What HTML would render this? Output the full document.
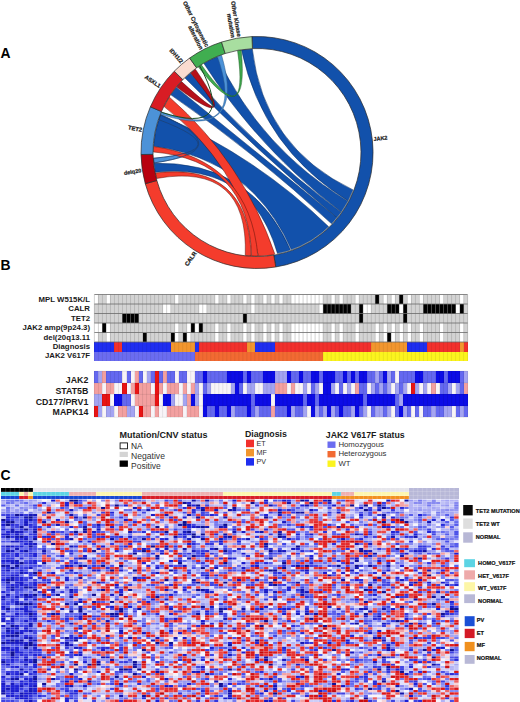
<!DOCTYPE html>
<html><head><meta charset="utf-8"><style>
html,body{margin:0;padding:0;background:#fff;}
body{width:520px;height:702px;position:relative;overflow:hidden;}
</style></head><body>
<svg width="520" height="702" viewBox="0 0 520 702" style="position:absolute;left:0;top:0"><rect width="520" height="702" fill="#ffffff"/><path d="M153.93,162.97 A103.6,103.6 0 0 1 153.56,158.28 Q239.86,150.20 158.75,119.63 A103.6,103.6 0 0 1 160.61,114.53 Q240.05,150.16 153.93,162.97 Z" fill="#4c92d8" stroke="#2a5a8a" stroke-width="0.5"/><path d="M328.97,227.02 A103.6,103.6 0 0 1 291.58,250.16 Q251.84,159.35 153.59,146.18 A103.6,103.6 0 0 1 160.41,115.04 Q255.15,155.28 328.97,227.02 Z" fill="#1251ab" stroke="#062a5c" stroke-width="0.5"/><path d="M290.73,250.46 A103.6,103.6 0 0 1 277.65,254.02 Q250.92,161.60 155.30,172.27 A103.6,103.6 0 0 1 153.97,163.33 Q251.80,160.66 290.73,250.46 Z" fill="#1251ab" stroke="#062a5c" stroke-width="0.5"/><path d="M353.52,190.13 A103.6,103.6 0 0 1 348.47,201.14 Q262.70,148.47 241.51,50.06 A103.6,103.6 0 0 1 252.30,49.01 Q263.89,147.56 353.52,190.13 Z" fill="#1251ab" stroke="#062a5c" stroke-width="0.5"/><path d="M348.30,201.46 A103.6,103.6 0 0 1 341.66,212.22 Q259.37,150.30 203.95,63.51 A103.6,103.6 0 0 1 217.35,56.79 Q260.87,148.99 348.30,201.46 Z" fill="#1251ab" stroke="#062a5c" stroke-width="0.5"/><path d="M341.45,212.51 A103.6,103.6 0 0 1 337.28,217.98 Q257.62,151.82 185.03,77.98 A103.6,103.6 0 0 1 190.41,73.14 Q258.34,151.05 341.45,212.51 Z" fill="#1251ab" stroke="#062a5c" stroke-width="0.5"/><path d="M337.28,217.98 A103.6,103.6 0 0 1 331.90,224.08 Q256.16,153.55 170.91,94.87 A103.6,103.6 0 0 1 176.37,87.44 Q256.97,152.53 337.28,217.98 Z" fill="#1251ab" stroke="#062a5c" stroke-width="0.5"/><path d="M274.99,254.53 A103.6,103.6 0 0 1 258.45,256.09 Q238.71,164.04 164.12,106.60 A103.6,103.6 0 0 1 169.43,97.14 Q243.08,161.83 274.99,254.53 Z" fill="#f43c2c" stroke="#5a1008" stroke-width="0.5"/><path d="M257.90,256.10 A103.6,103.6 0 0 1 251.58,255.96 Q248.82,160.22 153.40,151.96 A103.6,103.6 0 0 1 153.57,146.54 Q249.31,159.82 257.90,256.10 Z" fill="#f43c2c" stroke="#5a1008" stroke-width="0.5"/><path d="M251.04,255.93 A103.6,103.6 0 0 1 245.27,255.43 Q248.60,162.17 156.70,178.44 A103.6,103.6 0 0 1 155.44,172.98 Q248.94,161.79 251.04,255.93 Z" fill="#f43c2c" stroke="#5a1008" stroke-width="0.5"/><path d="M153.93,162.97 A103.6,103.6 0 0 1 153.56,158.28 Q239.86,150.20 158.75,119.63 A103.6,103.6 0 0 1 160.61,114.53 Q240.05,150.16 153.93,162.97 Z" fill="none" stroke="#1d3f70" stroke-width="0.7"/><path d="M176.72,87.02 A103.6,103.6 0 0 1 181.48,81.58 Q241.40,135.94 190.68,72.91 A103.6,103.6 0 0 1 195.38,69.22 Q241.39,136.14 176.72,87.02 Z" fill="#b5101a" stroke="#5a0008" stroke-width="0.5"/><path d="M160.68,114.36 A103.6,103.6 0 0 1 161.64,112.02 Q246.89,142.28 217.52,56.72 A103.6,103.6 0 0 1 221.57,55.15 Q247.12,142.34 160.68,114.36 Z" fill="#4c92d8" stroke="#2a5a8a" stroke-width="0.5"/><path d="M198.47,67.02 A103.6,103.6 0 0 1 201.49,65.03 Q249.51,133.58 237.59,50.74 A103.6,103.6 0 0 1 241.15,50.12 Q249.56,133.71 198.47,67.02 Z" fill="#3fab4d" stroke="#1a5a22" stroke-width="0.5"/><path d="M199.82,66.11 Q237.85,136.43 161.49,112.35" fill="none" stroke="#1a4d24" stroke-width="1.0"/><path d="M251.94,36.61 A116.0,116.0 0 0 1 275.75,266.98 L273.81,255.13 A104.0,104.0 0 0 0 252.46,48.60 Z" fill="#1251ab" stroke="#2a2a2a" stroke-width="0.7"/><path d="M275.75,266.98 A116.0,116.0 0 0 1 145.27,183.69 L156.83,180.47 A104.0,104.0 0 0 0 273.81,255.13 Z" fill="#f43c2c" stroke="#2a2a2a" stroke-width="0.7"/><path d="M145.27,183.69 A116.0,116.0 0 0 1 141.02,154.52 L153.02,154.32 A104.0,104.0 0 0 0 156.83,180.47 Z" fill="#b8000f" stroke="#2a2a2a" stroke-width="0.7"/><path d="M141.02,154.52 A116.0,116.0 0 0 1 150.38,106.80 L161.41,111.53 A104.0,104.0 0 0 0 153.02,154.32 Z" fill="#4c92d8" stroke="#2a2a2a" stroke-width="0.7"/><path d="M150.38,106.80 A116.0,116.0 0 0 1 174.26,71.19 L182.82,79.61 A104.0,104.0 0 0 0 161.41,111.53 Z" fill="#d81c24" stroke="#2a2a2a" stroke-width="0.7"/><path d="M174.26,71.19 A116.0,116.0 0 0 1 189.64,58.06 L196.61,67.83 A104.0,104.0 0 0 0 182.82,79.61 Z" fill="#fadcd0" stroke="#2a2a2a" stroke-width="0.7"/><path d="M189.64,58.06 A116.0,116.0 0 0 1 221.54,42.05 L225.21,53.48 A104.0,104.0 0 0 0 196.61,67.83 Z" fill="#40ae50" stroke="#2a2a2a" stroke-width="0.7"/><path d="M221.54,42.05 A116.0,116.0 0 0 1 251.94,36.61 L252.46,48.60 A104.0,104.0 0 0 0 225.21,53.48 Z" fill="#a8dea0" stroke="#2a2a2a" stroke-width="0.7"/><path d="M353.85,188.71 A103.4,103.4 0 0 1 274.07,254.48" fill="none" stroke="#cfc6a8" stroke-width="0.5"/><g transform="translate(373.42,139.03) rotate(-6.60)"><text x="0" y="1.98" text-anchor="start" font-family="'Liberation Sans', sans-serif" font-weight="bold" font-size="5.5" fill="#1a1a1a" stroke="#1a1a1a" stroke-width="0.22">JAK2</text></g><g transform="translate(195.24,252.11) rotate(-55.00)"><text x="0" y="2.09" text-anchor="end" font-family="'Liberation Sans', sans-serif" font-weight="bold" font-size="5.8" fill="#1a1a1a" stroke="#1a1a1a" stroke-width="0.22">CALR</text></g><g transform="translate(141.18,170.43) rotate(-8.80)"><text x="0" y="1.98" text-anchor="end" font-family="'Liberation Sans', sans-serif" font-weight="bold" font-size="5.5" fill="#1a1a1a" stroke="#1a1a1a" stroke-width="0.22">delq20</text></g><g transform="translate(141.99,129.94) rotate(11.10)"><text x="0" y="2.09" text-anchor="end" font-family="'Liberation Sans', sans-serif" font-weight="bold" font-size="5.8" fill="#1a1a1a" stroke="#1a1a1a" stroke-width="0.22">TET2</text></g><g transform="translate(160.18,86.45) rotate(34.30)"><text x="0" y="2.02" text-anchor="end" font-family="'Liberation Sans', sans-serif" font-weight="bold" font-size="5.6" fill="#1a1a1a" stroke="#1a1a1a" stroke-width="0.22">ASXL1</text></g><g transform="translate(182.14,62.33) rotate(48.50)"><text x="0" y="2.02" text-anchor="end" font-family="'Liberation Sans', sans-serif" font-weight="bold" font-size="5.6" fill="#1a1a1a" stroke="#1a1a1a" stroke-width="0.22">IDH1/2</text></g><g transform="translate(204.43,47.75) rotate(63.35)"><text x="0" y="-1.01" text-anchor="end" font-family="'Liberation Sans', sans-serif" font-weight="bold" font-size="5.8" fill="#1a1a1a" stroke="#1a1a1a" stroke-width="0.22">Other Cytogenetic</text><text x="0" y="5.19" text-anchor="end" font-family="'Liberation Sans', sans-serif" font-weight="bold" font-size="5.8" fill="#1a1a1a" stroke="#1a1a1a" stroke-width="0.22">alteration</text></g><g transform="translate(236.35,37.13) rotate(79.85)"><text x="0" y="-1.01" text-anchor="end" font-family="'Liberation Sans', sans-serif" font-weight="bold" font-size="5.8" fill="#1a1a1a" stroke="#1a1a1a" stroke-width="0.22">Other Kinase</text><text x="0" y="5.19" text-anchor="end" font-family="'Liberation Sans', sans-serif" font-weight="bold" font-size="5.8" fill="#1a1a1a" stroke="#1a1a1a" stroke-width="0.22">mutation</text></g><text x="0.6" y="57.7" font-family="'Liberation Sans', sans-serif" font-weight="bold" font-size="13.9" fill="#000">A</text><text x="0.6" y="270.0" font-family="'Liberation Sans', sans-serif" font-weight="bold" font-size="13.9" fill="#000">B</text><text x="0.6" y="479.6" font-family="'Liberation Sans', sans-serif" font-weight="bold" font-size="13.9" fill="#000">C</text><g shape-rendering="crispEdges"><rect x="94.40" y="294.50" width="4.01" height="9.50" fill="#ffffff"/><rect x="94.40" y="304.00" width="4.01" height="9.50" fill="#d3d3d3"/><rect x="94.40" y="313.50" width="4.01" height="9.50" fill="#d3d3d3"/><rect x="94.40" y="323.00" width="4.01" height="9.50" fill="#ffffff"/><rect x="94.40" y="332.50" width="4.01" height="9.50" fill="#ffffff"/><rect x="94.40" y="342.00" width="4.01" height="9.50" fill="#1f2ef0"/><rect x="94.40" y="351.50" width="4.01" height="9.50" fill="#6b6cf0"/><rect x="98.41" y="294.50" width="4.01" height="9.50" fill="#d3d3d3"/><rect x="98.41" y="304.00" width="4.01" height="9.50" fill="#d3d3d3"/><rect x="98.41" y="313.50" width="4.01" height="9.50" fill="#d3d3d3"/><rect x="98.41" y="323.00" width="4.01" height="9.50" fill="#ffffff"/><rect x="98.41" y="332.50" width="4.01" height="9.50" fill="#d3d3d3"/><rect x="98.41" y="342.00" width="4.01" height="9.50" fill="#1f2ef0"/><rect x="98.41" y="351.50" width="4.01" height="9.50" fill="#6b6cf0"/><rect x="102.43" y="294.50" width="4.01" height="9.50" fill="#d3d3d3"/><rect x="102.43" y="304.00" width="4.01" height="9.50" fill="#d3d3d3"/><rect x="102.43" y="313.50" width="4.01" height="9.50" fill="#d3d3d3"/><rect x="102.43" y="323.00" width="4.01" height="9.50" fill="#000000"/><rect x="102.43" y="332.50" width="4.01" height="9.50" fill="#d3d3d3"/><rect x="102.43" y="342.00" width="4.01" height="9.50" fill="#1f2ef0"/><rect x="102.43" y="351.50" width="4.01" height="9.50" fill="#6b6cf0"/><rect x="106.44" y="294.50" width="4.01" height="9.50" fill="#ffffff"/><rect x="106.44" y="304.00" width="4.01" height="9.50" fill="#d3d3d3"/><rect x="106.44" y="313.50" width="4.01" height="9.50" fill="#d3d3d3"/><rect x="106.44" y="323.00" width="4.01" height="9.50" fill="#ffffff"/><rect x="106.44" y="332.50" width="4.01" height="9.50" fill="#ffffff"/><rect x="106.44" y="342.00" width="4.01" height="9.50" fill="#1f2ef0"/><rect x="106.44" y="351.50" width="4.01" height="9.50" fill="#6b6cf0"/><rect x="110.45" y="294.50" width="4.01" height="9.50" fill="#d3d3d3"/><rect x="110.45" y="304.00" width="4.01" height="9.50" fill="#d3d3d3"/><rect x="110.45" y="313.50" width="4.01" height="9.50" fill="#d3d3d3"/><rect x="110.45" y="323.00" width="4.01" height="9.50" fill="#d3d3d3"/><rect x="110.45" y="332.50" width="4.01" height="9.50" fill="#d3d3d3"/><rect x="110.45" y="342.00" width="4.01" height="9.50" fill="#1f2ef0"/><rect x="110.45" y="351.50" width="4.01" height="9.50" fill="#6b6cf0"/><rect x="114.47" y="294.50" width="4.01" height="9.50" fill="#d3d3d3"/><rect x="114.47" y="304.00" width="4.01" height="9.50" fill="#d3d3d3"/><rect x="114.47" y="313.50" width="4.01" height="9.50" fill="#d3d3d3"/><rect x="114.47" y="323.00" width="4.01" height="9.50" fill="#d3d3d3"/><rect x="114.47" y="332.50" width="4.01" height="9.50" fill="#d3d3d3"/><rect x="114.47" y="342.00" width="4.01" height="9.50" fill="#f2302c"/><rect x="114.47" y="351.50" width="4.01" height="9.50" fill="#6b6cf0"/><rect x="118.48" y="294.50" width="4.01" height="9.50" fill="#d3d3d3"/><rect x="118.48" y="304.00" width="4.01" height="9.50" fill="#d3d3d3"/><rect x="118.48" y="313.50" width="4.01" height="9.50" fill="#d3d3d3"/><rect x="118.48" y="323.00" width="4.01" height="9.50" fill="#d3d3d3"/><rect x="118.48" y="332.50" width="4.01" height="9.50" fill="#d3d3d3"/><rect x="118.48" y="342.00" width="4.01" height="9.50" fill="#f2302c"/><rect x="118.48" y="351.50" width="4.01" height="9.50" fill="#6b6cf0"/><rect x="122.49" y="294.50" width="4.01" height="9.50" fill="#d3d3d3"/><rect x="122.49" y="304.00" width="4.01" height="9.50" fill="#d3d3d3"/><rect x="122.49" y="313.50" width="4.01" height="9.50" fill="#000000"/><rect x="122.49" y="323.00" width="4.01" height="9.50" fill="#d3d3d3"/><rect x="122.49" y="332.50" width="4.01" height="9.50" fill="#d3d3d3"/><rect x="122.49" y="342.00" width="4.01" height="9.50" fill="#1f2ef0"/><rect x="122.49" y="351.50" width="4.01" height="9.50" fill="#6b6cf0"/><rect x="126.50" y="294.50" width="4.01" height="9.50" fill="#d3d3d3"/><rect x="126.50" y="304.00" width="4.01" height="9.50" fill="#d3d3d3"/><rect x="126.50" y="313.50" width="4.01" height="9.50" fill="#000000"/><rect x="126.50" y="323.00" width="4.01" height="9.50" fill="#d3d3d3"/><rect x="126.50" y="332.50" width="4.01" height="9.50" fill="#d3d3d3"/><rect x="126.50" y="342.00" width="4.01" height="9.50" fill="#1f2ef0"/><rect x="126.50" y="351.50" width="4.01" height="9.50" fill="#6b6cf0"/><rect x="130.52" y="294.50" width="4.01" height="9.50" fill="#d3d3d3"/><rect x="130.52" y="304.00" width="4.01" height="9.50" fill="#d3d3d3"/><rect x="130.52" y="313.50" width="4.01" height="9.50" fill="#000000"/><rect x="130.52" y="323.00" width="4.01" height="9.50" fill="#d3d3d3"/><rect x="130.52" y="332.50" width="4.01" height="9.50" fill="#d3d3d3"/><rect x="130.52" y="342.00" width="4.01" height="9.50" fill="#1f2ef0"/><rect x="130.52" y="351.50" width="4.01" height="9.50" fill="#6b6cf0"/><rect x="134.53" y="294.50" width="4.01" height="9.50" fill="#d3d3d3"/><rect x="134.53" y="304.00" width="4.01" height="9.50" fill="#d3d3d3"/><rect x="134.53" y="313.50" width="4.01" height="9.50" fill="#000000"/><rect x="134.53" y="323.00" width="4.01" height="9.50" fill="#d3d3d3"/><rect x="134.53" y="332.50" width="4.01" height="9.50" fill="#d3d3d3"/><rect x="134.53" y="342.00" width="4.01" height="9.50" fill="#1f2ef0"/><rect x="134.53" y="351.50" width="4.01" height="9.50" fill="#6b6cf0"/><rect x="138.54" y="294.50" width="4.01" height="9.50" fill="#d3d3d3"/><rect x="138.54" y="304.00" width="4.01" height="9.50" fill="#d3d3d3"/><rect x="138.54" y="313.50" width="4.01" height="9.50" fill="#d3d3d3"/><rect x="138.54" y="323.00" width="4.01" height="9.50" fill="#d3d3d3"/><rect x="138.54" y="332.50" width="4.01" height="9.50" fill="#d3d3d3"/><rect x="138.54" y="342.00" width="4.01" height="9.50" fill="#1f2ef0"/><rect x="138.54" y="351.50" width="4.01" height="9.50" fill="#6b6cf0"/><rect x="142.56" y="294.50" width="4.01" height="9.50" fill="#d3d3d3"/><rect x="142.56" y="304.00" width="4.01" height="9.50" fill="#d3d3d3"/><rect x="142.56" y="313.50" width="4.01" height="9.50" fill="#d3d3d3"/><rect x="142.56" y="323.00" width="4.01" height="9.50" fill="#d3d3d3"/><rect x="142.56" y="332.50" width="4.01" height="9.50" fill="#000000"/><rect x="142.56" y="342.00" width="4.01" height="9.50" fill="#1f2ef0"/><rect x="142.56" y="351.50" width="4.01" height="9.50" fill="#6b6cf0"/><rect x="146.57" y="294.50" width="4.01" height="9.50" fill="#d3d3d3"/><rect x="146.57" y="304.00" width="4.01" height="9.50" fill="#d3d3d3"/><rect x="146.57" y="313.50" width="4.01" height="9.50" fill="#d3d3d3"/><rect x="146.57" y="323.00" width="4.01" height="9.50" fill="#d3d3d3"/><rect x="146.57" y="332.50" width="4.01" height="9.50" fill="#d3d3d3"/><rect x="146.57" y="342.00" width="4.01" height="9.50" fill="#1f2ef0"/><rect x="146.57" y="351.50" width="4.01" height="9.50" fill="#6b6cf0"/><rect x="150.58" y="294.50" width="4.01" height="9.50" fill="#d3d3d3"/><rect x="150.58" y="304.00" width="4.01" height="9.50" fill="#d3d3d3"/><rect x="150.58" y="313.50" width="4.01" height="9.50" fill="#d3d3d3"/><rect x="150.58" y="323.00" width="4.01" height="9.50" fill="#d3d3d3"/><rect x="150.58" y="332.50" width="4.01" height="9.50" fill="#d3d3d3"/><rect x="150.58" y="342.00" width="4.01" height="9.50" fill="#1f2ef0"/><rect x="150.58" y="351.50" width="4.01" height="9.50" fill="#6b6cf0"/><rect x="154.59" y="294.50" width="4.01" height="9.50" fill="#d3d3d3"/><rect x="154.59" y="304.00" width="4.01" height="9.50" fill="#d3d3d3"/><rect x="154.59" y="313.50" width="4.01" height="9.50" fill="#d3d3d3"/><rect x="154.59" y="323.00" width="4.01" height="9.50" fill="#d3d3d3"/><rect x="154.59" y="332.50" width="4.01" height="9.50" fill="#d3d3d3"/><rect x="154.59" y="342.00" width="4.01" height="9.50" fill="#1f2ef0"/><rect x="154.59" y="351.50" width="4.01" height="9.50" fill="#6b6cf0"/><rect x="158.61" y="294.50" width="4.01" height="9.50" fill="#d3d3d3"/><rect x="158.61" y="304.00" width="4.01" height="9.50" fill="#d3d3d3"/><rect x="158.61" y="313.50" width="4.01" height="9.50" fill="#d3d3d3"/><rect x="158.61" y="323.00" width="4.01" height="9.50" fill="#d3d3d3"/><rect x="158.61" y="332.50" width="4.01" height="9.50" fill="#d3d3d3"/><rect x="158.61" y="342.00" width="4.01" height="9.50" fill="#1f2ef0"/><rect x="158.61" y="351.50" width="4.01" height="9.50" fill="#6b6cf0"/><rect x="162.62" y="294.50" width="4.01" height="9.50" fill="#d3d3d3"/><rect x="162.62" y="304.00" width="4.01" height="9.50" fill="#ffffff"/><rect x="162.62" y="313.50" width="4.01" height="9.50" fill="#d3d3d3"/><rect x="162.62" y="323.00" width="4.01" height="9.50" fill="#d3d3d3"/><rect x="162.62" y="332.50" width="4.01" height="9.50" fill="#d3d3d3"/><rect x="162.62" y="342.00" width="4.01" height="9.50" fill="#1f2ef0"/><rect x="162.62" y="351.50" width="4.01" height="9.50" fill="#6b6cf0"/><rect x="166.63" y="294.50" width="4.01" height="9.50" fill="#d3d3d3"/><rect x="166.63" y="304.00" width="4.01" height="9.50" fill="#ffffff"/><rect x="166.63" y="313.50" width="4.01" height="9.50" fill="#d3d3d3"/><rect x="166.63" y="323.00" width="4.01" height="9.50" fill="#d3d3d3"/><rect x="166.63" y="332.50" width="4.01" height="9.50" fill="#d3d3d3"/><rect x="166.63" y="342.00" width="4.01" height="9.50" fill="#1f2ef0"/><rect x="166.63" y="351.50" width="4.01" height="9.50" fill="#6b6cf0"/><rect x="170.65" y="294.50" width="4.01" height="9.50" fill="#d3d3d3"/><rect x="170.65" y="304.00" width="4.01" height="9.50" fill="#d3d3d3"/><rect x="170.65" y="313.50" width="4.01" height="9.50" fill="#d3d3d3"/><rect x="170.65" y="323.00" width="4.01" height="9.50" fill="#d3d3d3"/><rect x="170.65" y="332.50" width="4.01" height="9.50" fill="#000000"/><rect x="170.65" y="342.00" width="4.01" height="9.50" fill="#f2962e"/><rect x="170.65" y="351.50" width="4.01" height="9.50" fill="#6b6cf0"/><rect x="174.66" y="294.50" width="4.01" height="9.50" fill="#ffffff"/><rect x="174.66" y="304.00" width="4.01" height="9.50" fill="#d3d3d3"/><rect x="174.66" y="313.50" width="4.01" height="9.50" fill="#d3d3d3"/><rect x="174.66" y="323.00" width="4.01" height="9.50" fill="#ffffff"/><rect x="174.66" y="332.50" width="4.01" height="9.50" fill="#ffffff"/><rect x="174.66" y="342.00" width="4.01" height="9.50" fill="#f2962e"/><rect x="174.66" y="351.50" width="4.01" height="9.50" fill="#6b6cf0"/><rect x="178.67" y="294.50" width="4.01" height="9.50" fill="#d3d3d3"/><rect x="178.67" y="304.00" width="4.01" height="9.50" fill="#d3d3d3"/><rect x="178.67" y="313.50" width="4.01" height="9.50" fill="#d3d3d3"/><rect x="178.67" y="323.00" width="4.01" height="9.50" fill="#d3d3d3"/><rect x="178.67" y="332.50" width="4.01" height="9.50" fill="#d3d3d3"/><rect x="178.67" y="342.00" width="4.01" height="9.50" fill="#f2962e"/><rect x="178.67" y="351.50" width="4.01" height="9.50" fill="#6b6cf0"/><rect x="182.69" y="294.50" width="4.01" height="9.50" fill="#d3d3d3"/><rect x="182.69" y="304.00" width="4.01" height="9.50" fill="#d3d3d3"/><rect x="182.69" y="313.50" width="4.01" height="9.50" fill="#d3d3d3"/><rect x="182.69" y="323.00" width="4.01" height="9.50" fill="#d3d3d3"/><rect x="182.69" y="332.50" width="4.01" height="9.50" fill="#000000"/><rect x="182.69" y="342.00" width="4.01" height="9.50" fill="#f2962e"/><rect x="182.69" y="351.50" width="4.01" height="9.50" fill="#6b6cf0"/><rect x="186.70" y="294.50" width="4.01" height="9.50" fill="#d3d3d3"/><rect x="186.70" y="304.00" width="4.01" height="9.50" fill="#d3d3d3"/><rect x="186.70" y="313.50" width="4.01" height="9.50" fill="#d3d3d3"/><rect x="186.70" y="323.00" width="4.01" height="9.50" fill="#ffffff"/><rect x="186.70" y="332.50" width="4.01" height="9.50" fill="#ffffff"/><rect x="186.70" y="342.00" width="4.01" height="9.50" fill="#f2962e"/><rect x="186.70" y="351.50" width="4.01" height="9.50" fill="#6b6cf0"/><rect x="190.71" y="294.50" width="4.01" height="9.50" fill="#d3d3d3"/><rect x="190.71" y="304.00" width="4.01" height="9.50" fill="#d3d3d3"/><rect x="190.71" y="313.50" width="4.01" height="9.50" fill="#d3d3d3"/><rect x="190.71" y="323.00" width="4.01" height="9.50" fill="#000000"/><rect x="190.71" y="332.50" width="4.01" height="9.50" fill="#d3d3d3"/><rect x="190.71" y="342.00" width="4.01" height="9.50" fill="#f2962e"/><rect x="190.71" y="351.50" width="4.01" height="9.50" fill="#6b6cf0"/><rect x="194.73" y="294.50" width="4.01" height="9.50" fill="#d3d3d3"/><rect x="194.73" y="304.00" width="4.01" height="9.50" fill="#d3d3d3"/><rect x="194.73" y="313.50" width="4.01" height="9.50" fill="#d3d3d3"/><rect x="194.73" y="323.00" width="4.01" height="9.50" fill="#ffffff"/><rect x="194.73" y="332.50" width="4.01" height="9.50" fill="#d3d3d3"/><rect x="194.73" y="342.00" width="4.01" height="9.50" fill="#1f2ef0"/><rect x="194.73" y="351.50" width="4.01" height="9.50" fill="#f26a32"/><rect x="198.74" y="294.50" width="4.01" height="9.50" fill="#d3d3d3"/><rect x="198.74" y="304.00" width="4.01" height="9.50" fill="#ffffff"/><rect x="198.74" y="313.50" width="4.01" height="9.50" fill="#d3d3d3"/><rect x="198.74" y="323.00" width="4.01" height="9.50" fill="#000000"/><rect x="198.74" y="332.50" width="4.01" height="9.50" fill="#d3d3d3"/><rect x="198.74" y="342.00" width="4.01" height="9.50" fill="#f2302c"/><rect x="198.74" y="351.50" width="4.01" height="9.50" fill="#f26a32"/><rect x="202.75" y="294.50" width="4.01" height="9.50" fill="#d3d3d3"/><rect x="202.75" y="304.00" width="4.01" height="9.50" fill="#ffffff"/><rect x="202.75" y="313.50" width="4.01" height="9.50" fill="#d3d3d3"/><rect x="202.75" y="323.00" width="4.01" height="9.50" fill="#d3d3d3"/><rect x="202.75" y="332.50" width="4.01" height="9.50" fill="#d3d3d3"/><rect x="202.75" y="342.00" width="4.01" height="9.50" fill="#f2302c"/><rect x="202.75" y="351.50" width="4.01" height="9.50" fill="#f26a32"/><rect x="206.76" y="294.50" width="4.01" height="9.50" fill="#d3d3d3"/><rect x="206.76" y="304.00" width="4.01" height="9.50" fill="#d3d3d3"/><rect x="206.76" y="313.50" width="4.01" height="9.50" fill="#d3d3d3"/><rect x="206.76" y="323.00" width="4.01" height="9.50" fill="#d3d3d3"/><rect x="206.76" y="332.50" width="4.01" height="9.50" fill="#d3d3d3"/><rect x="206.76" y="342.00" width="4.01" height="9.50" fill="#f2302c"/><rect x="206.76" y="351.50" width="4.01" height="9.50" fill="#f26a32"/><rect x="210.78" y="294.50" width="4.01" height="9.50" fill="#d3d3d3"/><rect x="210.78" y="304.00" width="4.01" height="9.50" fill="#d3d3d3"/><rect x="210.78" y="313.50" width="4.01" height="9.50" fill="#d3d3d3"/><rect x="210.78" y="323.00" width="4.01" height="9.50" fill="#d3d3d3"/><rect x="210.78" y="332.50" width="4.01" height="9.50" fill="#d3d3d3"/><rect x="210.78" y="342.00" width="4.01" height="9.50" fill="#f2302c"/><rect x="210.78" y="351.50" width="4.01" height="9.50" fill="#f26a32"/><rect x="214.79" y="294.50" width="4.01" height="9.50" fill="#ffffff"/><rect x="214.79" y="304.00" width="4.01" height="9.50" fill="#d3d3d3"/><rect x="214.79" y="313.50" width="4.01" height="9.50" fill="#d3d3d3"/><rect x="214.79" y="323.00" width="4.01" height="9.50" fill="#ffffff"/><rect x="214.79" y="332.50" width="4.01" height="9.50" fill="#ffffff"/><rect x="214.79" y="342.00" width="4.01" height="9.50" fill="#f2302c"/><rect x="214.79" y="351.50" width="4.01" height="9.50" fill="#f26a32"/><rect x="218.80" y="294.50" width="4.01" height="9.50" fill="#d3d3d3"/><rect x="218.80" y="304.00" width="4.01" height="9.50" fill="#d3d3d3"/><rect x="218.80" y="313.50" width="4.01" height="9.50" fill="#d3d3d3"/><rect x="218.80" y="323.00" width="4.01" height="9.50" fill="#d3d3d3"/><rect x="218.80" y="332.50" width="4.01" height="9.50" fill="#d3d3d3"/><rect x="218.80" y="342.00" width="4.01" height="9.50" fill="#f2302c"/><rect x="218.80" y="351.50" width="4.01" height="9.50" fill="#f26a32"/><rect x="222.82" y="294.50" width="4.01" height="9.50" fill="#d3d3d3"/><rect x="222.82" y="304.00" width="4.01" height="9.50" fill="#d3d3d3"/><rect x="222.82" y="313.50" width="4.01" height="9.50" fill="#d3d3d3"/><rect x="222.82" y="323.00" width="4.01" height="9.50" fill="#d3d3d3"/><rect x="222.82" y="332.50" width="4.01" height="9.50" fill="#d3d3d3"/><rect x="222.82" y="342.00" width="4.01" height="9.50" fill="#f2302c"/><rect x="222.82" y="351.50" width="4.01" height="9.50" fill="#f26a32"/><rect x="226.83" y="294.50" width="4.01" height="9.50" fill="#ffffff"/><rect x="226.83" y="304.00" width="4.01" height="9.50" fill="#d3d3d3"/><rect x="226.83" y="313.50" width="4.01" height="9.50" fill="#d3d3d3"/><rect x="226.83" y="323.00" width="4.01" height="9.50" fill="#ffffff"/><rect x="226.83" y="332.50" width="4.01" height="9.50" fill="#ffffff"/><rect x="226.83" y="342.00" width="4.01" height="9.50" fill="#f2302c"/><rect x="226.83" y="351.50" width="4.01" height="9.50" fill="#f26a32"/><rect x="230.84" y="294.50" width="4.01" height="9.50" fill="#d3d3d3"/><rect x="230.84" y="304.00" width="4.01" height="9.50" fill="#d3d3d3"/><rect x="230.84" y="313.50" width="4.01" height="9.50" fill="#d3d3d3"/><rect x="230.84" y="323.00" width="4.01" height="9.50" fill="#d3d3d3"/><rect x="230.84" y="332.50" width="4.01" height="9.50" fill="#d3d3d3"/><rect x="230.84" y="342.00" width="4.01" height="9.50" fill="#f2302c"/><rect x="230.84" y="351.50" width="4.01" height="9.50" fill="#f26a32"/><rect x="234.85" y="294.50" width="4.01" height="9.50" fill="#d3d3d3"/><rect x="234.85" y="304.00" width="4.01" height="9.50" fill="#d3d3d3"/><rect x="234.85" y="313.50" width="4.01" height="9.50" fill="#d3d3d3"/><rect x="234.85" y="323.00" width="4.01" height="9.50" fill="#d3d3d3"/><rect x="234.85" y="332.50" width="4.01" height="9.50" fill="#d3d3d3"/><rect x="234.85" y="342.00" width="4.01" height="9.50" fill="#f2302c"/><rect x="234.85" y="351.50" width="4.01" height="9.50" fill="#f26a32"/><rect x="238.87" y="294.50" width="4.01" height="9.50" fill="#d3d3d3"/><rect x="238.87" y="304.00" width="4.01" height="9.50" fill="#d3d3d3"/><rect x="238.87" y="313.50" width="4.01" height="9.50" fill="#d3d3d3"/><rect x="238.87" y="323.00" width="4.01" height="9.50" fill="#d3d3d3"/><rect x="238.87" y="332.50" width="4.01" height="9.50" fill="#d3d3d3"/><rect x="238.87" y="342.00" width="4.01" height="9.50" fill="#f2302c"/><rect x="238.87" y="351.50" width="4.01" height="9.50" fill="#f26a32"/><rect x="242.88" y="294.50" width="4.01" height="9.50" fill="#ffffff"/><rect x="242.88" y="304.00" width="4.01" height="9.50" fill="#d3d3d3"/><rect x="242.88" y="313.50" width="4.01" height="9.50" fill="#000000"/><rect x="242.88" y="323.00" width="4.01" height="9.50" fill="#ffffff"/><rect x="242.88" y="332.50" width="4.01" height="9.50" fill="#ffffff"/><rect x="242.88" y="342.00" width="4.01" height="9.50" fill="#f2302c"/><rect x="242.88" y="351.50" width="4.01" height="9.50" fill="#f26a32"/><rect x="246.89" y="294.50" width="4.01" height="9.50" fill="#d3d3d3"/><rect x="246.89" y="304.00" width="4.01" height="9.50" fill="#d3d3d3"/><rect x="246.89" y="313.50" width="4.01" height="9.50" fill="#d3d3d3"/><rect x="246.89" y="323.00" width="4.01" height="9.50" fill="#d3d3d3"/><rect x="246.89" y="332.50" width="4.01" height="9.50" fill="#d3d3d3"/><rect x="246.89" y="342.00" width="4.01" height="9.50" fill="#f2962e"/><rect x="246.89" y="351.50" width="4.01" height="9.50" fill="#f26a32"/><rect x="250.91" y="294.50" width="4.01" height="9.50" fill="#ffffff"/><rect x="250.91" y="304.00" width="4.01" height="9.50" fill="#ffffff"/><rect x="250.91" y="313.50" width="4.01" height="9.50" fill="#d3d3d3"/><rect x="250.91" y="323.00" width="4.01" height="9.50" fill="#ffffff"/><rect x="250.91" y="332.50" width="4.01" height="9.50" fill="#ffffff"/><rect x="250.91" y="342.00" width="4.01" height="9.50" fill="#f2962e"/><rect x="250.91" y="351.50" width="4.01" height="9.50" fill="#f26a32"/><rect x="254.92" y="294.50" width="4.01" height="9.50" fill="#d3d3d3"/><rect x="254.92" y="304.00" width="4.01" height="9.50" fill="#d3d3d3"/><rect x="254.92" y="313.50" width="4.01" height="9.50" fill="#d3d3d3"/><rect x="254.92" y="323.00" width="4.01" height="9.50" fill="#d3d3d3"/><rect x="254.92" y="332.50" width="4.01" height="9.50" fill="#d3d3d3"/><rect x="254.92" y="342.00" width="4.01" height="9.50" fill="#1f2ef0"/><rect x="254.92" y="351.50" width="4.01" height="9.50" fill="#f26a32"/><rect x="258.93" y="294.50" width="4.01" height="9.50" fill="#d3d3d3"/><rect x="258.93" y="304.00" width="4.01" height="9.50" fill="#d3d3d3"/><rect x="258.93" y="313.50" width="4.01" height="9.50" fill="#d3d3d3"/><rect x="258.93" y="323.00" width="4.01" height="9.50" fill="#d3d3d3"/><rect x="258.93" y="332.50" width="4.01" height="9.50" fill="#d3d3d3"/><rect x="258.93" y="342.00" width="4.01" height="9.50" fill="#1f2ef0"/><rect x="258.93" y="351.50" width="4.01" height="9.50" fill="#f26a32"/><rect x="262.95" y="294.50" width="4.01" height="9.50" fill="#ffffff"/><rect x="262.95" y="304.00" width="4.01" height="9.50" fill="#d3d3d3"/><rect x="262.95" y="313.50" width="4.01" height="9.50" fill="#d3d3d3"/><rect x="262.95" y="323.00" width="4.01" height="9.50" fill="#ffffff"/><rect x="262.95" y="332.50" width="4.01" height="9.50" fill="#ffffff"/><rect x="262.95" y="342.00" width="4.01" height="9.50" fill="#1f2ef0"/><rect x="262.95" y="351.50" width="4.01" height="9.50" fill="#f26a32"/><rect x="266.96" y="294.50" width="4.01" height="9.50" fill="#d3d3d3"/><rect x="266.96" y="304.00" width="4.01" height="9.50" fill="#d3d3d3"/><rect x="266.96" y="313.50" width="4.01" height="9.50" fill="#d3d3d3"/><rect x="266.96" y="323.00" width="4.01" height="9.50" fill="#d3d3d3"/><rect x="266.96" y="332.50" width="4.01" height="9.50" fill="#d3d3d3"/><rect x="266.96" y="342.00" width="4.01" height="9.50" fill="#1f2ef0"/><rect x="266.96" y="351.50" width="4.01" height="9.50" fill="#f26a32"/><rect x="270.97" y="294.50" width="4.01" height="9.50" fill="#ffffff"/><rect x="270.97" y="304.00" width="4.01" height="9.50" fill="#d3d3d3"/><rect x="270.97" y="313.50" width="4.01" height="9.50" fill="#d3d3d3"/><rect x="270.97" y="323.00" width="4.01" height="9.50" fill="#ffffff"/><rect x="270.97" y="332.50" width="4.01" height="9.50" fill="#ffffff"/><rect x="270.97" y="342.00" width="4.01" height="9.50" fill="#1f2ef0"/><rect x="270.97" y="351.50" width="4.01" height="9.50" fill="#f26a32"/><rect x="274.99" y="294.50" width="4.01" height="9.50" fill="#d3d3d3"/><rect x="274.99" y="304.00" width="4.01" height="9.50" fill="#d3d3d3"/><rect x="274.99" y="313.50" width="4.01" height="9.50" fill="#d3d3d3"/><rect x="274.99" y="323.00" width="4.01" height="9.50" fill="#d3d3d3"/><rect x="274.99" y="332.50" width="4.01" height="9.50" fill="#d3d3d3"/><rect x="274.99" y="342.00" width="4.01" height="9.50" fill="#f2302c"/><rect x="274.99" y="351.50" width="4.01" height="9.50" fill="#f26a32"/><rect x="279.00" y="294.50" width="4.01" height="9.50" fill="#ffffff"/><rect x="279.00" y="304.00" width="4.01" height="9.50" fill="#d3d3d3"/><rect x="279.00" y="313.50" width="4.01" height="9.50" fill="#d3d3d3"/><rect x="279.00" y="323.00" width="4.01" height="9.50" fill="#ffffff"/><rect x="279.00" y="332.50" width="4.01" height="9.50" fill="#ffffff"/><rect x="279.00" y="342.00" width="4.01" height="9.50" fill="#f2302c"/><rect x="279.00" y="351.50" width="4.01" height="9.50" fill="#f26a32"/><rect x="283.01" y="294.50" width="4.01" height="9.50" fill="#d3d3d3"/><rect x="283.01" y="304.00" width="4.01" height="9.50" fill="#d3d3d3"/><rect x="283.01" y="313.50" width="4.01" height="9.50" fill="#d3d3d3"/><rect x="283.01" y="323.00" width="4.01" height="9.50" fill="#d3d3d3"/><rect x="283.01" y="332.50" width="4.01" height="9.50" fill="#d3d3d3"/><rect x="283.01" y="342.00" width="4.01" height="9.50" fill="#f2302c"/><rect x="283.01" y="351.50" width="4.01" height="9.50" fill="#f26a32"/><rect x="287.02" y="294.50" width="4.01" height="9.50" fill="#d3d3d3"/><rect x="287.02" y="304.00" width="4.01" height="9.50" fill="#d3d3d3"/><rect x="287.02" y="313.50" width="4.01" height="9.50" fill="#d3d3d3"/><rect x="287.02" y="323.00" width="4.01" height="9.50" fill="#d3d3d3"/><rect x="287.02" y="332.50" width="4.01" height="9.50" fill="#d3d3d3"/><rect x="287.02" y="342.00" width="4.01" height="9.50" fill="#f2302c"/><rect x="287.02" y="351.50" width="4.01" height="9.50" fill="#f26a32"/><rect x="291.04" y="294.50" width="4.01" height="9.50" fill="#ffffff"/><rect x="291.04" y="304.00" width="4.01" height="9.50" fill="#d3d3d3"/><rect x="291.04" y="313.50" width="4.01" height="9.50" fill="#d3d3d3"/><rect x="291.04" y="323.00" width="4.01" height="9.50" fill="#ffffff"/><rect x="291.04" y="332.50" width="4.01" height="9.50" fill="#ffffff"/><rect x="291.04" y="342.00" width="4.01" height="9.50" fill="#f2302c"/><rect x="291.04" y="351.50" width="4.01" height="9.50" fill="#f26a32"/><rect x="295.05" y="294.50" width="4.01" height="9.50" fill="#ffffff"/><rect x="295.05" y="304.00" width="4.01" height="9.50" fill="#d3d3d3"/><rect x="295.05" y="313.50" width="4.01" height="9.50" fill="#d3d3d3"/><rect x="295.05" y="323.00" width="4.01" height="9.50" fill="#ffffff"/><rect x="295.05" y="332.50" width="4.01" height="9.50" fill="#ffffff"/><rect x="295.05" y="342.00" width="4.01" height="9.50" fill="#f2302c"/><rect x="295.05" y="351.50" width="4.01" height="9.50" fill="#f26a32"/><rect x="299.06" y="294.50" width="4.01" height="9.50" fill="#ffffff"/><rect x="299.06" y="304.00" width="4.01" height="9.50" fill="#d3d3d3"/><rect x="299.06" y="313.50" width="4.01" height="9.50" fill="#d3d3d3"/><rect x="299.06" y="323.00" width="4.01" height="9.50" fill="#ffffff"/><rect x="299.06" y="332.50" width="4.01" height="9.50" fill="#ffffff"/><rect x="299.06" y="342.00" width="4.01" height="9.50" fill="#f2302c"/><rect x="299.06" y="351.50" width="4.01" height="9.50" fill="#f26a32"/><rect x="303.08" y="294.50" width="4.01" height="9.50" fill="#ffffff"/><rect x="303.08" y="304.00" width="4.01" height="9.50" fill="#d3d3d3"/><rect x="303.08" y="313.50" width="4.01" height="9.50" fill="#d3d3d3"/><rect x="303.08" y="323.00" width="4.01" height="9.50" fill="#ffffff"/><rect x="303.08" y="332.50" width="4.01" height="9.50" fill="#ffffff"/><rect x="303.08" y="342.00" width="4.01" height="9.50" fill="#f2302c"/><rect x="303.08" y="351.50" width="4.01" height="9.50" fill="#f26a32"/><rect x="307.09" y="294.50" width="4.01" height="9.50" fill="#ffffff"/><rect x="307.09" y="304.00" width="4.01" height="9.50" fill="#d3d3d3"/><rect x="307.09" y="313.50" width="4.01" height="9.50" fill="#d3d3d3"/><rect x="307.09" y="323.00" width="4.01" height="9.50" fill="#ffffff"/><rect x="307.09" y="332.50" width="4.01" height="9.50" fill="#ffffff"/><rect x="307.09" y="342.00" width="4.01" height="9.50" fill="#f2302c"/><rect x="307.09" y="351.50" width="4.01" height="9.50" fill="#f26a32"/><rect x="311.10" y="294.50" width="4.01" height="9.50" fill="#ffffff"/><rect x="311.10" y="304.00" width="4.01" height="9.50" fill="#d3d3d3"/><rect x="311.10" y="313.50" width="4.01" height="9.50" fill="#d3d3d3"/><rect x="311.10" y="323.00" width="4.01" height="9.50" fill="#ffffff"/><rect x="311.10" y="332.50" width="4.01" height="9.50" fill="#ffffff"/><rect x="311.10" y="342.00" width="4.01" height="9.50" fill="#f2302c"/><rect x="311.10" y="351.50" width="4.01" height="9.50" fill="#f26a32"/><rect x="315.12" y="294.50" width="4.01" height="9.50" fill="#ffffff"/><rect x="315.12" y="304.00" width="4.01" height="9.50" fill="#d3d3d3"/><rect x="315.12" y="313.50" width="4.01" height="9.50" fill="#d3d3d3"/><rect x="315.12" y="323.00" width="4.01" height="9.50" fill="#ffffff"/><rect x="315.12" y="332.50" width="4.01" height="9.50" fill="#ffffff"/><rect x="315.12" y="342.00" width="4.01" height="9.50" fill="#f2302c"/><rect x="315.12" y="351.50" width="4.01" height="9.50" fill="#f26a32"/><rect x="319.13" y="294.50" width="4.01" height="9.50" fill="#ffffff"/><rect x="319.13" y="304.00" width="4.01" height="9.50" fill="#ffffff"/><rect x="319.13" y="313.50" width="4.01" height="9.50" fill="#d3d3d3"/><rect x="319.13" y="323.00" width="4.01" height="9.50" fill="#ffffff"/><rect x="319.13" y="332.50" width="4.01" height="9.50" fill="#ffffff"/><rect x="319.13" y="342.00" width="4.01" height="9.50" fill="#f2302c"/><rect x="319.13" y="351.50" width="4.01" height="9.50" fill="#f26a32"/><rect x="323.14" y="294.50" width="4.01" height="9.50" fill="#d3d3d3"/><rect x="323.14" y="304.00" width="4.01" height="9.50" fill="#000000"/><rect x="323.14" y="313.50" width="4.01" height="9.50" fill="#d3d3d3"/><rect x="323.14" y="323.00" width="4.01" height="9.50" fill="#d3d3d3"/><rect x="323.14" y="332.50" width="4.01" height="9.50" fill="#d3d3d3"/><rect x="323.14" y="342.00" width="4.01" height="9.50" fill="#f2302c"/><rect x="323.14" y="351.50" width="4.01" height="9.50" fill="#fbf41e"/><rect x="327.15" y="294.50" width="4.01" height="9.50" fill="#d3d3d3"/><rect x="327.15" y="304.00" width="4.01" height="9.50" fill="#000000"/><rect x="327.15" y="313.50" width="4.01" height="9.50" fill="#d3d3d3"/><rect x="327.15" y="323.00" width="4.01" height="9.50" fill="#d3d3d3"/><rect x="327.15" y="332.50" width="4.01" height="9.50" fill="#d3d3d3"/><rect x="327.15" y="342.00" width="4.01" height="9.50" fill="#f2302c"/><rect x="327.15" y="351.50" width="4.01" height="9.50" fill="#fbf41e"/><rect x="331.17" y="294.50" width="4.01" height="9.50" fill="#ffffff"/><rect x="331.17" y="304.00" width="4.01" height="9.50" fill="#000000"/><rect x="331.17" y="313.50" width="4.01" height="9.50" fill="#d3d3d3"/><rect x="331.17" y="323.00" width="4.01" height="9.50" fill="#ffffff"/><rect x="331.17" y="332.50" width="4.01" height="9.50" fill="#ffffff"/><rect x="331.17" y="342.00" width="4.01" height="9.50" fill="#f2302c"/><rect x="331.17" y="351.50" width="4.01" height="9.50" fill="#fbf41e"/><rect x="335.18" y="294.50" width="4.01" height="9.50" fill="#d3d3d3"/><rect x="335.18" y="304.00" width="4.01" height="9.50" fill="#000000"/><rect x="335.18" y="313.50" width="4.01" height="9.50" fill="#d3d3d3"/><rect x="335.18" y="323.00" width="4.01" height="9.50" fill="#d3d3d3"/><rect x="335.18" y="332.50" width="4.01" height="9.50" fill="#d3d3d3"/><rect x="335.18" y="342.00" width="4.01" height="9.50" fill="#f2302c"/><rect x="335.18" y="351.50" width="4.01" height="9.50" fill="#fbf41e"/><rect x="339.19" y="294.50" width="4.01" height="9.50" fill="#ffffff"/><rect x="339.19" y="304.00" width="4.01" height="9.50" fill="#000000"/><rect x="339.19" y="313.50" width="4.01" height="9.50" fill="#d3d3d3"/><rect x="339.19" y="323.00" width="4.01" height="9.50" fill="#ffffff"/><rect x="339.19" y="332.50" width="4.01" height="9.50" fill="#ffffff"/><rect x="339.19" y="342.00" width="4.01" height="9.50" fill="#f2302c"/><rect x="339.19" y="351.50" width="4.01" height="9.50" fill="#fbf41e"/><rect x="343.21" y="294.50" width="4.01" height="9.50" fill="#d3d3d3"/><rect x="343.21" y="304.00" width="4.01" height="9.50" fill="#000000"/><rect x="343.21" y="313.50" width="4.01" height="9.50" fill="#d3d3d3"/><rect x="343.21" y="323.00" width="4.01" height="9.50" fill="#d3d3d3"/><rect x="343.21" y="332.50" width="4.01" height="9.50" fill="#d3d3d3"/><rect x="343.21" y="342.00" width="4.01" height="9.50" fill="#f2302c"/><rect x="343.21" y="351.50" width="4.01" height="9.50" fill="#fbf41e"/><rect x="347.22" y="294.50" width="4.01" height="9.50" fill="#d3d3d3"/><rect x="347.22" y="304.00" width="4.01" height="9.50" fill="#000000"/><rect x="347.22" y="313.50" width="4.01" height="9.50" fill="#d3d3d3"/><rect x="347.22" y="323.00" width="4.01" height="9.50" fill="#d3d3d3"/><rect x="347.22" y="332.50" width="4.01" height="9.50" fill="#d3d3d3"/><rect x="347.22" y="342.00" width="4.01" height="9.50" fill="#f2302c"/><rect x="347.22" y="351.50" width="4.01" height="9.50" fill="#fbf41e"/><rect x="351.23" y="294.50" width="4.01" height="9.50" fill="#d3d3d3"/><rect x="351.23" y="304.00" width="4.01" height="9.50" fill="#d3d3d3"/><rect x="351.23" y="313.50" width="4.01" height="9.50" fill="#d3d3d3"/><rect x="351.23" y="323.00" width="4.01" height="9.50" fill="#d3d3d3"/><rect x="351.23" y="332.50" width="4.01" height="9.50" fill="#d3d3d3"/><rect x="351.23" y="342.00" width="4.01" height="9.50" fill="#f2302c"/><rect x="351.23" y="351.50" width="4.01" height="9.50" fill="#fbf41e"/><rect x="355.25" y="294.50" width="4.01" height="9.50" fill="#ffffff"/><rect x="355.25" y="304.00" width="4.01" height="9.50" fill="#d3d3d3"/><rect x="355.25" y="313.50" width="4.01" height="9.50" fill="#d3d3d3"/><rect x="355.25" y="323.00" width="4.01" height="9.50" fill="#ffffff"/><rect x="355.25" y="332.50" width="4.01" height="9.50" fill="#ffffff"/><rect x="355.25" y="342.00" width="4.01" height="9.50" fill="#f2302c"/><rect x="355.25" y="351.50" width="4.01" height="9.50" fill="#fbf41e"/><rect x="359.26" y="294.50" width="4.01" height="9.50" fill="#d3d3d3"/><rect x="359.26" y="304.00" width="4.01" height="9.50" fill="#000000"/><rect x="359.26" y="313.50" width="4.01" height="9.50" fill="#000000"/><rect x="359.26" y="323.00" width="4.01" height="9.50" fill="#d3d3d3"/><rect x="359.26" y="332.50" width="4.01" height="9.50" fill="#d3d3d3"/><rect x="359.26" y="342.00" width="4.01" height="9.50" fill="#f2302c"/><rect x="359.26" y="351.50" width="4.01" height="9.50" fill="#fbf41e"/><rect x="363.27" y="294.50" width="4.01" height="9.50" fill="#d3d3d3"/><rect x="363.27" y="304.00" width="4.01" height="9.50" fill="#ffffff"/><rect x="363.27" y="313.50" width="4.01" height="9.50" fill="#d3d3d3"/><rect x="363.27" y="323.00" width="4.01" height="9.50" fill="#d3d3d3"/><rect x="363.27" y="332.50" width="4.01" height="9.50" fill="#d3d3d3"/><rect x="363.27" y="342.00" width="4.01" height="9.50" fill="#f2302c"/><rect x="363.27" y="351.50" width="4.01" height="9.50" fill="#fbf41e"/><rect x="367.28" y="294.50" width="4.01" height="9.50" fill="#d3d3d3"/><rect x="367.28" y="304.00" width="4.01" height="9.50" fill="#ffffff"/><rect x="367.28" y="313.50" width="4.01" height="9.50" fill="#d3d3d3"/><rect x="367.28" y="323.00" width="4.01" height="9.50" fill="#d3d3d3"/><rect x="367.28" y="332.50" width="4.01" height="9.50" fill="#d3d3d3"/><rect x="367.28" y="342.00" width="4.01" height="9.50" fill="#f2302c"/><rect x="367.28" y="351.50" width="4.01" height="9.50" fill="#fbf41e"/><rect x="371.30" y="294.50" width="4.01" height="9.50" fill="#d3d3d3"/><rect x="371.30" y="304.00" width="4.01" height="9.50" fill="#d3d3d3"/><rect x="371.30" y="313.50" width="4.01" height="9.50" fill="#d3d3d3"/><rect x="371.30" y="323.00" width="4.01" height="9.50" fill="#d3d3d3"/><rect x="371.30" y="332.50" width="4.01" height="9.50" fill="#d3d3d3"/><rect x="371.30" y="342.00" width="4.01" height="9.50" fill="#f2962e"/><rect x="371.30" y="351.50" width="4.01" height="9.50" fill="#fbf41e"/><rect x="375.31" y="294.50" width="4.01" height="9.50" fill="#000000"/><rect x="375.31" y="304.00" width="4.01" height="9.50" fill="#d3d3d3"/><rect x="375.31" y="313.50" width="4.01" height="9.50" fill="#d3d3d3"/><rect x="375.31" y="323.00" width="4.01" height="9.50" fill="#ffffff"/><rect x="375.31" y="332.50" width="4.01" height="9.50" fill="#ffffff"/><rect x="375.31" y="342.00" width="4.01" height="9.50" fill="#f2962e"/><rect x="375.31" y="351.50" width="4.01" height="9.50" fill="#fbf41e"/><rect x="379.32" y="294.50" width="4.01" height="9.50" fill="#d3d3d3"/><rect x="379.32" y="304.00" width="4.01" height="9.50" fill="#d3d3d3"/><rect x="379.32" y="313.50" width="4.01" height="9.50" fill="#d3d3d3"/><rect x="379.32" y="323.00" width="4.01" height="9.50" fill="#d3d3d3"/><rect x="379.32" y="332.50" width="4.01" height="9.50" fill="#d3d3d3"/><rect x="379.32" y="342.00" width="4.01" height="9.50" fill="#f2962e"/><rect x="379.32" y="351.50" width="4.01" height="9.50" fill="#fbf41e"/><rect x="383.34" y="294.50" width="4.01" height="9.50" fill="#ffffff"/><rect x="383.34" y="304.00" width="4.01" height="9.50" fill="#d3d3d3"/><rect x="383.34" y="313.50" width="4.01" height="9.50" fill="#d3d3d3"/><rect x="383.34" y="323.00" width="4.01" height="9.50" fill="#ffffff"/><rect x="383.34" y="332.50" width="4.01" height="9.50" fill="#ffffff"/><rect x="383.34" y="342.00" width="4.01" height="9.50" fill="#f2962e"/><rect x="383.34" y="351.50" width="4.01" height="9.50" fill="#fbf41e"/><rect x="387.35" y="294.50" width="4.01" height="9.50" fill="#d3d3d3"/><rect x="387.35" y="304.00" width="4.01" height="9.50" fill="#000000"/><rect x="387.35" y="313.50" width="4.01" height="9.50" fill="#d3d3d3"/><rect x="387.35" y="323.00" width="4.01" height="9.50" fill="#d3d3d3"/><rect x="387.35" y="332.50" width="4.01" height="9.50" fill="#000000"/><rect x="387.35" y="342.00" width="4.01" height="9.50" fill="#f2962e"/><rect x="387.35" y="351.50" width="4.01" height="9.50" fill="#fbf41e"/><rect x="391.36" y="294.50" width="4.01" height="9.50" fill="#ffffff"/><rect x="391.36" y="304.00" width="4.01" height="9.50" fill="#000000"/><rect x="391.36" y="313.50" width="4.01" height="9.50" fill="#d3d3d3"/><rect x="391.36" y="323.00" width="4.01" height="9.50" fill="#ffffff"/><rect x="391.36" y="332.50" width="4.01" height="9.50" fill="#ffffff"/><rect x="391.36" y="342.00" width="4.01" height="9.50" fill="#f2962e"/><rect x="391.36" y="351.50" width="4.01" height="9.50" fill="#fbf41e"/><rect x="395.38" y="294.50" width="4.01" height="9.50" fill="#d3d3d3"/><rect x="395.38" y="304.00" width="4.01" height="9.50" fill="#000000"/><rect x="395.38" y="313.50" width="4.01" height="9.50" fill="#d3d3d3"/><rect x="395.38" y="323.00" width="4.01" height="9.50" fill="#d3d3d3"/><rect x="395.38" y="332.50" width="4.01" height="9.50" fill="#d3d3d3"/><rect x="395.38" y="342.00" width="4.01" height="9.50" fill="#f2962e"/><rect x="395.38" y="351.50" width="4.01" height="9.50" fill="#fbf41e"/><rect x="399.39" y="294.50" width="4.01" height="9.50" fill="#000000"/><rect x="399.39" y="304.00" width="4.01" height="9.50" fill="#ffffff"/><rect x="399.39" y="313.50" width="4.01" height="9.50" fill="#d3d3d3"/><rect x="399.39" y="323.00" width="4.01" height="9.50" fill="#ffffff"/><rect x="399.39" y="332.50" width="4.01" height="9.50" fill="#ffffff"/><rect x="399.39" y="342.00" width="4.01" height="9.50" fill="#f2962e"/><rect x="399.39" y="351.50" width="4.01" height="9.50" fill="#fbf41e"/><rect x="403.40" y="294.50" width="4.01" height="9.50" fill="#d3d3d3"/><rect x="403.40" y="304.00" width="4.01" height="9.50" fill="#000000"/><rect x="403.40" y="313.50" width="4.01" height="9.50" fill="#000000"/><rect x="403.40" y="323.00" width="4.01" height="9.50" fill="#d3d3d3"/><rect x="403.40" y="332.50" width="4.01" height="9.50" fill="#d3d3d3"/><rect x="403.40" y="342.00" width="4.01" height="9.50" fill="#f2962e"/><rect x="403.40" y="351.50" width="4.01" height="9.50" fill="#fbf41e"/><rect x="407.41" y="294.50" width="4.01" height="9.50" fill="#ffffff"/><rect x="407.41" y="304.00" width="4.01" height="9.50" fill="#d3d3d3"/><rect x="407.41" y="313.50" width="4.01" height="9.50" fill="#d3d3d3"/><rect x="407.41" y="323.00" width="4.01" height="9.50" fill="#ffffff"/><rect x="407.41" y="332.50" width="4.01" height="9.50" fill="#ffffff"/><rect x="407.41" y="342.00" width="4.01" height="9.50" fill="#1f2ef0"/><rect x="407.41" y="351.50" width="4.01" height="9.50" fill="#fbf41e"/><rect x="411.43" y="294.50" width="4.01" height="9.50" fill="#d3d3d3"/><rect x="411.43" y="304.00" width="4.01" height="9.50" fill="#d3d3d3"/><rect x="411.43" y="313.50" width="4.01" height="9.50" fill="#d3d3d3"/><rect x="411.43" y="323.00" width="4.01" height="9.50" fill="#d3d3d3"/><rect x="411.43" y="332.50" width="4.01" height="9.50" fill="#d3d3d3"/><rect x="411.43" y="342.00" width="4.01" height="9.50" fill="#1f2ef0"/><rect x="411.43" y="351.50" width="4.01" height="9.50" fill="#fbf41e"/><rect x="415.44" y="294.50" width="4.01" height="9.50" fill="#d3d3d3"/><rect x="415.44" y="304.00" width="4.01" height="9.50" fill="#d3d3d3"/><rect x="415.44" y="313.50" width="4.01" height="9.50" fill="#d3d3d3"/><rect x="415.44" y="323.00" width="4.01" height="9.50" fill="#d3d3d3"/><rect x="415.44" y="332.50" width="4.01" height="9.50" fill="#d3d3d3"/><rect x="415.44" y="342.00" width="4.01" height="9.50" fill="#1f2ef0"/><rect x="415.44" y="351.50" width="4.01" height="9.50" fill="#fbf41e"/><rect x="419.45" y="294.50" width="4.01" height="9.50" fill="#ffffff"/><rect x="419.45" y="304.00" width="4.01" height="9.50" fill="#d3d3d3"/><rect x="419.45" y="313.50" width="4.01" height="9.50" fill="#d3d3d3"/><rect x="419.45" y="323.00" width="4.01" height="9.50" fill="#ffffff"/><rect x="419.45" y="332.50" width="4.01" height="9.50" fill="#ffffff"/><rect x="419.45" y="342.00" width="4.01" height="9.50" fill="#1f2ef0"/><rect x="419.45" y="351.50" width="4.01" height="9.50" fill="#fbf41e"/><rect x="423.47" y="294.50" width="4.01" height="9.50" fill="#d3d3d3"/><rect x="423.47" y="304.00" width="4.01" height="9.50" fill="#000000"/><rect x="423.47" y="313.50" width="4.01" height="9.50" fill="#d3d3d3"/><rect x="423.47" y="323.00" width="4.01" height="9.50" fill="#d3d3d3"/><rect x="423.47" y="332.50" width="4.01" height="9.50" fill="#d3d3d3"/><rect x="423.47" y="342.00" width="4.01" height="9.50" fill="#1f2ef0"/><rect x="423.47" y="351.50" width="4.01" height="9.50" fill="#fbf41e"/><rect x="427.48" y="294.50" width="4.01" height="9.50" fill="#d3d3d3"/><rect x="427.48" y="304.00" width="4.01" height="9.50" fill="#000000"/><rect x="427.48" y="313.50" width="4.01" height="9.50" fill="#d3d3d3"/><rect x="427.48" y="323.00" width="4.01" height="9.50" fill="#d3d3d3"/><rect x="427.48" y="332.50" width="4.01" height="9.50" fill="#d3d3d3"/><rect x="427.48" y="342.00" width="4.01" height="9.50" fill="#f2302c"/><rect x="427.48" y="351.50" width="4.01" height="9.50" fill="#fbf41e"/><rect x="431.49" y="294.50" width="4.01" height="9.50" fill="#d3d3d3"/><rect x="431.49" y="304.00" width="4.01" height="9.50" fill="#000000"/><rect x="431.49" y="313.50" width="4.01" height="9.50" fill="#d3d3d3"/><rect x="431.49" y="323.00" width="4.01" height="9.50" fill="#d3d3d3"/><rect x="431.49" y="332.50" width="4.01" height="9.50" fill="#d3d3d3"/><rect x="431.49" y="342.00" width="4.01" height="9.50" fill="#f2302c"/><rect x="431.49" y="351.50" width="4.01" height="9.50" fill="#fbf41e"/><rect x="435.50" y="294.50" width="4.01" height="9.50" fill="#d3d3d3"/><rect x="435.50" y="304.00" width="4.01" height="9.50" fill="#000000"/><rect x="435.50" y="313.50" width="4.01" height="9.50" fill="#d3d3d3"/><rect x="435.50" y="323.00" width="4.01" height="9.50" fill="#d3d3d3"/><rect x="435.50" y="332.50" width="4.01" height="9.50" fill="#d3d3d3"/><rect x="435.50" y="342.00" width="4.01" height="9.50" fill="#f2302c"/><rect x="435.50" y="351.50" width="4.01" height="9.50" fill="#fbf41e"/><rect x="439.52" y="294.50" width="4.01" height="9.50" fill="#ffffff"/><rect x="439.52" y="304.00" width="4.01" height="9.50" fill="#000000"/><rect x="439.52" y="313.50" width="4.01" height="9.50" fill="#d3d3d3"/><rect x="439.52" y="323.00" width="4.01" height="9.50" fill="#ffffff"/><rect x="439.52" y="332.50" width="4.01" height="9.50" fill="#ffffff"/><rect x="439.52" y="342.00" width="4.01" height="9.50" fill="#f2302c"/><rect x="439.52" y="351.50" width="4.01" height="9.50" fill="#fbf41e"/><rect x="443.53" y="294.50" width="4.01" height="9.50" fill="#d3d3d3"/><rect x="443.53" y="304.00" width="4.01" height="9.50" fill="#000000"/><rect x="443.53" y="313.50" width="4.01" height="9.50" fill="#d3d3d3"/><rect x="443.53" y="323.00" width="4.01" height="9.50" fill="#d3d3d3"/><rect x="443.53" y="332.50" width="4.01" height="9.50" fill="#d3d3d3"/><rect x="443.53" y="342.00" width="4.01" height="9.50" fill="#f2302c"/><rect x="443.53" y="351.50" width="4.01" height="9.50" fill="#fbf41e"/><rect x="447.54" y="294.50" width="4.01" height="9.50" fill="#d3d3d3"/><rect x="447.54" y="304.00" width="4.01" height="9.50" fill="#000000"/><rect x="447.54" y="313.50" width="4.01" height="9.50" fill="#d3d3d3"/><rect x="447.54" y="323.00" width="4.01" height="9.50" fill="#d3d3d3"/><rect x="447.54" y="332.50" width="4.01" height="9.50" fill="#d3d3d3"/><rect x="447.54" y="342.00" width="4.01" height="9.50" fill="#f2302c"/><rect x="447.54" y="351.50" width="4.01" height="9.50" fill="#fbf41e"/><rect x="451.56" y="294.50" width="4.01" height="9.50" fill="#d3d3d3"/><rect x="451.56" y="304.00" width="4.01" height="9.50" fill="#000000"/><rect x="451.56" y="313.50" width="4.01" height="9.50" fill="#d3d3d3"/><rect x="451.56" y="323.00" width="4.01" height="9.50" fill="#d3d3d3"/><rect x="451.56" y="332.50" width="4.01" height="9.50" fill="#d3d3d3"/><rect x="451.56" y="342.00" width="4.01" height="9.50" fill="#f2302c"/><rect x="451.56" y="351.50" width="4.01" height="9.50" fill="#fbf41e"/><rect x="455.57" y="294.50" width="4.01" height="9.50" fill="#d3d3d3"/><rect x="455.57" y="304.00" width="4.01" height="9.50" fill="#ffffff"/><rect x="455.57" y="313.50" width="4.01" height="9.50" fill="#d3d3d3"/><rect x="455.57" y="323.00" width="4.01" height="9.50" fill="#d3d3d3"/><rect x="455.57" y="332.50" width="4.01" height="9.50" fill="#d3d3d3"/><rect x="455.57" y="342.00" width="4.01" height="9.50" fill="#f2302c"/><rect x="455.57" y="351.50" width="4.01" height="9.50" fill="#fbf41e"/><rect x="459.58" y="294.50" width="4.01" height="9.50" fill="#ffffff"/><rect x="459.58" y="304.00" width="4.01" height="9.50" fill="#000000"/><rect x="459.58" y="313.50" width="4.01" height="9.50" fill="#d3d3d3"/><rect x="459.58" y="323.00" width="4.01" height="9.50" fill="#ffffff"/><rect x="459.58" y="332.50" width="4.01" height="9.50" fill="#ffffff"/><rect x="459.58" y="342.00" width="4.01" height="9.50" fill="#f2962e"/><rect x="459.58" y="351.50" width="4.01" height="9.50" fill="#fbf41e"/><rect x="463.60" y="294.50" width="4.01" height="9.50" fill="#d3d3d3"/><rect x="463.60" y="304.00" width="4.01" height="9.50" fill="#d3d3d3"/><rect x="463.60" y="313.50" width="4.01" height="9.50" fill="#d3d3d3"/><rect x="463.60" y="323.00" width="4.01" height="9.50" fill="#d3d3d3"/><rect x="463.60" y="332.50" width="4.01" height="9.50" fill="#d3d3d3"/><rect x="463.60" y="342.00" width="4.01" height="9.50" fill="#f2302c"/><rect x="463.60" y="351.50" width="4.01" height="9.50" fill="#fbf41e"/></g><path d="M94.40,294.5V342.0M98.41,294.5V342.0M102.43,294.5V342.0M106.44,294.5V342.0M110.45,294.5V342.0M114.47,294.5V342.0M118.48,294.5V342.0M122.49,294.5V342.0M126.50,294.5V342.0M130.52,294.5V342.0M134.53,294.5V342.0M138.54,294.5V342.0M142.56,294.5V342.0M146.57,294.5V342.0M150.58,294.5V342.0M154.59,294.5V342.0M158.61,294.5V342.0M162.62,294.5V342.0M166.63,294.5V342.0M170.65,294.5V342.0M174.66,294.5V342.0M178.67,294.5V342.0M182.69,294.5V342.0M186.70,294.5V342.0M190.71,294.5V342.0M194.73,294.5V342.0M198.74,294.5V342.0M202.75,294.5V342.0M206.76,294.5V342.0M210.78,294.5V342.0M214.79,294.5V342.0M218.80,294.5V342.0M222.82,294.5V342.0M226.83,294.5V342.0M230.84,294.5V342.0M234.85,294.5V342.0M238.87,294.5V342.0M242.88,294.5V342.0M246.89,294.5V342.0M250.91,294.5V342.0M254.92,294.5V342.0M258.93,294.5V342.0M262.95,294.5V342.0M266.96,294.5V342.0M270.97,294.5V342.0M274.99,294.5V342.0M279.00,294.5V342.0M283.01,294.5V342.0M287.02,294.5V342.0M291.04,294.5V342.0M295.05,294.5V342.0M299.06,294.5V342.0M303.08,294.5V342.0M307.09,294.5V342.0M311.10,294.5V342.0M315.12,294.5V342.0M319.13,294.5V342.0M323.14,294.5V342.0M327.15,294.5V342.0M331.17,294.5V342.0M335.18,294.5V342.0M339.19,294.5V342.0M343.21,294.5V342.0M347.22,294.5V342.0M351.23,294.5V342.0M355.25,294.5V342.0M359.26,294.5V342.0M363.27,294.5V342.0M367.28,294.5V342.0M371.30,294.5V342.0M375.31,294.5V342.0M379.32,294.5V342.0M383.34,294.5V342.0M387.35,294.5V342.0M391.36,294.5V342.0M395.38,294.5V342.0M399.39,294.5V342.0M403.40,294.5V342.0M407.41,294.5V342.0M411.43,294.5V342.0M415.44,294.5V342.0M419.45,294.5V342.0M423.47,294.5V342.0M427.48,294.5V342.0M431.49,294.5V342.0M435.50,294.5V342.0M439.52,294.5V342.0M443.53,294.5V342.0M447.54,294.5V342.0M451.56,294.5V342.0M455.57,294.5V342.0M459.58,294.5V342.0M463.60,294.5V342.0M467.61,294.5V342.0" stroke="#9a9a9a" stroke-width="0.45" fill="none"/><path d="M94.4,294.5H467.61M94.4,304.0H467.61M94.4,313.5H467.61M94.4,323.0H467.61M94.4,332.5H467.61M94.4,342.0H467.61" stroke="#6a6a6a" stroke-width="0.8" fill="none"/><path d="M94.40,342.0V361.0M98.41,342.0V361.0M102.43,342.0V361.0M106.44,342.0V361.0M110.45,342.0V361.0M114.47,342.0V361.0M118.48,342.0V361.0M122.49,342.0V361.0M126.50,342.0V361.0M130.52,342.0V361.0M134.53,342.0V361.0M138.54,342.0V361.0M142.56,342.0V361.0M146.57,342.0V361.0M150.58,342.0V361.0M154.59,342.0V361.0M158.61,342.0V361.0M162.62,342.0V361.0M166.63,342.0V361.0M170.65,342.0V361.0M174.66,342.0V361.0M178.67,342.0V361.0M182.69,342.0V361.0M186.70,342.0V361.0M190.71,342.0V361.0M194.73,342.0V361.0M198.74,342.0V361.0M202.75,342.0V361.0M206.76,342.0V361.0M210.78,342.0V361.0M214.79,342.0V361.0M218.80,342.0V361.0M222.82,342.0V361.0M226.83,342.0V361.0M230.84,342.0V361.0M234.85,342.0V361.0M238.87,342.0V361.0M242.88,342.0V361.0M246.89,342.0V361.0M250.91,342.0V361.0M254.92,342.0V361.0M258.93,342.0V361.0M262.95,342.0V361.0M266.96,342.0V361.0M270.97,342.0V361.0M274.99,342.0V361.0M279.00,342.0V361.0M283.01,342.0V361.0M287.02,342.0V361.0M291.04,342.0V361.0M295.05,342.0V361.0M299.06,342.0V361.0M303.08,342.0V361.0M307.09,342.0V361.0M311.10,342.0V361.0M315.12,342.0V361.0M319.13,342.0V361.0M323.14,342.0V361.0M327.15,342.0V361.0M331.17,342.0V361.0M335.18,342.0V361.0M339.19,342.0V361.0M343.21,342.0V361.0M347.22,342.0V361.0M351.23,342.0V361.0M355.25,342.0V361.0M359.26,342.0V361.0M363.27,342.0V361.0M367.28,342.0V361.0M371.30,342.0V361.0M375.31,342.0V361.0M379.32,342.0V361.0M383.34,342.0V361.0M387.35,342.0V361.0M391.36,342.0V361.0M395.38,342.0V361.0M399.39,342.0V361.0M403.40,342.0V361.0M407.41,342.0V361.0M411.43,342.0V361.0M415.44,342.0V361.0M419.45,342.0V361.0M423.47,342.0V361.0M427.48,342.0V361.0M431.49,342.0V361.0M435.50,342.0V361.0M439.52,342.0V361.0M443.53,342.0V361.0M447.54,342.0V361.0M451.56,342.0V361.0M455.57,342.0V361.0M459.58,342.0V361.0M463.60,342.0V361.0M467.61,342.0V361.0" stroke="#000" stroke-opacity="0.15" stroke-width="0.45" fill="none"/><text x="90" y="302.00" text-anchor="end" font-family="'Liberation Sans', sans-serif" font-weight="bold" font-size="7.8" fill="#1a1a1a">MPL W515K/L</text><text x="90" y="311.38" text-anchor="end" font-family="'Liberation Sans', sans-serif" font-weight="bold" font-size="7.8" fill="#1a1a1a">CALR</text><text x="90" y="320.76" text-anchor="end" font-family="'Liberation Sans', sans-serif" font-weight="bold" font-size="7.8" fill="#1a1a1a">TET2</text><text x="90" y="330.14" text-anchor="end" font-family="'Liberation Sans', sans-serif" font-weight="bold" font-size="7.8" fill="#1a1a1a">JAK2 amp(9p24.3)</text><text x="90" y="339.52" text-anchor="end" font-family="'Liberation Sans', sans-serif" font-weight="bold" font-size="7.8" fill="#1a1a1a">del(20q13.11</text><text x="90" y="348.90" text-anchor="end" font-family="'Liberation Sans', sans-serif" font-weight="bold" font-size="7.8" fill="#1a1a1a">Diagnosis</text><text x="90" y="358.28" text-anchor="end" font-family="'Liberation Sans', sans-serif" font-weight="bold" font-size="7.8" fill="#1a1a1a">JAK2 V617F</text><g shape-rendering="crispEdges"><rect x="94.40" y="371.2" width="4.01" height="11.60" fill="#6468f0"/><rect x="98.41" y="371.2" width="4.01" height="11.60" fill="#a4a4f2"/><rect x="102.43" y="371.2" width="4.01" height="11.60" fill="#f3a0a0"/><rect x="106.44" y="371.2" width="4.01" height="11.60" fill="#6468f0"/><rect x="110.45" y="371.2" width="4.01" height="11.60" fill="#6468f0"/><rect x="114.47" y="371.2" width="4.01" height="11.60" fill="#6468f0"/><rect x="118.48" y="371.2" width="4.01" height="11.60" fill="#6468f0"/><rect x="122.49" y="371.2" width="4.01" height="11.60" fill="#f8f4f8"/><rect x="126.50" y="371.2" width="4.01" height="11.60" fill="#6468f0"/><rect x="130.52" y="371.2" width="4.01" height="11.60" fill="#f8f4f8"/><rect x="134.53" y="371.2" width="4.01" height="11.60" fill="#f3a0a0"/><rect x="138.54" y="371.2" width="4.01" height="11.60" fill="#6468f0"/><rect x="142.56" y="371.2" width="4.01" height="11.60" fill="#f8f4f8"/><rect x="146.57" y="371.2" width="4.01" height="11.60" fill="#a4a4f2"/><rect x="150.58" y="371.2" width="4.01" height="11.60" fill="#6468f0"/><rect x="154.59" y="371.2" width="4.01" height="11.60" fill="#e81414"/><rect x="158.61" y="371.2" width="4.01" height="11.60" fill="#6468f0"/><rect x="162.62" y="371.2" width="4.01" height="11.60" fill="#f3a0a0"/><rect x="166.63" y="371.2" width="4.01" height="11.60" fill="#6468f0"/><rect x="170.65" y="371.2" width="4.01" height="11.60" fill="#6468f0"/><rect x="174.66" y="371.2" width="4.01" height="11.60" fill="#f8f4f8"/><rect x="178.67" y="371.2" width="4.01" height="11.60" fill="#6468f0"/><rect x="182.69" y="371.2" width="4.01" height="11.60" fill="#6468f0"/><rect x="186.70" y="371.2" width="4.01" height="11.60" fill="#f8f4f8"/><rect x="190.71" y="371.2" width="4.01" height="11.60" fill="#f8f4f8"/><rect x="194.73" y="371.2" width="4.01" height="11.60" fill="#6468f0"/><rect x="198.74" y="371.2" width="4.01" height="11.60" fill="#6468f0"/><rect x="202.75" y="371.2" width="4.01" height="11.60" fill="#0c0ce6"/><rect x="206.76" y="371.2" width="4.01" height="11.60" fill="#6468f0"/><rect x="210.78" y="371.2" width="4.01" height="11.60" fill="#6468f0"/><rect x="214.79" y="371.2" width="4.01" height="11.60" fill="#6468f0"/><rect x="218.80" y="371.2" width="4.01" height="11.60" fill="#6468f0"/><rect x="222.82" y="371.2" width="4.01" height="11.60" fill="#6468f0"/><rect x="226.83" y="371.2" width="4.01" height="11.60" fill="#0c0ce6"/><rect x="230.84" y="371.2" width="4.01" height="11.60" fill="#0c0ce6"/><rect x="234.85" y="371.2" width="4.01" height="11.60" fill="#0c0ce6"/><rect x="238.87" y="371.2" width="4.01" height="11.60" fill="#0c0ce6"/><rect x="242.88" y="371.2" width="4.01" height="11.60" fill="#6468f0"/><rect x="246.89" y="371.2" width="4.01" height="11.60" fill="#0c0ce6"/><rect x="250.91" y="371.2" width="4.01" height="11.60" fill="#6468f0"/><rect x="254.92" y="371.2" width="4.01" height="11.60" fill="#6468f0"/><rect x="258.93" y="371.2" width="4.01" height="11.60" fill="#6468f0"/><rect x="262.95" y="371.2" width="4.01" height="11.60" fill="#0c0ce6"/><rect x="266.96" y="371.2" width="4.01" height="11.60" fill="#0c0ce6"/><rect x="270.97" y="371.2" width="4.01" height="11.60" fill="#0c0ce6"/><rect x="274.99" y="371.2" width="4.01" height="11.60" fill="#a4a4f2"/><rect x="279.00" y="371.2" width="4.01" height="11.60" fill="#a4a4f2"/><rect x="283.01" y="371.2" width="4.01" height="11.60" fill="#a4a4f2"/><rect x="287.02" y="371.2" width="4.01" height="11.60" fill="#0c0ce6"/><rect x="291.04" y="371.2" width="4.01" height="11.60" fill="#6468f0"/><rect x="295.05" y="371.2" width="4.01" height="11.60" fill="#6468f0"/><rect x="299.06" y="371.2" width="4.01" height="11.60" fill="#0c0ce6"/><rect x="303.08" y="371.2" width="4.01" height="11.60" fill="#6468f0"/><rect x="307.09" y="371.2" width="4.01" height="11.60" fill="#6468f0"/><rect x="311.10" y="371.2" width="4.01" height="11.60" fill="#0c0ce6"/><rect x="315.12" y="371.2" width="4.01" height="11.60" fill="#0c0ce6"/><rect x="319.13" y="371.2" width="4.01" height="11.60" fill="#6468f0"/><rect x="323.14" y="371.2" width="4.01" height="11.60" fill="#0c0ce6"/><rect x="327.15" y="371.2" width="4.01" height="11.60" fill="#0c0ce6"/><rect x="331.17" y="371.2" width="4.01" height="11.60" fill="#0c0ce6"/><rect x="335.18" y="371.2" width="4.01" height="11.60" fill="#6468f0"/><rect x="339.19" y="371.2" width="4.01" height="11.60" fill="#6468f0"/><rect x="343.21" y="371.2" width="4.01" height="11.60" fill="#0c0ce6"/><rect x="347.22" y="371.2" width="4.01" height="11.60" fill="#6468f0"/><rect x="351.23" y="371.2" width="4.01" height="11.60" fill="#0c0ce6"/><rect x="355.25" y="371.2" width="4.01" height="11.60" fill="#6468f0"/><rect x="359.26" y="371.2" width="4.01" height="11.60" fill="#0c0ce6"/><rect x="363.27" y="371.2" width="4.01" height="11.60" fill="#0c0ce6"/><rect x="367.28" y="371.2" width="4.01" height="11.60" fill="#6468f0"/><rect x="371.30" y="371.2" width="4.01" height="11.60" fill="#6468f0"/><rect x="375.31" y="371.2" width="4.01" height="11.60" fill="#a4a4f2"/><rect x="379.32" y="371.2" width="4.01" height="11.60" fill="#6468f0"/><rect x="383.34" y="371.2" width="4.01" height="11.60" fill="#0c0ce6"/><rect x="387.35" y="371.2" width="4.01" height="11.60" fill="#a4a4f2"/><rect x="391.36" y="371.2" width="4.01" height="11.60" fill="#6468f0"/><rect x="395.38" y="371.2" width="4.01" height="11.60" fill="#f8f4f8"/><rect x="399.39" y="371.2" width="4.01" height="11.60" fill="#6468f0"/><rect x="403.40" y="371.2" width="4.01" height="11.60" fill="#6468f0"/><rect x="407.41" y="371.2" width="4.01" height="11.60" fill="#6468f0"/><rect x="411.43" y="371.2" width="4.01" height="11.60" fill="#6468f0"/><rect x="415.44" y="371.2" width="4.01" height="11.60" fill="#0c0ce6"/><rect x="419.45" y="371.2" width="4.01" height="11.60" fill="#0c0ce6"/><rect x="423.47" y="371.2" width="4.01" height="11.60" fill="#6468f0"/><rect x="427.48" y="371.2" width="4.01" height="11.60" fill="#6468f0"/><rect x="431.49" y="371.2" width="4.01" height="11.60" fill="#6468f0"/><rect x="435.50" y="371.2" width="4.01" height="11.60" fill="#0c0ce6"/><rect x="439.52" y="371.2" width="4.01" height="11.60" fill="#0c0ce6"/><rect x="443.53" y="371.2" width="4.01" height="11.60" fill="#6468f0"/><rect x="447.54" y="371.2" width="4.01" height="11.60" fill="#0c0ce6"/><rect x="451.56" y="371.2" width="4.01" height="11.60" fill="#0c0ce6"/><rect x="455.57" y="371.2" width="4.01" height="11.60" fill="#0c0ce6"/><rect x="459.58" y="371.2" width="4.01" height="11.60" fill="#6468f0"/><rect x="463.60" y="371.2" width="4.01" height="11.60" fill="#a4a4f2"/><rect x="94.40" y="382.8" width="4.01" height="11.60" fill="#f3a0a0"/><rect x="98.41" y="382.8" width="4.01" height="11.60" fill="#f3a0a0"/><rect x="102.43" y="382.8" width="4.01" height="11.60" fill="#f8f4f8"/><rect x="106.44" y="382.8" width="4.01" height="11.60" fill="#f3a0a0"/><rect x="110.45" y="382.8" width="4.01" height="11.60" fill="#f3a0a0"/><rect x="114.47" y="382.8" width="4.01" height="11.60" fill="#f8f4f8"/><rect x="118.48" y="382.8" width="4.01" height="11.60" fill="#f8f4f8"/><rect x="122.49" y="382.8" width="4.01" height="11.60" fill="#e81414"/><rect x="126.50" y="382.8" width="4.01" height="11.60" fill="#f8f4f8"/><rect x="130.52" y="382.8" width="4.01" height="11.60" fill="#f3a0a0"/><rect x="134.53" y="382.8" width="4.01" height="11.60" fill="#e81414"/><rect x="138.54" y="382.8" width="4.01" height="11.60" fill="#f3a0a0"/><rect x="142.56" y="382.8" width="4.01" height="11.60" fill="#f3a0a0"/><rect x="146.57" y="382.8" width="4.01" height="11.60" fill="#f3a0a0"/><rect x="150.58" y="382.8" width="4.01" height="11.60" fill="#f8f4f8"/><rect x="154.59" y="382.8" width="4.01" height="11.60" fill="#e81414"/><rect x="158.61" y="382.8" width="4.01" height="11.60" fill="#f3a0a0"/><rect x="162.62" y="382.8" width="4.01" height="11.60" fill="#f8f4f8"/><rect x="166.63" y="382.8" width="4.01" height="11.60" fill="#f3a0a0"/><rect x="170.65" y="382.8" width="4.01" height="11.60" fill="#f3a0a0"/><rect x="174.66" y="382.8" width="4.01" height="11.60" fill="#f3a0a0"/><rect x="178.67" y="382.8" width="4.01" height="11.60" fill="#f8f4f8"/><rect x="182.69" y="382.8" width="4.01" height="11.60" fill="#f3a0a0"/><rect x="186.70" y="382.8" width="4.01" height="11.60" fill="#f8f4f8"/><rect x="190.71" y="382.8" width="4.01" height="11.60" fill="#f3a0a0"/><rect x="194.73" y="382.8" width="4.01" height="11.60" fill="#a4a4f2"/><rect x="198.74" y="382.8" width="4.01" height="11.60" fill="#f8f4f8"/><rect x="202.75" y="382.8" width="4.01" height="11.60" fill="#6468f0"/><rect x="206.76" y="382.8" width="4.01" height="11.60" fill="#a4a4f2"/><rect x="210.78" y="382.8" width="4.01" height="11.60" fill="#f8f4f8"/><rect x="214.79" y="382.8" width="4.01" height="11.60" fill="#f8f4f8"/><rect x="218.80" y="382.8" width="4.01" height="11.60" fill="#f8f4f8"/><rect x="222.82" y="382.8" width="4.01" height="11.60" fill="#f8f4f8"/><rect x="226.83" y="382.8" width="4.01" height="11.60" fill="#f8f4f8"/><rect x="230.84" y="382.8" width="4.01" height="11.60" fill="#a4a4f2"/><rect x="234.85" y="382.8" width="4.01" height="11.60" fill="#0c0ce6"/><rect x="238.87" y="382.8" width="4.01" height="11.60" fill="#6468f0"/><rect x="242.88" y="382.8" width="4.01" height="11.60" fill="#f8f4f8"/><rect x="246.89" y="382.8" width="4.01" height="11.60" fill="#a4a4f2"/><rect x="250.91" y="382.8" width="4.01" height="11.60" fill="#a4a4f2"/><rect x="254.92" y="382.8" width="4.01" height="11.60" fill="#f8f4f8"/><rect x="258.93" y="382.8" width="4.01" height="11.60" fill="#f8f4f8"/><rect x="262.95" y="382.8" width="4.01" height="11.60" fill="#a4a4f2"/><rect x="266.96" y="382.8" width="4.01" height="11.60" fill="#a4a4f2"/><rect x="270.97" y="382.8" width="4.01" height="11.60" fill="#a4a4f2"/><rect x="274.99" y="382.8" width="4.01" height="11.60" fill="#f3a0a0"/><rect x="279.00" y="382.8" width="4.01" height="11.60" fill="#f3a0a0"/><rect x="283.01" y="382.8" width="4.01" height="11.60" fill="#f3a0a0"/><rect x="287.02" y="382.8" width="4.01" height="11.60" fill="#f8f4f8"/><rect x="291.04" y="382.8" width="4.01" height="11.60" fill="#f3a0a0"/><rect x="295.05" y="382.8" width="4.01" height="11.60" fill="#f8f4f8"/><rect x="299.06" y="382.8" width="4.01" height="11.60" fill="#f8f4f8"/><rect x="303.08" y="382.8" width="4.01" height="11.60" fill="#a4a4f2"/><rect x="307.09" y="382.8" width="4.01" height="11.60" fill="#f8f4f8"/><rect x="311.10" y="382.8" width="4.01" height="11.60" fill="#6468f0"/><rect x="315.12" y="382.8" width="4.01" height="11.60" fill="#a4a4f2"/><rect x="319.13" y="382.8" width="4.01" height="11.60" fill="#f8f4f8"/><rect x="323.14" y="382.8" width="4.01" height="11.60" fill="#0c0ce6"/><rect x="327.15" y="382.8" width="4.01" height="11.60" fill="#0c0ce6"/><rect x="331.17" y="382.8" width="4.01" height="11.60" fill="#a4a4f2"/><rect x="335.18" y="382.8" width="4.01" height="11.60" fill="#f8f4f8"/><rect x="339.19" y="382.8" width="4.01" height="11.60" fill="#6468f0"/><rect x="343.21" y="382.8" width="4.01" height="11.60" fill="#f8f4f8"/><rect x="347.22" y="382.8" width="4.01" height="11.60" fill="#a4a4f2"/><rect x="351.23" y="382.8" width="4.01" height="11.60" fill="#f8f4f8"/><rect x="355.25" y="382.8" width="4.01" height="11.60" fill="#f3a0a0"/><rect x="359.26" y="382.8" width="4.01" height="11.60" fill="#6468f0"/><rect x="363.27" y="382.8" width="4.01" height="11.60" fill="#6468f0"/><rect x="367.28" y="382.8" width="4.01" height="11.60" fill="#f8f4f8"/><rect x="371.30" y="382.8" width="4.01" height="11.60" fill="#a4a4f2"/><rect x="375.31" y="382.8" width="4.01" height="11.60" fill="#6468f0"/><rect x="379.32" y="382.8" width="4.01" height="11.60" fill="#a4a4f2"/><rect x="383.34" y="382.8" width="4.01" height="11.60" fill="#6468f0"/><rect x="387.35" y="382.8" width="4.01" height="11.60" fill="#a4a4f2"/><rect x="391.36" y="382.8" width="4.01" height="11.60" fill="#f8f4f8"/><rect x="395.38" y="382.8" width="4.01" height="11.60" fill="#a4a4f2"/><rect x="399.39" y="382.8" width="4.01" height="11.60" fill="#6468f0"/><rect x="403.40" y="382.8" width="4.01" height="11.60" fill="#a4a4f2"/><rect x="407.41" y="382.8" width="4.01" height="11.60" fill="#f8f4f8"/><rect x="411.43" y="382.8" width="4.01" height="11.60" fill="#e81414"/><rect x="415.44" y="382.8" width="4.01" height="11.60" fill="#a4a4f2"/><rect x="419.45" y="382.8" width="4.01" height="11.60" fill="#f8f4f8"/><rect x="423.47" y="382.8" width="4.01" height="11.60" fill="#a4a4f2"/><rect x="427.48" y="382.8" width="4.01" height="11.60" fill="#f8f4f8"/><rect x="431.49" y="382.8" width="4.01" height="11.60" fill="#f3a0a0"/><rect x="435.50" y="382.8" width="4.01" height="11.60" fill="#f8f4f8"/><rect x="439.52" y="382.8" width="4.01" height="11.60" fill="#6468f0"/><rect x="443.53" y="382.8" width="4.01" height="11.60" fill="#6468f0"/><rect x="447.54" y="382.8" width="4.01" height="11.60" fill="#a4a4f2"/><rect x="451.56" y="382.8" width="4.01" height="11.60" fill="#f8f4f8"/><rect x="455.57" y="382.8" width="4.01" height="11.60" fill="#a4a4f2"/><rect x="459.58" y="382.8" width="4.01" height="11.60" fill="#6468f0"/><rect x="463.60" y="382.8" width="4.01" height="11.60" fill="#f3a0a0"/><rect x="94.40" y="394.4" width="4.01" height="11.50" fill="#a4a4f2"/><rect x="98.41" y="394.4" width="4.01" height="11.50" fill="#a4a4f2"/><rect x="102.43" y="394.4" width="4.01" height="11.50" fill="#e81414"/><rect x="106.44" y="394.4" width="4.01" height="11.50" fill="#e81414"/><rect x="110.45" y="394.4" width="4.01" height="11.50" fill="#f8f4f8"/><rect x="114.47" y="394.4" width="4.01" height="11.50" fill="#0c0ce6"/><rect x="118.48" y="394.4" width="4.01" height="11.50" fill="#0c0ce6"/><rect x="122.49" y="394.4" width="4.01" height="11.50" fill="#6468f0"/><rect x="126.50" y="394.4" width="4.01" height="11.50" fill="#6468f0"/><rect x="130.52" y="394.4" width="4.01" height="11.50" fill="#f8f4f8"/><rect x="134.53" y="394.4" width="4.01" height="11.50" fill="#f3a0a0"/><rect x="138.54" y="394.4" width="4.01" height="11.50" fill="#f3a0a0"/><rect x="142.56" y="394.4" width="4.01" height="11.50" fill="#f3a0a0"/><rect x="146.57" y="394.4" width="4.01" height="11.50" fill="#f3a0a0"/><rect x="150.58" y="394.4" width="4.01" height="11.50" fill="#f3a0a0"/><rect x="154.59" y="394.4" width="4.01" height="11.50" fill="#e81414"/><rect x="158.61" y="394.4" width="4.01" height="11.50" fill="#f8f4f8"/><rect x="162.62" y="394.4" width="4.01" height="11.50" fill="#0c0ce6"/><rect x="166.63" y="394.4" width="4.01" height="11.50" fill="#0c0ce6"/><rect x="170.65" y="394.4" width="4.01" height="11.50" fill="#a4a4f2"/><rect x="174.66" y="394.4" width="4.01" height="11.50" fill="#f8f4f8"/><rect x="178.67" y="394.4" width="4.01" height="11.50" fill="#f8f4f8"/><rect x="182.69" y="394.4" width="4.01" height="11.50" fill="#a4a4f2"/><rect x="186.70" y="394.4" width="4.01" height="11.50" fill="#f3a0a0"/><rect x="190.71" y="394.4" width="4.01" height="11.50" fill="#0c0ce6"/><rect x="194.73" y="394.4" width="4.01" height="11.50" fill="#a4a4f2"/><rect x="198.74" y="394.4" width="4.01" height="11.50" fill="#f8f4f8"/><rect x="202.75" y="394.4" width="4.01" height="11.50" fill="#0c0ce6"/><rect x="206.76" y="394.4" width="4.01" height="11.50" fill="#0c0ce6"/><rect x="210.78" y="394.4" width="4.01" height="11.50" fill="#0c0ce6"/><rect x="214.79" y="394.4" width="4.01" height="11.50" fill="#0c0ce6"/><rect x="218.80" y="394.4" width="4.01" height="11.50" fill="#0c0ce6"/><rect x="222.82" y="394.4" width="4.01" height="11.50" fill="#0c0ce6"/><rect x="226.83" y="394.4" width="4.01" height="11.50" fill="#0c0ce6"/><rect x="230.84" y="394.4" width="4.01" height="11.50" fill="#0c0ce6"/><rect x="234.85" y="394.4" width="4.01" height="11.50" fill="#0c0ce6"/><rect x="238.87" y="394.4" width="4.01" height="11.50" fill="#0c0ce6"/><rect x="242.88" y="394.4" width="4.01" height="11.50" fill="#0c0ce6"/><rect x="246.89" y="394.4" width="4.01" height="11.50" fill="#0c0ce6"/><rect x="250.91" y="394.4" width="4.01" height="11.50" fill="#6468f0"/><rect x="254.92" y="394.4" width="4.01" height="11.50" fill="#0c0ce6"/><rect x="258.93" y="394.4" width="4.01" height="11.50" fill="#0c0ce6"/><rect x="262.95" y="394.4" width="4.01" height="11.50" fill="#0c0ce6"/><rect x="266.96" y="394.4" width="4.01" height="11.50" fill="#0c0ce6"/><rect x="270.97" y="394.4" width="4.01" height="11.50" fill="#f8f4f8"/><rect x="274.99" y="394.4" width="4.01" height="11.50" fill="#0c0ce6"/><rect x="279.00" y="394.4" width="4.01" height="11.50" fill="#0c0ce6"/><rect x="283.01" y="394.4" width="4.01" height="11.50" fill="#0c0ce6"/><rect x="287.02" y="394.4" width="4.01" height="11.50" fill="#0c0ce6"/><rect x="291.04" y="394.4" width="4.01" height="11.50" fill="#0c0ce6"/><rect x="295.05" y="394.4" width="4.01" height="11.50" fill="#0c0ce6"/><rect x="299.06" y="394.4" width="4.01" height="11.50" fill="#0c0ce6"/><rect x="303.08" y="394.4" width="4.01" height="11.50" fill="#6468f0"/><rect x="307.09" y="394.4" width="4.01" height="11.50" fill="#0c0ce6"/><rect x="311.10" y="394.4" width="4.01" height="11.50" fill="#0c0ce6"/><rect x="315.12" y="394.4" width="4.01" height="11.50" fill="#6468f0"/><rect x="319.13" y="394.4" width="4.01" height="11.50" fill="#0c0ce6"/><rect x="323.14" y="394.4" width="4.01" height="11.50" fill="#0c0ce6"/><rect x="327.15" y="394.4" width="4.01" height="11.50" fill="#0c0ce6"/><rect x="331.17" y="394.4" width="4.01" height="11.50" fill="#0c0ce6"/><rect x="335.18" y="394.4" width="4.01" height="11.50" fill="#0c0ce6"/><rect x="339.19" y="394.4" width="4.01" height="11.50" fill="#0c0ce6"/><rect x="343.21" y="394.4" width="4.01" height="11.50" fill="#0c0ce6"/><rect x="347.22" y="394.4" width="4.01" height="11.50" fill="#0c0ce6"/><rect x="351.23" y="394.4" width="4.01" height="11.50" fill="#0c0ce6"/><rect x="355.25" y="394.4" width="4.01" height="11.50" fill="#0c0ce6"/><rect x="359.26" y="394.4" width="4.01" height="11.50" fill="#0c0ce6"/><rect x="363.27" y="394.4" width="4.01" height="11.50" fill="#6468f0"/><rect x="367.28" y="394.4" width="4.01" height="11.50" fill="#0c0ce6"/><rect x="371.30" y="394.4" width="4.01" height="11.50" fill="#0c0ce6"/><rect x="375.31" y="394.4" width="4.01" height="11.50" fill="#0c0ce6"/><rect x="379.32" y="394.4" width="4.01" height="11.50" fill="#0c0ce6"/><rect x="383.34" y="394.4" width="4.01" height="11.50" fill="#0c0ce6"/><rect x="387.35" y="394.4" width="4.01" height="11.50" fill="#0c0ce6"/><rect x="391.36" y="394.4" width="4.01" height="11.50" fill="#0c0ce6"/><rect x="395.38" y="394.4" width="4.01" height="11.50" fill="#6468f0"/><rect x="399.39" y="394.4" width="4.01" height="11.50" fill="#a4a4f2"/><rect x="403.40" y="394.4" width="4.01" height="11.50" fill="#0c0ce6"/><rect x="407.41" y="394.4" width="4.01" height="11.50" fill="#0c0ce6"/><rect x="411.43" y="394.4" width="4.01" height="11.50" fill="#0c0ce6"/><rect x="415.44" y="394.4" width="4.01" height="11.50" fill="#0c0ce6"/><rect x="419.45" y="394.4" width="4.01" height="11.50" fill="#0c0ce6"/><rect x="423.47" y="394.4" width="4.01" height="11.50" fill="#0c0ce6"/><rect x="427.48" y="394.4" width="4.01" height="11.50" fill="#0c0ce6"/><rect x="431.49" y="394.4" width="4.01" height="11.50" fill="#0c0ce6"/><rect x="435.50" y="394.4" width="4.01" height="11.50" fill="#0c0ce6"/><rect x="439.52" y="394.4" width="4.01" height="11.50" fill="#0c0ce6"/><rect x="443.53" y="394.4" width="4.01" height="11.50" fill="#0c0ce6"/><rect x="447.54" y="394.4" width="4.01" height="11.50" fill="#0c0ce6"/><rect x="451.56" y="394.4" width="4.01" height="11.50" fill="#0c0ce6"/><rect x="455.57" y="394.4" width="4.01" height="11.50" fill="#0c0ce6"/><rect x="459.58" y="394.4" width="4.01" height="11.50" fill="#0c0ce6"/><rect x="463.60" y="394.4" width="4.01" height="11.50" fill="#0c0ce6"/><rect x="94.40" y="405.9" width="4.01" height="11.40" fill="#e81414"/><rect x="98.41" y="405.9" width="4.01" height="11.40" fill="#a4a4f2"/><rect x="102.43" y="405.9" width="4.01" height="11.40" fill="#f8f4f8"/><rect x="106.44" y="405.9" width="4.01" height="11.40" fill="#a4a4f2"/><rect x="110.45" y="405.9" width="4.01" height="11.40" fill="#a4a4f2"/><rect x="114.47" y="405.9" width="4.01" height="11.40" fill="#f8f4f8"/><rect x="118.48" y="405.9" width="4.01" height="11.40" fill="#f3a0a0"/><rect x="122.49" y="405.9" width="4.01" height="11.40" fill="#f3a0a0"/><rect x="126.50" y="405.9" width="4.01" height="11.40" fill="#a4a4f2"/><rect x="130.52" y="405.9" width="4.01" height="11.40" fill="#a4a4f2"/><rect x="134.53" y="405.9" width="4.01" height="11.40" fill="#f8f4f8"/><rect x="138.54" y="405.9" width="4.01" height="11.40" fill="#e81414"/><rect x="142.56" y="405.9" width="4.01" height="11.40" fill="#f3a0a0"/><rect x="146.57" y="405.9" width="4.01" height="11.40" fill="#f3a0a0"/><rect x="150.58" y="405.9" width="4.01" height="11.40" fill="#f8f4f8"/><rect x="154.59" y="405.9" width="4.01" height="11.40" fill="#f3a0a0"/><rect x="158.61" y="405.9" width="4.01" height="11.40" fill="#f8f4f8"/><rect x="162.62" y="405.9" width="4.01" height="11.40" fill="#f8f4f8"/><rect x="166.63" y="405.9" width="4.01" height="11.40" fill="#f3a0a0"/><rect x="170.65" y="405.9" width="4.01" height="11.40" fill="#f3a0a0"/><rect x="174.66" y="405.9" width="4.01" height="11.40" fill="#f3a0a0"/><rect x="178.67" y="405.9" width="4.01" height="11.40" fill="#f3a0a0"/><rect x="182.69" y="405.9" width="4.01" height="11.40" fill="#f8f4f8"/><rect x="186.70" y="405.9" width="4.01" height="11.40" fill="#f3a0a0"/><rect x="190.71" y="405.9" width="4.01" height="11.40" fill="#f3a0a0"/><rect x="194.73" y="405.9" width="4.01" height="11.40" fill="#f3a0a0"/><rect x="198.74" y="405.9" width="4.01" height="11.40" fill="#f8f4f8"/><rect x="202.75" y="405.9" width="4.01" height="11.40" fill="#0c0ce6"/><rect x="206.76" y="405.9" width="4.01" height="11.40" fill="#6468f0"/><rect x="210.78" y="405.9" width="4.01" height="11.40" fill="#6468f0"/><rect x="214.79" y="405.9" width="4.01" height="11.40" fill="#0c0ce6"/><rect x="218.80" y="405.9" width="4.01" height="11.40" fill="#6468f0"/><rect x="222.82" y="405.9" width="4.01" height="11.40" fill="#6468f0"/><rect x="226.83" y="405.9" width="4.01" height="11.40" fill="#0c0ce6"/><rect x="230.84" y="405.9" width="4.01" height="11.40" fill="#a4a4f2"/><rect x="234.85" y="405.9" width="4.01" height="11.40" fill="#6468f0"/><rect x="238.87" y="405.9" width="4.01" height="11.40" fill="#6468f0"/><rect x="242.88" y="405.9" width="4.01" height="11.40" fill="#6468f0"/><rect x="246.89" y="405.9" width="4.01" height="11.40" fill="#0c0ce6"/><rect x="250.91" y="405.9" width="4.01" height="11.40" fill="#6468f0"/><rect x="254.92" y="405.9" width="4.01" height="11.40" fill="#a4a4f2"/><rect x="258.93" y="405.9" width="4.01" height="11.40" fill="#6468f0"/><rect x="262.95" y="405.9" width="4.01" height="11.40" fill="#6468f0"/><rect x="266.96" y="405.9" width="4.01" height="11.40" fill="#6468f0"/><rect x="270.97" y="405.9" width="4.01" height="11.40" fill="#f3a0a0"/><rect x="274.99" y="405.9" width="4.01" height="11.40" fill="#6468f0"/><rect x="279.00" y="405.9" width="4.01" height="11.40" fill="#6468f0"/><rect x="283.01" y="405.9" width="4.01" height="11.40" fill="#6468f0"/><rect x="287.02" y="405.9" width="4.01" height="11.40" fill="#0c0ce6"/><rect x="291.04" y="405.9" width="4.01" height="11.40" fill="#a4a4f2"/><rect x="295.05" y="405.9" width="4.01" height="11.40" fill="#6468f0"/><rect x="299.06" y="405.9" width="4.01" height="11.40" fill="#6468f0"/><rect x="303.08" y="405.9" width="4.01" height="11.40" fill="#a4a4f2"/><rect x="307.09" y="405.9" width="4.01" height="11.40" fill="#f8f4f8"/><rect x="311.10" y="405.9" width="4.01" height="11.40" fill="#0c0ce6"/><rect x="315.12" y="405.9" width="4.01" height="11.40" fill="#a4a4f2"/><rect x="319.13" y="405.9" width="4.01" height="11.40" fill="#6468f0"/><rect x="323.14" y="405.9" width="4.01" height="11.40" fill="#a4a4f2"/><rect x="327.15" y="405.9" width="4.01" height="11.40" fill="#0c0ce6"/><rect x="331.17" y="405.9" width="4.01" height="11.40" fill="#a4a4f2"/><rect x="335.18" y="405.9" width="4.01" height="11.40" fill="#6468f0"/><rect x="339.19" y="405.9" width="4.01" height="11.40" fill="#0c0ce6"/><rect x="343.21" y="405.9" width="4.01" height="11.40" fill="#6468f0"/><rect x="347.22" y="405.9" width="4.01" height="11.40" fill="#6468f0"/><rect x="351.23" y="405.9" width="4.01" height="11.40" fill="#a4a4f2"/><rect x="355.25" y="405.9" width="4.01" height="11.40" fill="#0c0ce6"/><rect x="359.26" y="405.9" width="4.01" height="11.40" fill="#6468f0"/><rect x="363.27" y="405.9" width="4.01" height="11.40" fill="#a4a4f2"/><rect x="367.28" y="405.9" width="4.01" height="11.40" fill="#f8f4f8"/><rect x="371.30" y="405.9" width="4.01" height="11.40" fill="#6468f0"/><rect x="375.31" y="405.9" width="4.01" height="11.40" fill="#a4a4f2"/><rect x="379.32" y="405.9" width="4.01" height="11.40" fill="#a4a4f2"/><rect x="383.34" y="405.9" width="4.01" height="11.40" fill="#6468f0"/><rect x="387.35" y="405.9" width="4.01" height="11.40" fill="#a4a4f2"/><rect x="391.36" y="405.9" width="4.01" height="11.40" fill="#f8f4f8"/><rect x="395.38" y="405.9" width="4.01" height="11.40" fill="#6468f0"/><rect x="399.39" y="405.9" width="4.01" height="11.40" fill="#0c0ce6"/><rect x="403.40" y="405.9" width="4.01" height="11.40" fill="#a4a4f2"/><rect x="407.41" y="405.9" width="4.01" height="11.40" fill="#6468f0"/><rect x="411.43" y="405.9" width="4.01" height="11.40" fill="#f8f4f8"/><rect x="415.44" y="405.9" width="4.01" height="11.40" fill="#6468f0"/><rect x="419.45" y="405.9" width="4.01" height="11.40" fill="#f8f4f8"/><rect x="423.47" y="405.9" width="4.01" height="11.40" fill="#6468f0"/><rect x="427.48" y="405.9" width="4.01" height="11.40" fill="#6468f0"/><rect x="431.49" y="405.9" width="4.01" height="11.40" fill="#a4a4f2"/><rect x="435.50" y="405.9" width="4.01" height="11.40" fill="#6468f0"/><rect x="439.52" y="405.9" width="4.01" height="11.40" fill="#6468f0"/><rect x="443.53" y="405.9" width="4.01" height="11.40" fill="#a4a4f2"/><rect x="447.54" y="405.9" width="4.01" height="11.40" fill="#a4a4f2"/><rect x="451.56" y="405.9" width="4.01" height="11.40" fill="#f8f4f8"/><rect x="455.57" y="405.9" width="4.01" height="11.40" fill="#6468f0"/><rect x="459.58" y="405.9" width="4.01" height="11.40" fill="#a4a4f2"/><rect x="463.60" y="405.9" width="4.01" height="11.40" fill="#6468f0"/></g><path d="M94.40,371.2V417.3M98.41,371.2V417.3M102.43,371.2V417.3M106.44,371.2V417.3M110.45,371.2V417.3M114.47,371.2V417.3M118.48,371.2V417.3M122.49,371.2V417.3M126.50,371.2V417.3M130.52,371.2V417.3M134.53,371.2V417.3M138.54,371.2V417.3M142.56,371.2V417.3M146.57,371.2V417.3M150.58,371.2V417.3M154.59,371.2V417.3M158.61,371.2V417.3M162.62,371.2V417.3M166.63,371.2V417.3M170.65,371.2V417.3M174.66,371.2V417.3M178.67,371.2V417.3M182.69,371.2V417.3M186.70,371.2V417.3M190.71,371.2V417.3M194.73,371.2V417.3M198.74,371.2V417.3M202.75,371.2V417.3M206.76,371.2V417.3M210.78,371.2V417.3M214.79,371.2V417.3M218.80,371.2V417.3M222.82,371.2V417.3M226.83,371.2V417.3M230.84,371.2V417.3M234.85,371.2V417.3M238.87,371.2V417.3M242.88,371.2V417.3M246.89,371.2V417.3M250.91,371.2V417.3M254.92,371.2V417.3M258.93,371.2V417.3M262.95,371.2V417.3M266.96,371.2V417.3M270.97,371.2V417.3M274.99,371.2V417.3M279.00,371.2V417.3M283.01,371.2V417.3M287.02,371.2V417.3M291.04,371.2V417.3M295.05,371.2V417.3M299.06,371.2V417.3M303.08,371.2V417.3M307.09,371.2V417.3M311.10,371.2V417.3M315.12,371.2V417.3M319.13,371.2V417.3M323.14,371.2V417.3M327.15,371.2V417.3M331.17,371.2V417.3M335.18,371.2V417.3M339.19,371.2V417.3M343.21,371.2V417.3M347.22,371.2V417.3M351.23,371.2V417.3M355.25,371.2V417.3M359.26,371.2V417.3M363.27,371.2V417.3M367.28,371.2V417.3M371.30,371.2V417.3M375.31,371.2V417.3M379.32,371.2V417.3M383.34,371.2V417.3M387.35,371.2V417.3M391.36,371.2V417.3M395.38,371.2V417.3M399.39,371.2V417.3M403.40,371.2V417.3M407.41,371.2V417.3M411.43,371.2V417.3M415.44,371.2V417.3M419.45,371.2V417.3M423.47,371.2V417.3M427.48,371.2V417.3M431.49,371.2V417.3M435.50,371.2V417.3M439.52,371.2V417.3M443.53,371.2V417.3M447.54,371.2V417.3M451.56,371.2V417.3M455.57,371.2V417.3M459.58,371.2V417.3M463.60,371.2V417.3M467.61,371.2V417.3M94.4,371.2H467.61M94.4,382.8H467.61M94.4,394.4H467.61M94.4,405.9H467.61M94.4,417.3H467.61" stroke="#000" stroke-opacity="0.18" stroke-width="0.45" fill="none"/><text x="88.3" y="382.80" text-anchor="end" font-family="'Liberation Sans', sans-serif" font-weight="bold" font-size="8.8" fill="#1a1a1a">JAK2</text><text x="88.3" y="393.80" text-anchor="end" font-family="'Liberation Sans', sans-serif" font-weight="bold" font-size="8.8" fill="#1a1a1a">STAT5B</text><text x="88.3" y="404.80" text-anchor="end" font-family="'Liberation Sans', sans-serif" font-weight="bold" font-size="8.8" fill="#1a1a1a">CD177/PRV1</text><text x="88.3" y="415.40" text-anchor="end" font-family="'Liberation Sans', sans-serif" font-weight="bold" font-size="8.8" fill="#1a1a1a">MAPK14</text><text x="119.4" y="437.9" text-anchor="start" font-family="'Liberation Sans', sans-serif" font-weight="bold" font-size="9.0" fill="#1a1a1a">Mutation/CNV status</text><rect x="120.1" y="442.9" width="7.4" height="5.9" fill="#fff" stroke="#111" stroke-width="0.9"/><text x="131.0" y="448.6" text-anchor="start" font-family="'Liberation Sans', sans-serif" font-size="8.4" fill="#222">NA</text><rect x="119.6" y="451.8" width="8.3" height="5.2" fill="#d4d4d4"/><text x="131.0" y="459.0" text-anchor="start" font-family="'Liberation Sans', sans-serif" font-size="8.6" fill="#333">Negative</text><rect x="119.6" y="460.5" width="8.3" height="6.3" fill="#000"/><text x="131.0" y="468.9" text-anchor="start" font-family="'Liberation Sans', sans-serif" font-size="8.5" fill="#333">Positive</text><text x="244.9" y="437.4" text-anchor="start" font-family="'Liberation Sans', sans-serif" font-weight="bold" font-size="8.8" fill="#1a1a1a">Diagnosis</text><rect x="246" y="439.70" width="8" height="7.5" fill="#f2302c"/><text x="256.4" y="445.60" text-anchor="start" font-family="'Liberation Sans', sans-serif" font-size="7.2" fill="#333">ET</text><rect x="246" y="448.90" width="8" height="7.5" fill="#f2962e"/><text x="256.4" y="454.80" text-anchor="start" font-family="'Liberation Sans', sans-serif" font-size="7.2" fill="#333">MF</text><rect x="246" y="458.10" width="8" height="7.5" fill="#1f2ef0"/><text x="256.4" y="464.00" text-anchor="start" font-family="'Liberation Sans', sans-serif" font-size="7.2" fill="#333">PV</text><text x="325.8" y="437.9" text-anchor="start" font-family="'Liberation Sans', sans-serif" font-weight="bold" font-size="8.77" fill="#1a1a1a">JAK2 V617F status</text><rect x="327.5" y="441.50" width="8" height="6.4" fill="#6b6cf0"/><text x="338.4" y="446.70" text-anchor="start" font-family="'Liberation Sans', sans-serif" font-size="7.8" fill="#333">Homozygous</text><rect x="327.5" y="451.00" width="8" height="6.4" fill="#f26a32"/><text x="338.4" y="456.20" text-anchor="start" font-family="'Liberation Sans', sans-serif" font-size="7.8" fill="#333">Heterozygous</text><rect x="327.5" y="460.50" width="8" height="6.4" fill="#fbf41e"/><text x="338.4" y="465.70" text-anchor="start" font-family="'Liberation Sans', sans-serif" font-size="7.8" fill="#333">WT</text><g shape-rendering="crispEdges"><rect x="1.20" y="487.8" width="4.53" height="3.70" fill="#000000"/><rect x="1.20" y="491.5" width="4.53" height="4.10" fill="#5cd4e4"/><rect x="1.20" y="495.6" width="4.53" height="3.80" fill="#1646d4"/><rect x="5.73" y="487.8" width="4.53" height="3.70" fill="#000000"/><rect x="5.73" y="491.5" width="4.53" height="4.10" fill="#5cd4e4"/><rect x="5.73" y="495.6" width="4.53" height="3.80" fill="#1646d4"/><rect x="10.26" y="487.8" width="4.53" height="3.70" fill="#000000"/><rect x="10.26" y="491.5" width="4.53" height="4.10" fill="#5cd4e4"/><rect x="10.26" y="495.6" width="4.53" height="3.80" fill="#1646d4"/><rect x="14.79" y="487.8" width="4.53" height="3.70" fill="#000000"/><rect x="14.79" y="491.5" width="4.53" height="4.10" fill="#5cd4e4"/><rect x="14.79" y="495.6" width="4.53" height="3.80" fill="#1646d4"/><rect x="19.31" y="487.8" width="4.53" height="3.70" fill="#000000"/><rect x="19.31" y="491.5" width="4.53" height="4.10" fill="#fdf6ae"/><rect x="19.31" y="495.6" width="4.53" height="3.80" fill="#d81c26"/><rect x="23.84" y="487.8" width="4.53" height="3.70" fill="#000000"/><rect x="23.84" y="491.5" width="4.53" height="4.10" fill="#eeb0b0"/><rect x="23.84" y="495.6" width="4.53" height="3.80" fill="#d81c26"/><rect x="28.37" y="487.8" width="4.53" height="3.70" fill="#000000"/><rect x="28.37" y="491.5" width="4.53" height="4.10" fill="#fdf6ae"/><rect x="28.37" y="495.6" width="4.53" height="3.80" fill="#f2901e"/><rect x="32.90" y="487.8" width="4.53" height="3.70" fill="#e6e6ec"/><rect x="32.90" y="491.5" width="4.53" height="4.10" fill="#5cd4e4"/><rect x="32.90" y="495.6" width="4.53" height="3.80" fill="#1646d4"/><rect x="37.43" y="487.8" width="4.53" height="3.70" fill="#e6e6ec"/><rect x="37.43" y="491.5" width="4.53" height="4.10" fill="#5cd4e4"/><rect x="37.43" y="495.6" width="4.53" height="3.80" fill="#1646d4"/><rect x="41.96" y="487.8" width="4.53" height="3.70" fill="#e6e6ec"/><rect x="41.96" y="491.5" width="4.53" height="4.10" fill="#5cd4e4"/><rect x="41.96" y="495.6" width="4.53" height="3.80" fill="#1646d4"/><rect x="46.49" y="487.8" width="4.53" height="3.70" fill="#e6e6ec"/><rect x="46.49" y="491.5" width="4.53" height="4.10" fill="#5cd4e4"/><rect x="46.49" y="495.6" width="4.53" height="3.80" fill="#1646d4"/><rect x="51.02" y="487.8" width="4.53" height="3.70" fill="#e6e6ec"/><rect x="51.02" y="491.5" width="4.53" height="4.10" fill="#5cd4e4"/><rect x="51.02" y="495.6" width="4.53" height="3.80" fill="#1646d4"/><rect x="55.54" y="487.8" width="4.53" height="3.70" fill="#e6e6ec"/><rect x="55.54" y="491.5" width="4.53" height="4.10" fill="#5cd4e4"/><rect x="55.54" y="495.6" width="4.53" height="3.80" fill="#1646d4"/><rect x="60.07" y="487.8" width="4.53" height="3.70" fill="#e6e6ec"/><rect x="60.07" y="491.5" width="4.53" height="4.10" fill="#5cd4e4"/><rect x="60.07" y="495.6" width="4.53" height="3.80" fill="#1646d4"/><rect x="64.60" y="487.8" width="4.53" height="3.70" fill="#e6e6ec"/><rect x="64.60" y="491.5" width="4.53" height="4.10" fill="#5cd4e4"/><rect x="64.60" y="495.6" width="4.53" height="3.80" fill="#1646d4"/><rect x="69.13" y="487.8" width="4.53" height="3.70" fill="#e6e6ec"/><rect x="69.13" y="491.5" width="4.53" height="4.10" fill="#eeb0b0"/><rect x="69.13" y="495.6" width="4.53" height="3.80" fill="#1646d4"/><rect x="73.66" y="487.8" width="4.53" height="3.70" fill="#e6e6ec"/><rect x="73.66" y="491.5" width="4.53" height="4.10" fill="#eeb0b0"/><rect x="73.66" y="495.6" width="4.53" height="3.80" fill="#1646d4"/><rect x="78.19" y="487.8" width="4.53" height="3.70" fill="#e6e6ec"/><rect x="78.19" y="491.5" width="4.53" height="4.10" fill="#eeb0b0"/><rect x="78.19" y="495.6" width="4.53" height="3.80" fill="#1646d4"/><rect x="82.72" y="487.8" width="4.53" height="3.70" fill="#e6e6ec"/><rect x="82.72" y="491.5" width="4.53" height="4.10" fill="#eeb0b0"/><rect x="82.72" y="495.6" width="4.53" height="3.80" fill="#1646d4"/><rect x="87.25" y="487.8" width="4.53" height="3.70" fill="#e6e6ec"/><rect x="87.25" y="491.5" width="4.53" height="4.10" fill="#eeb0b0"/><rect x="87.25" y="495.6" width="4.53" height="3.80" fill="#1646d4"/><rect x="91.77" y="487.8" width="4.53" height="3.70" fill="#e6e6ec"/><rect x="91.77" y="491.5" width="4.53" height="4.10" fill="#eeb0b0"/><rect x="91.77" y="495.6" width="4.53" height="3.80" fill="#1646d4"/><rect x="96.30" y="487.8" width="4.53" height="3.70" fill="#e6e6ec"/><rect x="96.30" y="491.5" width="4.53" height="4.10" fill="#fdf6ae"/><rect x="96.30" y="495.6" width="4.53" height="3.80" fill="#1646d4"/><rect x="100.83" y="487.8" width="4.53" height="3.70" fill="#e6e6ec"/><rect x="100.83" y="491.5" width="4.53" height="4.10" fill="#fdf6ae"/><rect x="100.83" y="495.6" width="4.53" height="3.80" fill="#1646d4"/><rect x="105.36" y="487.8" width="4.53" height="3.70" fill="#e6e6ec"/><rect x="105.36" y="491.5" width="4.53" height="4.10" fill="#fdf6ae"/><rect x="105.36" y="495.6" width="4.53" height="3.80" fill="#1646d4"/><rect x="109.89" y="487.8" width="4.53" height="3.70" fill="#e6e6ec"/><rect x="109.89" y="491.5" width="4.53" height="4.10" fill="#fdf6ae"/><rect x="109.89" y="495.6" width="4.53" height="3.80" fill="#1646d4"/><rect x="114.42" y="487.8" width="4.53" height="3.70" fill="#e6e6ec"/><rect x="114.42" y="491.5" width="4.53" height="4.10" fill="#fdf6ae"/><rect x="114.42" y="495.6" width="4.53" height="3.80" fill="#1646d4"/><rect x="118.95" y="487.8" width="4.53" height="3.70" fill="#e6e6ec"/><rect x="118.95" y="491.5" width="4.53" height="4.10" fill="#fdf6ae"/><rect x="118.95" y="495.6" width="4.53" height="3.80" fill="#1646d4"/><rect x="123.48" y="487.8" width="4.53" height="3.70" fill="#e6e6ec"/><rect x="123.48" y="491.5" width="4.53" height="4.10" fill="#fdf6ae"/><rect x="123.48" y="495.6" width="4.53" height="3.80" fill="#1646d4"/><rect x="128.00" y="487.8" width="4.53" height="3.70" fill="#e6e6ec"/><rect x="128.00" y="491.5" width="4.53" height="4.10" fill="#fdf6ae"/><rect x="128.00" y="495.6" width="4.53" height="3.80" fill="#1646d4"/><rect x="132.53" y="487.8" width="4.53" height="3.70" fill="#e6e6ec"/><rect x="132.53" y="491.5" width="4.53" height="4.10" fill="#fdf6ae"/><rect x="132.53" y="495.6" width="4.53" height="3.80" fill="#1646d4"/><rect x="137.06" y="487.8" width="4.53" height="3.70" fill="#e6e6ec"/><rect x="137.06" y="491.5" width="4.53" height="4.10" fill="#fdf6ae"/><rect x="137.06" y="495.6" width="4.53" height="3.80" fill="#1646d4"/><rect x="141.59" y="487.8" width="4.53" height="3.70" fill="#e6e6ec"/><rect x="141.59" y="491.5" width="4.53" height="4.10" fill="#eeb0b0"/><rect x="141.59" y="495.6" width="4.53" height="3.80" fill="#d81c26"/><rect x="146.12" y="487.8" width="4.53" height="3.70" fill="#e6e6ec"/><rect x="146.12" y="491.5" width="4.53" height="4.10" fill="#eeb0b0"/><rect x="146.12" y="495.6" width="4.53" height="3.80" fill="#d81c26"/><rect x="150.65" y="487.8" width="4.53" height="3.70" fill="#e6e6ec"/><rect x="150.65" y="491.5" width="4.53" height="4.10" fill="#eeb0b0"/><rect x="150.65" y="495.6" width="4.53" height="3.80" fill="#d81c26"/><rect x="155.18" y="487.8" width="4.53" height="3.70" fill="#e6e6ec"/><rect x="155.18" y="491.5" width="4.53" height="4.10" fill="#eeb0b0"/><rect x="155.18" y="495.6" width="4.53" height="3.80" fill="#d81c26"/><rect x="159.70" y="487.8" width="4.53" height="3.70" fill="#e6e6ec"/><rect x="159.70" y="491.5" width="4.53" height="4.10" fill="#eeb0b0"/><rect x="159.70" y="495.6" width="4.53" height="3.80" fill="#d81c26"/><rect x="164.23" y="487.8" width="4.53" height="3.70" fill="#e6e6ec"/><rect x="164.23" y="491.5" width="4.53" height="4.10" fill="#eeb0b0"/><rect x="164.23" y="495.6" width="4.53" height="3.80" fill="#d81c26"/><rect x="168.76" y="487.8" width="4.53" height="3.70" fill="#e6e6ec"/><rect x="168.76" y="491.5" width="4.53" height="4.10" fill="#eeb0b0"/><rect x="168.76" y="495.6" width="4.53" height="3.80" fill="#d81c26"/><rect x="173.29" y="487.8" width="4.53" height="3.70" fill="#e6e6ec"/><rect x="173.29" y="491.5" width="4.53" height="4.10" fill="#eeb0b0"/><rect x="173.29" y="495.6" width="4.53" height="3.80" fill="#d81c26"/><rect x="177.82" y="487.8" width="4.53" height="3.70" fill="#e6e6ec"/><rect x="177.82" y="491.5" width="4.53" height="4.10" fill="#eeb0b0"/><rect x="177.82" y="495.6" width="4.53" height="3.80" fill="#d81c26"/><rect x="182.35" y="487.8" width="4.53" height="3.70" fill="#e6e6ec"/><rect x="182.35" y="491.5" width="4.53" height="4.10" fill="#eeb0b0"/><rect x="182.35" y="495.6" width="4.53" height="3.80" fill="#d81c26"/><rect x="186.88" y="487.8" width="4.53" height="3.70" fill="#e6e6ec"/><rect x="186.88" y="491.5" width="4.53" height="4.10" fill="#eeb0b0"/><rect x="186.88" y="495.6" width="4.53" height="3.80" fill="#d81c26"/><rect x="191.41" y="487.8" width="4.53" height="3.70" fill="#e6e6ec"/><rect x="191.41" y="491.5" width="4.53" height="4.10" fill="#eeb0b0"/><rect x="191.41" y="495.6" width="4.53" height="3.80" fill="#d81c26"/><rect x="195.93" y="487.8" width="4.53" height="3.70" fill="#e6e6ec"/><rect x="195.93" y="491.5" width="4.53" height="4.10" fill="#eeb0b0"/><rect x="195.93" y="495.6" width="4.53" height="3.80" fill="#d81c26"/><rect x="200.46" y="487.8" width="4.53" height="3.70" fill="#e6e6ec"/><rect x="200.46" y="491.5" width="4.53" height="4.10" fill="#eeb0b0"/><rect x="200.46" y="495.6" width="4.53" height="3.80" fill="#d81c26"/><rect x="204.99" y="487.8" width="4.53" height="3.70" fill="#e6e6ec"/><rect x="204.99" y="491.5" width="4.53" height="4.10" fill="#eeb0b0"/><rect x="204.99" y="495.6" width="4.53" height="3.80" fill="#d81c26"/><rect x="209.52" y="487.8" width="4.53" height="3.70" fill="#e6e6ec"/><rect x="209.52" y="491.5" width="4.53" height="4.10" fill="#eeb0b0"/><rect x="209.52" y="495.6" width="4.53" height="3.80" fill="#d81c26"/><rect x="214.05" y="487.8" width="4.53" height="3.70" fill="#e6e6ec"/><rect x="214.05" y="491.5" width="4.53" height="4.10" fill="#eeb0b0"/><rect x="214.05" y="495.6" width="4.53" height="3.80" fill="#d81c26"/><rect x="218.58" y="487.8" width="4.53" height="3.70" fill="#e6e6ec"/><rect x="218.58" y="491.5" width="4.53" height="4.10" fill="#eeb0b0"/><rect x="218.58" y="495.6" width="4.53" height="3.80" fill="#d81c26"/><rect x="223.11" y="487.8" width="4.53" height="3.70" fill="#e6e6ec"/><rect x="223.11" y="491.5" width="4.53" height="4.10" fill="#fdf6ae"/><rect x="223.11" y="495.6" width="4.53" height="3.80" fill="#d81c26"/><rect x="227.64" y="487.8" width="4.53" height="3.70" fill="#e6e6ec"/><rect x="227.64" y="491.5" width="4.53" height="4.10" fill="#fdf6ae"/><rect x="227.64" y="495.6" width="4.53" height="3.80" fill="#d81c26"/><rect x="232.16" y="487.8" width="4.53" height="3.70" fill="#e6e6ec"/><rect x="232.16" y="491.5" width="4.53" height="4.10" fill="#fdf6ae"/><rect x="232.16" y="495.6" width="4.53" height="3.80" fill="#d81c26"/><rect x="236.69" y="487.8" width="4.53" height="3.70" fill="#e6e6ec"/><rect x="236.69" y="491.5" width="4.53" height="4.10" fill="#fdf6ae"/><rect x="236.69" y="495.6" width="4.53" height="3.80" fill="#d81c26"/><rect x="241.22" y="487.8" width="4.53" height="3.70" fill="#e6e6ec"/><rect x="241.22" y="491.5" width="4.53" height="4.10" fill="#fdf6ae"/><rect x="241.22" y="495.6" width="4.53" height="3.80" fill="#d81c26"/><rect x="245.75" y="487.8" width="4.53" height="3.70" fill="#e6e6ec"/><rect x="245.75" y="491.5" width="4.53" height="4.10" fill="#fdf6ae"/><rect x="245.75" y="495.6" width="4.53" height="3.80" fill="#d81c26"/><rect x="250.28" y="487.8" width="4.53" height="3.70" fill="#e6e6ec"/><rect x="250.28" y="491.5" width="4.53" height="4.10" fill="#fdf6ae"/><rect x="250.28" y="495.6" width="4.53" height="3.80" fill="#d81c26"/><rect x="254.81" y="487.8" width="4.53" height="3.70" fill="#e6e6ec"/><rect x="254.81" y="491.5" width="4.53" height="4.10" fill="#fdf6ae"/><rect x="254.81" y="495.6" width="4.53" height="3.80" fill="#d81c26"/><rect x="259.34" y="487.8" width="4.53" height="3.70" fill="#e6e6ec"/><rect x="259.34" y="491.5" width="4.53" height="4.10" fill="#fdf6ae"/><rect x="259.34" y="495.6" width="4.53" height="3.80" fill="#d81c26"/><rect x="263.87" y="487.8" width="4.53" height="3.70" fill="#e6e6ec"/><rect x="263.87" y="491.5" width="4.53" height="4.10" fill="#fdf6ae"/><rect x="263.87" y="495.6" width="4.53" height="3.80" fill="#d81c26"/><rect x="268.39" y="487.8" width="4.53" height="3.70" fill="#e6e6ec"/><rect x="268.39" y="491.5" width="4.53" height="4.10" fill="#fdf6ae"/><rect x="268.39" y="495.6" width="4.53" height="3.80" fill="#d81c26"/><rect x="272.92" y="487.8" width="4.53" height="3.70" fill="#e6e6ec"/><rect x="272.92" y="491.5" width="4.53" height="4.10" fill="#fdf6ae"/><rect x="272.92" y="495.6" width="4.53" height="3.80" fill="#d81c26"/><rect x="277.45" y="487.8" width="4.53" height="3.70" fill="#e6e6ec"/><rect x="277.45" y="491.5" width="4.53" height="4.10" fill="#fdf6ae"/><rect x="277.45" y="495.6" width="4.53" height="3.80" fill="#d81c26"/><rect x="281.98" y="487.8" width="4.53" height="3.70" fill="#e6e6ec"/><rect x="281.98" y="491.5" width="4.53" height="4.10" fill="#fdf6ae"/><rect x="281.98" y="495.6" width="4.53" height="3.80" fill="#d81c26"/><rect x="286.51" y="487.8" width="4.53" height="3.70" fill="#e6e6ec"/><rect x="286.51" y="491.5" width="4.53" height="4.10" fill="#fdf6ae"/><rect x="286.51" y="495.6" width="4.53" height="3.80" fill="#d81c26"/><rect x="291.04" y="487.8" width="4.53" height="3.70" fill="#e6e6ec"/><rect x="291.04" y="491.5" width="4.53" height="4.10" fill="#fdf6ae"/><rect x="291.04" y="495.6" width="4.53" height="3.80" fill="#d81c26"/><rect x="295.57" y="487.8" width="4.53" height="3.70" fill="#e6e6ec"/><rect x="295.57" y="491.5" width="4.53" height="4.10" fill="#fdf6ae"/><rect x="295.57" y="495.6" width="4.53" height="3.80" fill="#d81c26"/><rect x="300.10" y="487.8" width="4.53" height="3.70" fill="#e6e6ec"/><rect x="300.10" y="491.5" width="4.53" height="4.10" fill="#fdf6ae"/><rect x="300.10" y="495.6" width="4.53" height="3.80" fill="#d81c26"/><rect x="304.62" y="487.8" width="4.53" height="3.70" fill="#e6e6ec"/><rect x="304.62" y="491.5" width="4.53" height="4.10" fill="#fdf6ae"/><rect x="304.62" y="495.6" width="4.53" height="3.80" fill="#d81c26"/><rect x="309.15" y="487.8" width="4.53" height="3.70" fill="#e6e6ec"/><rect x="309.15" y="491.5" width="4.53" height="4.10" fill="#fdf6ae"/><rect x="309.15" y="495.6" width="4.53" height="3.80" fill="#d81c26"/><rect x="313.68" y="487.8" width="4.53" height="3.70" fill="#e6e6ec"/><rect x="313.68" y="491.5" width="4.53" height="4.10" fill="#fdf6ae"/><rect x="313.68" y="495.6" width="4.53" height="3.80" fill="#d81c26"/><rect x="318.21" y="487.8" width="4.53" height="3.70" fill="#e6e6ec"/><rect x="318.21" y="491.5" width="4.53" height="4.10" fill="#fdf6ae"/><rect x="318.21" y="495.6" width="4.53" height="3.80" fill="#d81c26"/><rect x="322.74" y="487.8" width="4.53" height="3.70" fill="#e6e6ec"/><rect x="322.74" y="491.5" width="4.53" height="4.10" fill="#fdf6ae"/><rect x="322.74" y="495.6" width="4.53" height="3.80" fill="#d81c26"/><rect x="327.27" y="487.8" width="4.53" height="3.70" fill="#e6e6ec"/><rect x="327.27" y="491.5" width="4.53" height="4.10" fill="#fdf6ae"/><rect x="327.27" y="495.6" width="4.53" height="3.80" fill="#d81c26"/><rect x="331.80" y="487.8" width="4.53" height="3.70" fill="#e6e6ec"/><rect x="331.80" y="491.5" width="4.53" height="4.10" fill="#5cd4e4"/><rect x="331.80" y="495.6" width="4.53" height="3.80" fill="#f2901e"/><rect x="336.32" y="487.8" width="4.53" height="3.70" fill="#e6e6ec"/><rect x="336.32" y="491.5" width="4.53" height="4.10" fill="#5cd4e4"/><rect x="336.32" y="495.6" width="4.53" height="3.80" fill="#f2901e"/><rect x="340.85" y="487.8" width="4.53" height="3.70" fill="#e6e6ec"/><rect x="340.85" y="491.5" width="4.53" height="4.10" fill="#eeb0b0"/><rect x="340.85" y="495.6" width="4.53" height="3.80" fill="#f2901e"/><rect x="345.38" y="487.8" width="4.53" height="3.70" fill="#e6e6ec"/><rect x="345.38" y="491.5" width="4.53" height="4.10" fill="#eeb0b0"/><rect x="345.38" y="495.6" width="4.53" height="3.80" fill="#f2901e"/><rect x="349.91" y="487.8" width="4.53" height="3.70" fill="#e6e6ec"/><rect x="349.91" y="491.5" width="4.53" height="4.10" fill="#eeb0b0"/><rect x="349.91" y="495.6" width="4.53" height="3.80" fill="#f2901e"/><rect x="354.44" y="487.8" width="4.53" height="3.70" fill="#e6e6ec"/><rect x="354.44" y="491.5" width="4.53" height="4.10" fill="#fdf6ae"/><rect x="354.44" y="495.6" width="4.53" height="3.80" fill="#f2901e"/><rect x="358.97" y="487.8" width="4.53" height="3.70" fill="#e6e6ec"/><rect x="358.97" y="491.5" width="4.53" height="4.10" fill="#fdf6ae"/><rect x="358.97" y="495.6" width="4.53" height="3.80" fill="#f2901e"/><rect x="363.50" y="487.8" width="4.53" height="3.70" fill="#e6e6ec"/><rect x="363.50" y="491.5" width="4.53" height="4.10" fill="#fdf6ae"/><rect x="363.50" y="495.6" width="4.53" height="3.80" fill="#f2901e"/><rect x="368.03" y="487.8" width="4.53" height="3.70" fill="#e6e6ec"/><rect x="368.03" y="491.5" width="4.53" height="4.10" fill="#fdf6ae"/><rect x="368.03" y="495.6" width="4.53" height="3.80" fill="#f2901e"/><rect x="372.55" y="487.8" width="4.53" height="3.70" fill="#e6e6ec"/><rect x="372.55" y="491.5" width="4.53" height="4.10" fill="#fdf6ae"/><rect x="372.55" y="495.6" width="4.53" height="3.80" fill="#f2901e"/><rect x="377.08" y="487.8" width="4.53" height="3.70" fill="#e6e6ec"/><rect x="377.08" y="491.5" width="4.53" height="4.10" fill="#fdf6ae"/><rect x="377.08" y="495.6" width="4.53" height="3.80" fill="#f2901e"/><rect x="381.61" y="487.8" width="4.53" height="3.70" fill="#e6e6ec"/><rect x="381.61" y="491.5" width="4.53" height="4.10" fill="#fdf6ae"/><rect x="381.61" y="495.6" width="4.53" height="3.80" fill="#f2901e"/><rect x="386.14" y="487.8" width="4.53" height="3.70" fill="#e6e6ec"/><rect x="386.14" y="491.5" width="4.53" height="4.10" fill="#fdf6ae"/><rect x="386.14" y="495.6" width="4.53" height="3.80" fill="#f2901e"/><rect x="390.67" y="487.8" width="4.53" height="3.70" fill="#e6e6ec"/><rect x="390.67" y="491.5" width="4.53" height="4.10" fill="#fdf6ae"/><rect x="390.67" y="495.6" width="4.53" height="3.80" fill="#f2901e"/><rect x="395.20" y="487.8" width="4.53" height="3.70" fill="#e6e6ec"/><rect x="395.20" y="491.5" width="4.53" height="4.10" fill="#fdf6ae"/><rect x="395.20" y="495.6" width="4.53" height="3.80" fill="#f2901e"/><rect x="399.73" y="487.8" width="4.53" height="3.70" fill="#e6e6ec"/><rect x="399.73" y="491.5" width="4.53" height="4.10" fill="#fdf6ae"/><rect x="399.73" y="495.6" width="4.53" height="3.80" fill="#f2901e"/><rect x="404.26" y="487.8" width="4.53" height="3.70" fill="#e6e6ec"/><rect x="404.26" y="491.5" width="4.53" height="4.10" fill="#fdf6ae"/><rect x="404.26" y="495.6" width="4.53" height="3.80" fill="#f2901e"/><rect x="408.78" y="487.8" width="4.53" height="3.70" fill="#b8b8d8"/><rect x="408.78" y="491.5" width="4.53" height="4.10" fill="#b8b8d8"/><rect x="408.78" y="495.6" width="4.53" height="3.80" fill="#b8b8d8"/><rect x="413.31" y="487.8" width="4.53" height="3.70" fill="#b8b8d8"/><rect x="413.31" y="491.5" width="4.53" height="4.10" fill="#b8b8d8"/><rect x="413.31" y="495.6" width="4.53" height="3.80" fill="#b8b8d8"/><rect x="417.84" y="487.8" width="4.53" height="3.70" fill="#b8b8d8"/><rect x="417.84" y="491.5" width="4.53" height="4.10" fill="#b8b8d8"/><rect x="417.84" y="495.6" width="4.53" height="3.80" fill="#b8b8d8"/><rect x="422.37" y="487.8" width="4.53" height="3.70" fill="#b8b8d8"/><rect x="422.37" y="491.5" width="4.53" height="4.10" fill="#b8b8d8"/><rect x="422.37" y="495.6" width="4.53" height="3.80" fill="#b8b8d8"/><rect x="426.90" y="487.8" width="4.53" height="3.70" fill="#b8b8d8"/><rect x="426.90" y="491.5" width="4.53" height="4.10" fill="#b8b8d8"/><rect x="426.90" y="495.6" width="4.53" height="3.80" fill="#b8b8d8"/><rect x="431.43" y="487.8" width="4.53" height="3.70" fill="#b8b8d8"/><rect x="431.43" y="491.5" width="4.53" height="4.10" fill="#b8b8d8"/><rect x="431.43" y="495.6" width="4.53" height="3.80" fill="#b8b8d8"/><rect x="435.96" y="487.8" width="4.53" height="3.70" fill="#b8b8d8"/><rect x="435.96" y="491.5" width="4.53" height="4.10" fill="#b8b8d8"/><rect x="435.96" y="495.6" width="4.53" height="3.80" fill="#b8b8d8"/><rect x="440.49" y="487.8" width="4.53" height="3.70" fill="#b8b8d8"/><rect x="440.49" y="491.5" width="4.53" height="4.10" fill="#b8b8d8"/><rect x="440.49" y="495.6" width="4.53" height="3.80" fill="#b8b8d8"/><rect x="445.01" y="487.8" width="4.53" height="3.70" fill="#b8b8d8"/><rect x="445.01" y="491.5" width="4.53" height="4.10" fill="#b8b8d8"/><rect x="445.01" y="495.6" width="4.53" height="3.80" fill="#b8b8d8"/><rect x="449.54" y="487.8" width="4.53" height="3.70" fill="#b8b8d8"/><rect x="449.54" y="491.5" width="4.53" height="4.10" fill="#b8b8d8"/><rect x="449.54" y="495.6" width="4.53" height="3.80" fill="#b8b8d8"/><rect x="454.07" y="487.8" width="4.53" height="3.70" fill="#b8b8d8"/><rect x="454.07" y="491.5" width="4.53" height="4.10" fill="#b8b8d8"/><rect x="454.07" y="495.6" width="4.53" height="3.80" fill="#b8b8d8"/></g><g transform="translate(1.2,499.4) scale(4.5287,2.4119)"><path d="M15 0h2v1h-2zM66 0h1v1h-1zM72 0h1v1h-1zM40 1h1v1h-1zM55 1h1v1h-1zM68 1h1v1h-1zM25 2h1v1h-1zM41 2h1v1h-1zM43 2h1v1h-1zM77 2h1v1h-1zM80 2h1v1h-1zM83 2h1v1h-1zM22 3h1v1h-1zM84 3h1v1h-1zM44 4h1v1h-1zM80 4h1v1h-1zM10 5h1v1h-1zM61 5h1v1h-1zM3 6h1v1h-1zM6 7h1v1h-1zM18 7h1v1h-1zM58 7h1v1h-1zM0 8h1v1h-1zM2 9h1v1h-1zM14 9h1v1h-1zM40 9h1v1h-1zM84 9h1v1h-1zM89 9h1v1h-1zM1 10h1v1h-1zM40 10h1v1h-1zM49 10h1v1h-1zM34 11h1v1h-1zM44 11h1v1h-1zM18 12h1v1h-1zM16 13h1v1h-1zM36 13h1v1h-1zM41 13h1v1h-1zM42 14h1v1h-1zM44 14h1v1h-1zM1 15h1v1h-1zM61 15h1v1h-1zM44 16h1v1h-1zM33 19h1v1h-1zM65 19h1v1h-1zM47 20h1v1h-1zM87 20h1v1h-1zM1 21h1v1h-1zM20 21h1v1h-1zM31 21h1v1h-1zM49 21h1v1h-1zM59 21h1v1h-1zM79 21h1v1h-1zM29 22h1v1h-1zM42 23h1v1h-1zM59 24h1v1h-1zM4 26h1v1h-1zM39 26h1v1h-1zM49 26h1v1h-1zM62 26h1v1h-1zM3 27h1v1h-1zM17 27h1v1h-1zM22 27h1v1h-1zM26 27h1v1h-1zM67 27h1v1h-1zM74 27h1v1h-1zM78 27h1v1h-1zM81 27h1v1h-1zM2 28h1v1h-1zM44 28h1v1h-1zM62 28h1v1h-1zM24 29h1v1h-1zM29 29h1v1h-1zM59 29h1v1h-1zM7 30h1v1h-1zM94 31h1v1h-1zM36 33h1v1h-1zM49 34h1v1h-1zM60 35h1v1h-1zM12 36h1v1h-1zM7 37h1v1h-1zM22 37h1v1h-1zM43 37h1v1h-1zM80 37h1v1h-1zM84 38h1v1h-1zM7 39h1v1h-1zM12 39h1v1h-1zM20 39h1v1h-1zM95 40h1v1h-1zM97 40h1v1h-1zM60 41h1v1h-1zM24 42h1v1h-1zM5 43h1v1h-1zM16 43h1v1h-1zM44 44h1v1h-1zM88 44h1v1h-1zM1 45h1v1h-1zM17 45h1v1h-1zM26 45h1v1h-1zM30 45h1v1h-1zM99 45h2v1h-2zM15 46h1v1h-1zM17 46h1v1h-1zM26 46h1v1h-1zM48 46h1v1h-1zM6 47h1v1h-1zM11 47h1v1h-1zM24 47h1v1h-1zM80 47h1v1h-1zM97 47h1v1h-1zM58 50h1v1h-1zM87 50h1v1h-1zM78 51h1v1h-1zM2 52h1v1h-1zM57 52h1v1h-1zM71 52h1v1h-1zM14 57h1v1h-1zM2 58h1v1h-1zM16 58h1v1h-1zM0 59h1v1h-1zM6 59h1v1h-1zM34 59h1v1h-1zM37 59h1v1h-1zM6 60h1v1h-1zM5 61h1v1h-1zM31 62h1v1h-1zM73 62h1v1h-1zM93 62h1v1h-1zM99 62h1v1h-1zM2 63h1v1h-1zM2 64h1v1h-1zM84 65h1v1h-1zM7 67h1v1h-1zM29 67h1v1h-1zM16 68h1v1h-1zM21 68h1v1h-1zM59 68h1v1h-1zM13 69h1v1h-1zM85 69h1v1h-1zM16 70h1v1h-1zM27 70h1v1h-1zM30 70h1v1h-1zM50 70h1v1h-1zM83 70h1v1h-1zM88 71h1v1h-1zM29 72h1v1h-1zM25 73h1v1h-1zM7 74h1v1h-1zM9 76h1v1h-1zM48 76h1v1h-1zM73 76h1v1h-1zM81 78h1v1h-1zM87 79h1v1h-1zM60 80h1v1h-1z" fill="#0c0c91"/><path d="M89 0h1v1h-1zM51 3h1v1h-1zM66 5h1v1h-1zM84 6h1v1h-1zM43 7h1v1h-1zM88 8h1v1h-1zM1 9h1v1h-1zM4 11h1v1h-1zM5 12h1v1h-1zM61 14h1v1h-1zM4 15h1v1h-1zM42 15h1v1h-1zM50 15h1v1h-1zM7 16h1v1h-1zM24 16h1v1h-1zM31 16h1v1h-1zM11 18h1v1h-1zM58 18h1v1h-1zM34 23h1v1h-1zM78 25h1v1h-1zM9 26h1v1h-1zM0 27h1v1h-1zM65 27h1v1h-1zM85 27h1v1h-1zM60 29h1v1h-1zM1 33h1v1h-1zM75 33h1v1h-1zM43 34h1v1h-1zM59 34h1v1h-1zM81 35h1v1h-1zM5 36h1v1h-1zM28 37h1v1h-1zM44 37h1v1h-1zM5 39h1v1h-1zM34 40h1v1h-1zM6 43h1v1h-1zM14 43h1v1h-1zM95 43h1v1h-1zM48 45h1v1h-1zM53 45h1v1h-1zM25 47h1v1h-1zM43 47h1v1h-1zM69 47h1v1h-1zM68 49h1v1h-1zM90 51h1v1h-1zM3 55h1v1h-1zM2 56h1v1h-1zM83 57h1v1h-1zM56 58h1v1h-1zM50 60h1v1h-1zM95 65h1v1h-1zM7 66h1v1h-1zM58 66h1v1h-1zM0 67h1v1h-1zM19 68h1v1h-1zM95 68h1v1h-1zM29 69h1v1h-1zM26 70h1v1h-1zM4 72h1v1h-1zM45 72h1v1h-1zM3 74h1v1h-1zM11 74h1v1h-1zM84 75h1v1h-1zM48 77h1v1h-1zM31 81h1v1h-1zM80 82h1v1h-1z" fill="#0e0f9d"/><path d="M42 0h1v1h-1zM45 0h1v1h-1zM63 1h1v1h-1zM50 4h1v1h-1zM65 5h1v1h-1zM15 6h1v1h-1zM41 6h1v1h-1zM5 7h1v1h-1zM9 9h1v1h-1zM39 10h1v1h-1zM18 11h1v1h-1zM74 11h1v1h-1zM7 13h1v1h-1zM18 13h1v1h-1zM57 13h1v1h-1zM49 14h1v1h-1zM78 14h1v1h-1zM38 15h1v1h-1zM15 16h1v1h-1zM6 19h1v1h-1zM40 20h1v1h-1zM79 20h1v1h-1zM5 21h1v1h-1zM9 21h1v1h-1zM93 21h1v1h-1zM82 22h1v1h-1zM92 24h1v1h-1zM37 29h1v1h-1zM72 31h1v1h-1zM17 32h1v1h-1zM29 32h1v1h-1zM83 32h1v1h-1zM42 33h1v1h-1zM60 33h1v1h-1zM1 34h1v1h-1zM65 34h1v1h-1zM2 36h1v1h-1zM11 37h1v1h-1zM66 37h1v1h-1zM9 39h1v1h-1zM26 39h1v1h-1zM15 40h1v1h-1zM91 41h1v1h-1zM20 42h1v1h-1zM80 42h1v1h-1zM4 43h1v1h-1zM84 45h1v1h-1zM18 47h1v1h-1zM67 47h1v1h-1zM1 54h1v1h-1zM3 56h1v1h-1zM6 57h1v1h-1zM28 57h1v1h-1zM82 57h1v1h-1zM4 58h1v1h-1zM14 59h1v1h-1zM85 61h1v1h-1zM50 62h1v1h-1zM22 65h1v1h-1zM58 65h1v1h-1zM24 66h1v1h-1zM67 66h1v1h-1zM29 68h1v1h-1zM34 71h1v1h-1zM2 74h1v1h-1zM59 74h1v1h-1zM19 75h1v1h-1zM0 80h1v1h-1zM50 80h1v1h-1zM88 80h1v1h-1zM26 81h1v1h-1z" fill="#1011a9"/><path d="M59 2h1v1h-1zM67 2h1v1h-1zM29 3h1v1h-1zM32 4h1v1h-1zM51 4h1v1h-1zM6 6h2v1h-2zM36 6h1v1h-1zM16 7h1v1h-1zM49 7h1v1h-1zM84 7h1v1h-1zM6 8h1v1h-1zM94 9h1v1h-1zM12 10h1v1h-1zM21 10h1v1h-1zM43 11h1v1h-1zM45 11h1v1h-1zM48 11h1v1h-1zM2 12h1v1h-1zM2 13h1v1h-1zM28 13h1v1h-1zM51 13h1v1h-1zM61 13h1v1h-1zM3 15h1v1h-1zM86 15h1v1h-1zM91 15h1v1h-1zM48 16h1v1h-1zM54 16h1v1h-1zM6 17h1v1h-1zM78 18h1v1h-1zM1 19h1v1h-1zM15 19h1v1h-1zM36 19h1v1h-1zM58 19h1v1h-1zM3 20h1v1h-1zM61 21h1v1h-1zM81 23h1v1h-1zM88 23h1v1h-1zM17 24h2v1h-2zM30 24h1v1h-1zM34 24h1v1h-1zM41 24h1v1h-1zM3 25h1v1h-1zM1 27h1v1h-1zM18 27h1v1h-1zM47 28h1v1h-1zM78 28h1v1h-1zM94 29h1v1h-1zM4 30h1v1h-1zM2 32h1v1h-1zM2 33h1v1h-1zM52 33h1v1h-1zM82 33h1v1h-1zM21 34h1v1h-1zM91 34h1v1h-1zM6 36h1v1h-1zM2 37h1v1h-1zM15 37h1v1h-1zM36 37h1v1h-1zM67 38h1v1h-1zM66 39h1v1h-1zM87 40h1v1h-1zM17 42h1v1h-1zM3 43h1v1h-1zM13 45h1v1h-1zM49 45h1v1h-1zM57 45h1v1h-1zM74 45h1v1h-1zM79 45h2v1h-2zM81 46h1v1h-1zM49 49h1v1h-1zM23 50h1v1h-1zM6 51h1v1h-1zM15 51h1v1h-1zM6 52h1v1h-1zM6 54h1v1h-1zM26 54h1v1h-1zM1 56h1v1h-1zM38 57h1v1h-1zM91 57h1v1h-1zM7 58h1v1h-1zM33 58h1v1h-1zM84 58h1v1h-1zM66 59h1v1h-1zM5 60h1v1h-1zM14 60h1v1h-1zM85 62h1v1h-1zM9 65h1v1h-1zM5 66h1v1h-1zM42 66h1v1h-1zM21 67h1v1h-1zM5 68h1v1h-1zM4 70h1v1h-1zM1 72h1v1h-1zM7 73h1v1h-1zM47 75h1v1h-1zM26 76h1v1h-1zM15 77h1v1h-1zM60 77h1v1h-1zM87 77h1v1h-1zM1 78h1v1h-1zM90 78h1v1h-1zM0 79h1v1h-1zM6 79h1v1h-1zM50 79h1v1h-1zM4 80h1v1h-1z" fill="#1214b5"/><path d="M67 0h1v1h-1zM85 0h1v1h-1zM16 1h1v1h-1zM44 3h1v1h-1zM79 3h1v1h-1zM15 4h1v1h-1zM47 4h1v1h-1zM68 4h1v1h-1zM74 5h1v1h-1zM4 6h1v1h-1zM33 6h1v1h-1zM27 8h1v1h-1zM5 9h1v1h-1zM62 9h1v1h-1zM5 10h1v1h-1zM49 11h1v1h-1zM66 11h1v1h-1zM84 11h1v1h-1zM7 12h1v1h-1zM21 12h1v1h-1zM3 13h2v1h-2zM11 13h1v1h-1zM40 13h1v1h-1zM53 13h1v1h-1zM49 15h1v1h-1zM62 15h1v1h-1zM5 16h1v1h-1zM41 16h1v1h-1zM75 16h1v1h-1zM2 17h2v1h-2zM7 18h1v1h-1zM81 18h1v1h-1zM21 20h1v1h-1zM36 20h1v1h-1zM52 20h1v1h-1zM64 20h1v1h-1zM2 21h1v1h-1zM42 21h1v1h-1zM62 21h1v1h-1zM80 21h2v1h-2zM91 21h1v1h-1zM35 22h1v1h-1zM68 24h1v1h-1zM37 25h1v1h-1zM2 26h1v1h-1zM14 27h1v1h-1zM40 27h1v1h-1zM6 28h1v1h-1zM53 28h1v1h-1zM1 29h1v1h-1zM15 29h1v1h-1zM67 29h1v1h-1zM77 29h1v1h-1zM34 30h1v1h-1zM84 30h1v1h-1zM45 31h1v1h-1zM56 33h1v1h-1zM88 33h1v1h-1zM82 37h1v1h-1zM15 38h1v1h-1zM45 38h1v1h-1zM58 38h1v1h-1zM60 38h1v1h-1zM66 38h1v1h-1zM96 38h1v1h-1zM1 39h1v1h-1zM24 39h1v1h-1zM0 40h1v1h-1zM3 40h1v1h-1zM5 40h2v1h-2zM7 41h1v1h-1zM36 41h1v1h-1zM3 42h1v1h-1zM17 44h1v1h-1zM46 44h1v1h-1zM72 44h1v1h-1zM37 45h1v1h-1zM98 46h1v1h-1zM0 47h1v1h-1zM12 47h1v1h-1zM65 47h1v1h-1zM6 48h1v1h-1zM24 48h2v1h-2zM83 48h1v1h-1zM2 49h1v1h-1zM7 49h1v1h-1zM0 50h1v1h-1zM44 51h1v1h-1zM84 51h1v1h-1zM0 52h1v1h-1zM1 53h1v1h-1zM3 53h1v1h-1zM17 53h1v1h-1zM31 55h1v1h-1zM81 55h1v1h-1zM5 57h1v1h-1zM34 57h1v1h-1zM3 58h1v1h-1zM1 59h4v1h-4zM72 59h1v1h-1zM7 60h1v1h-1zM15 60h1v1h-1zM85 60h1v1h-1zM16 61h1v1h-1zM77 63h1v1h-1zM17 64h1v1h-1zM50 64h1v1h-1zM62 66h1v1h-1zM82 67h1v1h-1zM1 68h1v1h-1zM42 71h2v1h-2zM89 72h1v1h-1zM66 73h1v1h-1zM36 74h1v1h-1zM14 75h1v1h-1zM0 76h1v1h-1zM2 76h1v1h-1zM4 77h1v1h-1zM7 77h1v1h-1zM18 77h1v1h-1zM75 77h1v1h-1zM6 78h1v1h-1zM70 79h1v1h-1zM4 81h1v1h-1zM90 81h1v1h-1zM50 82h1v1h-1zM6 83h1v1h-1zM58 83h1v1h-1z" fill="#1516c1"/><path d="M11 0h1v1h-1zM51 0h1v1h-1zM58 0h1v1h-1zM62 0h1v1h-1zM71 0h1v1h-1zM73 2h1v1h-1zM61 4h1v1h-1zM83 4h1v1h-1zM61 6h1v1h-1zM1 7h1v1h-1zM97 8h1v1h-1zM0 10h1v1h-1zM41 10h1v1h-1zM42 11h1v1h-1zM68 11h1v1h-1zM20 13h1v1h-1zM0 14h2v1h-2zM3 14h1v1h-1zM68 14h1v1h-1zM63 16h1v1h-1zM10 17h1v1h-1zM48 17h1v1h-1zM6 18h1v1h-1zM2 19h1v1h-1zM22 19h1v1h-1zM31 20h1v1h-1zM53 22h1v1h-1zM80 22h1v1h-1zM89 22h1v1h-1zM18 23h1v1h-1zM50 24h1v1h-1zM78 24h1v1h-1zM1 25h2v1h-2zM83 25h1v1h-1zM3 26h1v1h-1zM53 26h1v1h-1zM15 27h1v1h-1zM56 27h1v1h-1zM34 28h1v1h-1zM20 29h1v1h-1zM46 29h1v1h-1zM11 30h1v1h-1zM71 30h1v1h-1zM3 31h1v1h-1zM14 33h1v1h-1zM92 33h1v1h-1zM3 34h2v1h-2zM97 34h1v1h-1zM4 35h1v1h-1zM25 35h1v1h-1zM59 35h1v1h-1zM90 35h1v1h-1zM98 35h1v1h-1zM45 37h1v1h-1zM58 37h1v1h-1zM81 37h1v1h-1zM0 41h1v1h-1zM33 41h1v1h-1zM82 41h1v1h-1zM0 44h1v1h-1zM24 44h1v1h-1zM28 44h1v1h-1zM58 44h1v1h-1zM99 44h1v1h-1zM4 45h2v1h-2zM62 45h1v1h-1zM86 45h1v1h-1zM96 45h1v1h-1zM5 46h2v1h-2zM67 46h1v1h-1zM3 47h1v1h-1zM62 47h1v1h-1zM17 48h1v1h-1zM27 48h1v1h-1zM80 48h1v1h-1zM0 49h1v1h-1zM17 49h1v1h-1zM38 49h1v1h-1zM2 50h1v1h-1zM5 50h1v1h-1zM44 50h1v1h-1zM92 51h1v1h-1zM3 52h1v1h-1zM5 53h1v1h-1zM83 54h1v1h-1zM2 55h1v1h-1zM4 55h1v1h-1zM26 55h1v1h-1zM16 57h1v1h-1zM40 57h1v1h-1zM1 58h1v1h-1zM6 58h1v1h-1zM76 58h1v1h-1zM5 59h1v1h-1zM0 61h2v1h-2zM7 61h1v1h-1zM96 61h2v1h-2zM2 62h1v1h-1zM22 62h1v1h-1zM95 62h1v1h-1zM15 63h1v1h-1zM17 63h1v1h-1zM40 64h1v1h-1zM83 64h1v1h-1zM2 65h1v1h-1zM23 65h1v1h-1zM56 66h1v1h-1zM6 67h1v1h-1zM65 68h1v1h-1zM44 69h1v1h-1zM28 70h1v1h-1zM7 71h1v1h-1zM15 72h1v1h-1zM74 72h1v1h-1zM5 74h1v1h-1zM17 74h1v1h-1zM7 75h1v1h-1zM41 76h1v1h-1zM36 77h1v1h-1zM60 78h1v1h-1zM2 79h2v1h-2zM7 79h1v1h-1zM58 79h1v1h-1zM5 80h2v1h-2zM2 81h1v1h-1zM50 81h1v1h-1zM4 82h2v1h-2zM49 82h1v1h-1zM59 83h1v1h-1z" fill="#1718cd"/><path d="M14 1h1v1h-1zM41 1h1v1h-1zM72 1h1v1h-1zM14 2h1v1h-1zM27 2h1v1h-1zM42 2h1v1h-1zM66 2h1v1h-1zM43 3h1v1h-1zM24 5h1v1h-1zM46 6h1v1h-1zM58 6h1v1h-1zM79 6h1v1h-1zM92 6h1v1h-1zM40 7h1v1h-1zM86 7h1v1h-1zM5 8h1v1h-1zM12 8h1v1h-1zM95 8h1v1h-1zM15 11h1v1h-1zM24 11h1v1h-1zM41 11h1v1h-1zM85 11h1v1h-1zM0 12h1v1h-1zM1 13h1v1h-1zM86 13h1v1h-1zM94 13h1v1h-1zM40 14h1v1h-1zM65 14h1v1h-1zM91 14h1v1h-1zM5 15h1v1h-1zM7 15h1v1h-1zM14 15h1v1h-1zM28 15h1v1h-1zM3 16h1v1h-1zM36 16h1v1h-1zM4 17h1v1h-1zM17 17h1v1h-1zM19 17h1v1h-1zM52 17h1v1h-1zM5 18h1v1h-1zM41 18h1v1h-1zM4 19h1v1h-1zM34 20h1v1h-1zM46 20h1v1h-1zM65 20h1v1h-1zM4 21h1v1h-1zM92 21h1v1h-1zM3 22h1v1h-1zM7 22h1v1h-1zM44 22h1v1h-1zM100 22h1v1h-1zM3 23h1v1h-1zM7 23h1v1h-1zM13 23h1v1h-1zM68 23h1v1h-1zM0 25h1v1h-1zM7 25h1v1h-1zM74 25h1v1h-1zM7 26h1v1h-1zM16 26h1v1h-1zM31 26h1v1h-1zM88 27h1v1h-1zM4 29h1v1h-1zM21 29h1v1h-1zM26 29h1v1h-1zM85 29h1v1h-1zM5 30h1v1h-1zM75 30h1v1h-1zM2 31h1v1h-1zM4 32h1v1h-1zM6 32h1v1h-1zM14 32h1v1h-1zM0 33h1v1h-1zM4 33h1v1h-1zM29 33h1v1h-1zM78 33h1v1h-1zM7 34h1v1h-1zM10 34h1v1h-1zM94 34h1v1h-1zM2 35h1v1h-1zM7 35h1v1h-1zM100 35h1v1h-1zM1 36h1v1h-1zM63 36h1v1h-1zM26 37h1v1h-1zM40 37h1v1h-1zM63 37h1v1h-1zM0 38h1v1h-1zM26 38h1v1h-1zM46 38h1v1h-1zM6 39h1v1h-1zM37 39h1v1h-1zM82 39h1v1h-1zM10 40h1v1h-1zM5 41h1v1h-1zM17 41h1v1h-1zM78 41h1v1h-1zM32 42h1v1h-1zM86 42h1v1h-1zM99 42h1v1h-1zM5 44h1v1h-1zM3 45h1v1h-1zM61 45h1v1h-1zM63 45h1v1h-1zM45 46h1v1h-1zM7 47h1v1h-1zM37 47h1v1h-1zM2 48h1v1h-1zM97 48h1v1h-1zM89 49h1v1h-1zM2 54h1v1h-1zM4 54h2v1h-2zM37 54h1v1h-1zM39 55h1v1h-1zM23 56h1v1h-1zM77 56h1v1h-1zM17 57h1v1h-1zM50 59h1v1h-1zM56 59h1v1h-1zM76 59h1v1h-1zM37 60h1v1h-1zM3 61h1v1h-1zM17 61h1v1h-1zM46 61h1v1h-1zM62 61h1v1h-1zM0 62h1v1h-1zM3 62h1v1h-1zM86 62h1v1h-1zM3 63h2v1h-2zM53 63h1v1h-1zM7 64h1v1h-1zM16 64h1v1h-1zM5 65h1v1h-1zM56 65h1v1h-1zM2 66h1v1h-1zM46 66h1v1h-1zM18 67h1v1h-1zM7 68h1v1h-1zM3 69h1v1h-1zM7 69h1v1h-1zM90 69h1v1h-1zM75 70h2v1h-2zM85 70h1v1h-1zM87 70h1v1h-1zM5 71h1v1h-1zM21 71h1v1h-1zM3 72h1v1h-1zM0 73h1v1h-1zM31 73h1v1h-1zM65 73h1v1h-1zM6 74h1v1h-1zM50 74h1v1h-1zM4 75h1v1h-1zM6 75h1v1h-1zM16 75h1v1h-1zM5 76h1v1h-1zM50 76h1v1h-1zM91 76h1v1h-1zM0 77h1v1h-1zM2 77h2v1h-2zM6 77h1v1h-1zM14 77h1v1h-1zM37 77h1v1h-1zM0 78h1v1h-1zM2 78h2v1h-2zM7 78h1v1h-1zM16 79h1v1h-1zM2 80h1v1h-1zM7 80h1v1h-1zM57 80h1v1h-1zM1 81h1v1h-1zM5 81h1v1h-1zM70 81h1v1h-1zM3 82h1v1h-1zM14 82h1v1h-1zM14 83h1v1h-1zM34 83h1v1h-1zM89 83h1v1h-1z" fill="#1c1fd6"/><path d="M63 0h1v1h-1zM9 1h1v1h-1zM58 1h1v1h-1zM40 3h1v1h-1zM88 3h1v1h-1zM30 4h1v1h-1zM42 4h1v1h-1zM63 4h1v1h-1zM42 5h1v1h-1zM37 7h1v1h-1zM1 8h1v1h-1zM29 9h1v1h-1zM86 9h1v1h-1zM2 10h1v1h-1zM6 10h1v1h-1zM97 10h1v1h-1zM7 11h1v1h-1zM51 12h1v1h-1zM58 12h1v1h-1zM31 13h1v1h-1zM56 13h1v1h-1zM71 13h1v1h-1zM87 13h1v1h-1zM7 14h1v1h-1zM39 14h1v1h-1zM41 14h1v1h-1zM47 14h1v1h-1zM81 14h1v1h-1zM2 15h1v1h-1zM9 15h2v1h-2zM22 15h1v1h-1zM26 15h1v1h-1zM40 15h1v1h-1zM43 15h1v1h-1zM56 15h1v1h-1zM89 15h1v1h-1zM14 16h1v1h-1zM35 16h1v1h-1zM57 16h1v1h-1zM79 16h1v1h-1zM28 18h1v1h-1zM42 18h1v1h-1zM48 18h1v1h-1zM73 18h1v1h-1zM3 19h1v1h-1zM16 19h1v1h-1zM27 19h1v1h-1zM89 20h1v1h-1zM95 20h1v1h-1zM25 21h1v1h-1zM45 21h1v1h-1zM66 21h1v1h-1zM6 22h1v1h-1zM9 22h1v1h-1zM15 22h1v1h-1zM59 22h1v1h-1zM54 23h1v1h-1zM4 24h1v1h-1zM48 24h1v1h-1zM51 24h1v1h-1zM39 25h1v1h-1zM6 26h1v1h-1zM56 26h1v1h-1zM58 26h1v1h-1zM68 26h1v1h-1zM32 27h1v1h-1zM55 27h1v1h-1zM64 27h1v1h-1zM1 28h1v1h-1zM19 28h1v1h-1zM23 28h1v1h-1zM66 29h1v1h-1zM91 29h1v1h-1zM97 29h1v1h-1zM61 30h1v1h-1zM82 30h1v1h-1zM7 31h1v1h-1zM44 31h1v1h-1zM47 31h1v1h-1zM1 32h1v1h-1zM3 32h1v1h-1zM8 32h1v1h-1zM45 32h1v1h-1zM87 32h1v1h-1zM3 33h1v1h-1zM79 33h1v1h-1zM35 34h1v1h-1zM42 34h1v1h-1zM90 34h1v1h-1zM3 35h1v1h-1zM5 35h1v1h-1zM37 35h1v1h-1zM76 35h1v1h-1zM3 36h1v1h-1zM7 36h1v1h-1zM25 36h1v1h-1zM40 36h1v1h-1zM11 38h1v1h-1zM38 38h1v1h-1zM4 39h1v1h-1zM67 40h1v1h-1zM98 41h1v1h-1zM7 44h1v1h-1zM0 45h1v1h-1zM56 45h1v1h-1zM67 45h1v1h-1zM65 46h1v1h-1zM100 46h1v1h-1zM5 47h1v1h-1zM34 47h1v1h-1zM45 47h1v1h-1zM78 47h1v1h-1zM98 47h1v1h-1zM0 48h1v1h-1zM3 48h1v1h-1zM7 48h1v1h-1zM6 49h1v1h-1zM14 49h1v1h-1zM82 49h1v1h-1zM10 50h1v1h-1zM88 50h1v1h-1zM95 50h1v1h-1zM1 51h1v1h-1zM46 51h1v1h-1zM54 51h1v1h-1zM77 51h1v1h-1zM43 52h1v1h-1zM64 52h1v1h-1zM89 52h1v1h-1zM2 53h1v1h-1zM51 53h1v1h-1zM73 53h1v1h-1zM1 55h1v1h-1zM66 55h1v1h-1zM0 56h1v1h-1zM5 56h1v1h-1zM15 56h1v1h-1zM15 57h1v1h-1zM67 59h1v1h-1zM86 59h1v1h-1zM22 61h2v1h-2zM53 61h1v1h-1zM82 61h1v1h-1zM1 62h1v1h-1zM7 62h2v1h-2zM51 62h1v1h-1zM69 62h1v1h-1zM90 62h1v1h-1zM6 63h1v1h-1zM94 63h1v1h-1zM4 64h1v1h-1zM8 64h1v1h-1zM3 65h1v1h-1zM66 65h1v1h-1zM0 66h1v1h-1zM6 66h1v1h-1zM39 66h1v1h-1zM44 66h1v1h-1zM78 66h1v1h-1zM100 66h1v1h-1zM2 67h1v1h-1zM34 67h1v1h-1zM92 67h1v1h-1zM62 68h1v1h-1zM2 69h1v1h-1zM10 70h1v1h-1zM47 70h1v1h-1zM3 71h1v1h-1zM57 71h1v1h-1zM92 71h1v1h-1zM6 72h1v1h-1zM99 72h1v1h-1zM80 73h1v1h-1zM0 75h1v1h-1zM82 75h1v1h-1zM4 76h1v1h-1zM6 76h2v1h-2zM30 76h1v1h-1zM82 76h1v1h-1zM1 77h1v1h-1zM5 79h1v1h-1zM14 79h1v1h-1zM44 79h1v1h-1zM63 79h1v1h-1zM15 80h2v1h-2zM3 81h1v1h-1zM6 81h1v1h-1zM8 81h1v1h-1zM67 81h1v1h-1zM23 82h1v1h-1zM31 82h1v1h-1zM73 83h1v1h-1zM77 83h1v1h-1zM92 83h1v1h-1z" fill="#282bda"/><path d="M84 1h1v1h-1zM56 2h1v1h-1zM81 4h1v1h-1zM86 4h1v1h-1zM64 5h1v1h-1zM72 5h1v1h-1zM1 6h1v1h-1zM5 6h1v1h-1zM83 6h1v1h-1zM2 7h2v1h-2zM26 7h1v1h-1zM99 7h1v1h-1zM7 8h1v1h-1zM0 9h1v1h-1zM3 10h1v1h-1zM72 10h1v1h-1zM6 11h1v1h-1zM8 11h1v1h-1zM21 11h1v1h-1zM78 11h1v1h-1zM86 11h1v1h-1zM4 12h1v1h-1zM76 12h1v1h-1zM34 13h1v1h-1zM6 14h1v1h-1zM14 14h1v1h-1zM16 14h1v1h-1zM59 14h1v1h-1zM79 14h1v1h-1zM0 15h1v1h-1zM21 15h1v1h-1zM80 15h1v1h-1zM90 15h1v1h-1zM4 16h1v1h-1zM52 16h1v1h-1zM5 17h1v1h-1zM30 17h1v1h-1zM90 17h1v1h-1zM24 18h1v1h-1zM45 18h2v1h-2zM87 18h1v1h-1zM0 19h1v1h-1zM38 19h1v1h-1zM92 19h2v1h-2zM97 19h1v1h-1zM6 20h1v1h-1zM32 20h1v1h-1zM59 20h1v1h-1zM76 20h1v1h-1zM83 20h1v1h-1zM15 21h1v1h-1zM18 21h1v1h-1zM29 21h1v1h-1zM35 21h1v1h-1zM44 21h1v1h-1zM51 21h1v1h-1zM68 21h1v1h-1zM0 22h2v1h-2zM33 22h1v1h-1zM39 22h1v1h-1zM41 22h1v1h-1zM46 22h1v1h-1zM65 22h1v1h-1zM88 22h1v1h-1zM0 23h1v1h-1zM1 24h2v1h-2zM16 24h1v1h-1zM45 24h1v1h-1zM73 24h1v1h-1zM98 24h1v1h-1zM6 25h1v1h-1zM15 25h1v1h-1zM5 26h1v1h-1zM44 26h1v1h-1zM85 26h1v1h-1zM94 26h1v1h-1zM20 27h1v1h-1zM37 27h1v1h-1zM62 27h1v1h-1zM72 27h1v1h-1zM79 27h1v1h-1zM3 28h1v1h-1zM5 28h1v1h-1zM0 29h1v1h-1zM8 29h1v1h-1zM38 29h1v1h-1zM58 29h1v1h-1zM6 30h1v1h-1zM16 30h1v1h-1zM41 30h1v1h-1zM60 30h1v1h-1zM67 30h1v1h-1zM78 30h1v1h-1zM0 31h1v1h-1zM6 31h1v1h-1zM62 31h1v1h-1zM30 32h2v1h-2zM89 32h1v1h-1zM5 33h1v1h-1zM9 33h1v1h-1zM33 33h1v1h-1zM38 33h1v1h-1zM22 34h1v1h-1zM55 34h1v1h-1zM79 34h1v1h-1zM85 34h1v1h-1zM28 35h1v1h-1zM62 35h1v1h-1zM14 36h1v1h-1zM51 36h1v1h-1zM86 36h1v1h-1zM16 37h1v1h-1zM55 37h1v1h-1zM65 37h1v1h-1zM8 38h1v1h-1zM13 38h1v1h-1zM16 38h1v1h-1zM74 39h1v1h-1zM89 39h1v1h-1zM60 40h1v1h-1zM88 40h2v1h-2zM2 41h1v1h-1zM58 41h1v1h-1zM2 42h1v1h-1zM1 43h1v1h-1zM48 43h1v1h-1zM23 44h1v1h-1zM37 44h1v1h-1zM20 45h1v1h-1zM1 46h1v1h-1zM53 46h1v1h-1zM62 46h1v1h-1zM85 46h1v1h-1zM10 47h1v1h-1zM23 47h1v1h-1zM48 47h1v1h-1zM83 47h1v1h-1zM89 47h1v1h-1zM99 47h1v1h-1zM1 48h1v1h-1zM20 48h2v1h-2zM36 49h1v1h-1zM51 49h1v1h-1zM83 49h1v1h-1zM7 50h1v1h-1zM36 50h1v1h-1zM63 50h1v1h-1zM86 50h1v1h-1zM2 51h1v1h-1zM20 51h1v1h-1zM37 51h1v1h-1zM49 51h1v1h-1zM61 51h1v1h-1zM85 51h1v1h-1zM5 52h1v1h-1zM17 52h1v1h-1zM84 52h1v1h-1zM41 53h1v1h-1zM93 57h2v1h-2zM15 58h1v1h-1zM53 58h1v1h-1zM13 59h1v1h-1zM19 59h1v1h-1zM68 59h1v1h-1zM14 61h1v1h-1zM26 61h1v1h-1zM71 61h1v1h-1zM26 62h1v1h-1zM62 62h1v1h-1zM37 63h1v1h-1zM5 64h1v1h-1zM18 65h1v1h-1zM27 65h1v1h-1zM85 65h1v1h-1zM71 66h1v1h-1zM90 66h2v1h-2zM4 67h2v1h-2zM27 67h1v1h-1zM94 67h1v1h-1zM0 68h1v1h-1zM53 68h1v1h-1zM86 68h1v1h-1zM96 68h1v1h-1zM36 69h1v1h-1zM82 69h1v1h-1zM94 69h1v1h-1zM6 70h1v1h-1zM44 70h1v1h-1zM1 71h2v1h-2zM26 71h1v1h-1zM81 71h1v1h-1zM85 71h1v1h-1zM90 71h1v1h-1zM2 72h1v1h-1zM35 72h1v1h-1zM46 72h1v1h-1zM80 72h1v1h-1zM45 74h1v1h-1zM57 74h1v1h-1zM84 74h1v1h-1zM94 74h1v1h-1zM53 75h1v1h-1zM91 75h1v1h-1zM66 77h1v1h-1zM98 77h1v1h-1zM4 78h1v1h-1zM63 78h1v1h-1zM78 78h1v1h-1zM1 80h1v1h-1zM39 80h1v1h-1zM44 81h1v1h-1zM47 81h1v1h-1zM6 82h1v1h-1zM15 82h1v1h-1zM36 82h1v1h-1zM59 82h1v1h-1zM98 82h1v1h-1zM5 83h1v1h-1zM26 83h1v1h-1zM43 83h1v1h-1zM47 83h1v1h-1zM81 83h1v1h-1z" fill="#3336df"/><path d="M17 0h1v1h-1zM36 0h1v1h-1zM70 1h1v1h-1zM7 2h1v1h-1zM45 2h1v1h-1zM13 3h1v1h-1zM72 3h1v1h-1zM81 3h1v1h-1zM83 3h1v1h-1zM85 3h1v1h-1zM38 4h1v1h-1zM54 4h1v1h-1zM69 4h1v1h-1zM22 5h1v1h-1zM31 5h1v1h-1zM40 5h1v1h-1zM44 5h1v1h-1zM59 5h1v1h-1zM0 6h1v1h-1zM21 6h1v1h-1zM44 6h1v1h-1zM47 6h1v1h-1zM79 7h1v1h-1zM2 8h1v1h-1zM38 8h1v1h-1zM76 9h1v1h-1zM31 10h1v1h-1zM42 10h1v1h-1zM63 10h1v1h-1zM80 10h1v1h-1zM3 11h1v1h-1zM10 11h1v1h-1zM38 12h1v1h-1zM55 12h1v1h-1zM68 12h1v1h-1zM94 12h1v1h-1zM13 13h1v1h-1zM15 13h1v1h-1zM21 13h1v1h-1zM81 13h1v1h-1zM4 14h1v1h-1zM11 14h1v1h-1zM67 14h1v1h-1zM86 14h1v1h-1zM95 14h1v1h-1zM24 15h2v1h-2zM82 15h1v1h-1zM33 16h1v1h-1zM65 16h1v1h-1zM85 16h1v1h-1zM29 17h1v1h-1zM42 17h1v1h-1zM20 18h1v1h-1zM62 18h1v1h-1zM1 20h1v1h-1zM9 20h1v1h-1zM49 20h1v1h-1zM58 20h1v1h-1zM98 20h1v1h-1zM30 21h1v1h-1zM73 21h1v1h-1zM57 22h1v1h-1zM1 23h1v1h-1zM6 23h1v1h-1zM43 23h2v1h-2zM39 24h1v1h-1zM77 24h1v1h-1zM62 25h1v1h-1zM0 26h1v1h-1zM75 26h1v1h-1zM77 26h1v1h-1zM8 27h1v1h-1zM34 27h1v1h-1zM66 27h1v1h-1zM68 27h2v1h-2zM82 27h1v1h-1zM97 27h1v1h-1zM4 28h1v1h-1zM41 29h1v1h-1zM50 29h1v1h-1zM53 29h1v1h-1zM79 29h1v1h-1zM3 30h1v1h-1zM33 30h1v1h-1zM44 30h1v1h-1zM73 30h1v1h-1zM92 30h1v1h-1zM1 31h1v1h-1zM18 31h1v1h-1zM5 32h1v1h-1zM7 33h1v1h-1zM10 33h1v1h-1zM87 33h1v1h-1zM6 34h1v1h-1zM8 34h1v1h-1zM46 34h1v1h-1zM51 34h1v1h-1zM64 34h1v1h-1zM68 34h1v1h-1zM1 35h1v1h-1zM6 35h1v1h-1zM33 35h1v1h-1zM46 35h2v1h-2zM55 35h1v1h-1zM61 35h1v1h-1zM73 35h1v1h-1zM84 35h2v1h-2zM96 35h1v1h-1zM4 36h1v1h-1zM66 36h1v1h-1zM79 36h1v1h-1zM92 36h1v1h-1zM1 37h1v1h-1zM3 37h2v1h-2zM10 37h1v1h-1zM92 38h1v1h-1zM15 39h1v1h-1zM56 39h1v1h-1zM81 39h1v1h-1zM1 40h1v1h-1zM7 40h1v1h-1zM32 40h1v1h-1zM64 40h1v1h-1zM3 41h1v1h-1zM25 41h1v1h-1zM49 41h1v1h-1zM52 41h1v1h-1zM71 41h1v1h-1zM30 42h1v1h-1zM63 42h1v1h-1zM0 43h1v1h-1zM7 43h1v1h-1zM99 43h1v1h-1zM20 44h1v1h-1zM40 44h1v1h-1zM67 44h1v1h-1zM85 44h1v1h-1zM15 45h1v1h-1zM24 45h1v1h-1zM7 46h1v1h-1zM29 46h1v1h-1zM38 46h2v1h-2zM4 47h1v1h-1zM49 47h1v1h-1zM74 47h1v1h-1zM94 47h1v1h-1zM14 48h1v1h-1zM16 48h1v1h-1zM49 48h1v1h-1zM1 50h1v1h-1zM14 50h1v1h-1zM29 51h1v1h-1zM55 51h1v1h-1zM68 51h1v1h-1zM80 51h1v1h-1zM95 51h1v1h-1zM4 52h1v1h-1zM31 52h1v1h-1zM54 52h1v1h-1zM3 54h1v1h-1zM7 54h1v1h-1zM16 54h1v1h-1zM7 55h1v1h-1zM17 55h1v1h-1zM49 55h1v1h-1zM11 56h1v1h-1zM60 56h1v1h-1zM0 57h1v1h-1zM26 57h1v1h-1zM96 57h2v1h-2zM14 58h1v1h-1zM23 58h1v1h-1zM35 58h1v1h-1zM80 58h1v1h-1zM90 58h1v1h-1zM29 59h1v1h-1zM41 59h1v1h-1zM94 59h1v1h-1zM4 60h1v1h-1zM2 61h1v1h-1zM21 61h1v1h-1zM79 61h1v1h-1zM45 62h1v1h-1zM81 62h1v1h-1zM1 63h1v1h-1zM7 63h2v1h-2zM32 63h1v1h-1zM62 63h1v1h-1zM99 63h1v1h-1zM14 64h2v1h-2zM46 64h1v1h-1zM56 64h1v1h-1zM15 65h1v1h-1zM44 65h1v1h-1zM49 65h1v1h-1zM86 65h1v1h-1zM100 65h1v1h-1zM1 66h1v1h-1zM3 66h1v1h-1zM84 66h1v1h-1zM93 66h1v1h-1zM1 67h1v1h-1zM26 67h1v1h-1zM84 67h1v1h-1zM11 68h1v1h-1zM90 68h1v1h-1zM43 69h1v1h-1zM83 69h1v1h-1zM88 69h1v1h-1zM34 70h1v1h-1zM46 70h1v1h-1zM64 70h1v1h-1zM68 70h1v1h-1zM88 70h1v1h-1zM16 71h1v1h-1zM28 71h1v1h-1zM7 72h1v1h-1zM98 72h1v1h-1zM100 72h1v1h-1zM3 73h1v1h-1zM16 73h1v1h-1zM60 73h1v1h-1zM79 73h1v1h-1zM1 74h1v1h-1zM15 74h1v1h-1zM24 74h1v1h-1zM61 74h1v1h-1zM78 74h1v1h-1zM80 74h1v1h-1zM5 75h1v1h-1zM61 75h1v1h-1zM80 75h1v1h-1zM97 75h1v1h-1zM24 76h1v1h-1zM52 76h1v1h-1zM26 77h1v1h-1zM40 77h1v1h-1zM83 77h1v1h-1zM14 78h1v1h-1zM24 78h1v1h-1zM34 78h1v1h-1zM50 78h1v1h-1zM83 78h1v1h-1zM98 78h1v1h-1zM1 79h1v1h-1zM56 80h1v1h-1zM74 80h2v1h-2zM9 81h1v1h-1zM40 81h1v1h-1zM18 82h1v1h-1zM62 82h1v1h-1zM0 83h1v1h-1zM2 83h1v1h-1zM16 83h1v1h-1zM20 83h1v1h-1zM64 83h1v1h-1zM86 83h1v1h-1zM91 83h1v1h-1z" fill="#3e42e3"/><path d="M39 0h1v1h-1zM60 0h1v1h-1zM75 0h1v1h-1zM75 2h1v1h-1zM84 2h1v1h-1zM64 4h1v1h-1zM49 5h1v1h-1zM79 5h1v1h-1zM81 5h1v1h-1zM87 5h1v1h-1zM45 6h1v1h-1zM81 6h1v1h-1zM7 7h1v1h-1zM7 9h1v1h-1zM51 9h1v1h-1zM53 9h1v1h-1zM7 10h1v1h-1zM20 10h1v1h-1zM2 11h1v1h-1zM20 11h1v1h-1zM36 11h1v1h-1zM71 11h1v1h-1zM41 12h1v1h-1zM64 12h1v1h-1zM12 13h1v1h-1zM33 13h1v1h-1zM91 13h1v1h-1zM95 13h1v1h-1zM100 13h1v1h-1zM2 14h1v1h-1zM20 14h1v1h-1zM36 14h1v1h-1zM74 14h1v1h-1zM100 14h1v1h-1zM20 15h1v1h-1zM32 15h1v1h-1zM11 16h1v1h-1zM13 16h1v1h-1zM49 16h1v1h-1zM53 16h1v1h-1zM87 16h1v1h-1zM97 16h1v1h-1zM0 17h1v1h-1zM46 17h2v1h-2zM74 17h1v1h-1zM98 17h1v1h-1zM56 18h1v1h-1zM69 18h1v1h-1zM7 19h1v1h-1zM26 19h1v1h-1zM49 19h1v1h-1zM99 19h1v1h-1zM7 20h1v1h-1zM18 20h1v1h-1zM29 20h1v1h-1zM61 20h1v1h-1zM88 20h1v1h-1zM92 20h2v1h-2zM6 21h1v1h-1zM14 21h1v1h-1zM43 21h1v1h-1zM50 21h1v1h-1zM90 21h1v1h-1zM2 22h1v1h-1zM4 22h1v1h-1zM21 22h1v1h-1zM43 22h1v1h-1zM49 22h2v1h-2zM60 22h2v1h-2zM69 22h1v1h-1zM94 22h1v1h-1zM2 23h1v1h-1zM10 23h1v1h-1zM40 23h1v1h-1zM85 23h1v1h-1zM0 24h1v1h-1zM26 24h1v1h-1zM63 24h1v1h-1zM83 24h1v1h-1zM5 25h1v1h-1zM13 25h1v1h-1zM66 25h1v1h-1zM15 26h1v1h-1zM20 26h1v1h-1zM65 26h1v1h-1zM6 27h2v1h-2zM24 27h1v1h-1zM38 27h2v1h-2zM45 27h1v1h-1zM47 27h1v1h-1zM73 27h1v1h-1zM76 27h1v1h-1zM0 28h1v1h-1zM12 28h2v1h-2zM42 28h1v1h-1zM5 29h1v1h-1zM51 29h1v1h-1zM72 29h1v1h-1zM0 30h1v1h-1zM2 30h1v1h-1zM14 30h1v1h-1zM38 30h1v1h-1zM45 30h1v1h-1zM49 30h1v1h-1zM96 30h1v1h-1zM99 30h1v1h-1zM60 31h1v1h-1zM73 31h1v1h-1zM0 32h1v1h-1zM61 32h1v1h-1zM12 33h1v1h-1zM62 33h1v1h-1zM84 33h1v1h-1zM98 33h2v1h-2zM0 34h1v1h-1zM9 34h1v1h-1zM58 34h1v1h-1zM82 34h1v1h-1zM84 34h1v1h-1zM54 35h1v1h-1zM94 35h1v1h-1zM99 35h1v1h-1zM21 37h1v1h-1zM50 37h1v1h-1zM70 37h1v1h-1zM3 38h1v1h-1zM62 38h1v1h-1zM3 39h1v1h-1zM11 39h1v1h-1zM36 39h1v1h-1zM4 40h1v1h-1zM9 40h1v1h-1zM42 40h1v1h-1zM49 40h1v1h-1zM68 40h1v1h-1zM31 41h1v1h-1zM1 42h1v1h-1zM4 42h1v1h-1zM6 42h1v1h-1zM16 42h1v1h-1zM21 42h1v1h-1zM90 42h1v1h-1zM36 43h1v1h-1zM94 43h1v1h-1zM6 44h1v1h-1zM50 44h1v1h-1zM80 44h1v1h-1zM100 44h1v1h-1zM46 45h1v1h-1zM3 46h1v1h-1zM32 46h1v1h-1zM43 46h1v1h-1zM52 46h1v1h-1zM75 46h1v1h-1zM83 46h1v1h-1zM17 47h1v1h-1zM27 47h1v1h-1zM46 47h1v1h-1zM57 47h1v1h-1zM68 47h1v1h-1zM4 48h1v1h-1zM10 48h1v1h-1zM52 48h2v1h-2zM82 48h1v1h-1zM89 48h1v1h-1zM93 48h1v1h-1zM20 49h1v1h-1zM93 49h1v1h-1zM4 50h1v1h-1zM6 50h1v1h-1zM80 50h1v1h-1zM99 50h1v1h-1zM31 51h1v1h-1zM67 51h1v1h-1zM93 51h1v1h-1zM81 52h1v1h-1zM26 53h1v1h-1zM46 53h1v1h-1zM53 53h1v1h-1zM21 54h1v1h-1zM62 54h1v1h-1zM65 54h1v1h-1zM81 54h1v1h-1zM0 55h1v1h-1zM6 56h1v1h-1zM94 56h1v1h-1zM7 57h1v1h-1zM13 57h1v1h-1zM18 57h1v1h-1zM30 57h1v1h-1zM51 57h1v1h-1zM69 57h1v1h-1zM84 57h1v1h-1zM92 57h1v1h-1zM0 58h1v1h-1zM58 58h1v1h-1zM99 58h1v1h-1zM3 60h1v1h-1zM26 60h1v1h-1zM31 60h1v1h-1zM37 61h1v1h-1zM48 61h2v1h-2zM6 62h1v1h-1zM54 62h1v1h-1zM5 63h1v1h-1zM3 64h1v1h-1zM6 64h1v1h-1zM10 64h1v1h-1zM21 64h1v1h-1zM81 64h1v1h-1zM93 64h1v1h-1zM7 65h1v1h-1zM33 65h1v1h-1zM39 65h1v1h-1zM99 65h1v1h-1zM28 66h1v1h-1zM33 66h1v1h-1zM79 66h1v1h-1zM13 67h1v1h-1zM78 67h1v1h-1zM5 69h1v1h-1zM18 69h1v1h-1zM23 69h1v1h-1zM17 70h1v1h-1zM25 71h1v1h-1zM75 71h1v1h-1zM97 71h1v1h-1zM53 72h1v1h-1zM82 72h1v1h-1zM2 73h1v1h-1zM4 73h1v1h-1zM0 74h1v1h-1zM12 74h1v1h-1zM93 74h1v1h-1zM2 75h1v1h-1zM13 75h1v1h-1zM65 75h1v1h-1zM78 75h1v1h-1zM90 75h1v1h-1zM21 76h1v1h-1zM60 76h1v1h-1zM93 76h1v1h-1zM95 76h1v1h-1zM49 77h1v1h-1zM56 77h1v1h-1zM67 77h1v1h-1zM13 78h1v1h-1zM43 78h1v1h-1zM85 78h1v1h-1zM92 78h1v1h-1zM15 79h1v1h-1zM71 79h1v1h-1zM85 79h1v1h-1zM93 79h1v1h-1zM10 80h1v1h-1zM18 80h1v1h-1zM64 80h2v1h-2zM72 80h1v1h-1zM15 81h1v1h-1zM48 81h1v1h-1zM51 82h1v1h-1zM1 83h1v1h-1zM7 83h1v1h-1zM99 83h1v1h-1z" fill="#494ee8"/><path d="M74 0h1v1h-1zM17 1h1v1h-1zM0 2h1v1h-1zM39 2h1v1h-1zM60 2h1v1h-1zM17 3h2v1h-2zM35 3h1v1h-1zM49 3h1v1h-1zM65 3h1v1h-1zM62 4h1v1h-1zM74 4h1v1h-1zM11 5h1v1h-1zM45 5h1v1h-1zM85 5h1v1h-1zM2 6h1v1h-1zM24 6h1v1h-1zM63 6h1v1h-1zM90 6h1v1h-1zM93 6h1v1h-1zM98 6h1v1h-1zM4 8h1v1h-1zM35 8h1v1h-1zM92 8h1v1h-1zM99 8h1v1h-1zM4 9h1v1h-1zM6 9h1v1h-1zM18 9h1v1h-1zM98 9h1v1h-1zM4 10h1v1h-1zM18 10h1v1h-1zM26 10h1v1h-1zM61 10h1v1h-1zM77 10h1v1h-1zM82 10h1v1h-1zM100 10h1v1h-1zM0 11h1v1h-1zM17 11h1v1h-1zM51 11h1v1h-1zM65 11h1v1h-1zM67 11h1v1h-1zM92 11h1v1h-1zM99 11h1v1h-1zM1 12h1v1h-1zM6 12h1v1h-1zM14 12h1v1h-1zM40 12h1v1h-1zM63 12h1v1h-1zM5 13h1v1h-1zM22 13h1v1h-1zM29 13h1v1h-1zM35 13h1v1h-1zM73 13h1v1h-1zM73 14h1v1h-1zM77 14h1v1h-1zM98 14h1v1h-1zM6 15h1v1h-1zM34 15h1v1h-1zM39 15h1v1h-1zM44 15h1v1h-1zM58 15h1v1h-1zM65 15h1v1h-1zM67 15h1v1h-1zM18 16h1v1h-1zM29 16h1v1h-1zM58 16h1v1h-1zM64 16h1v1h-1zM70 16h1v1h-1zM74 16h1v1h-1zM78 16h1v1h-1zM96 16h1v1h-1zM1 17h1v1h-1zM80 17h1v1h-1zM4 18h1v1h-1zM52 18h1v1h-1zM67 18h1v1h-1zM100 18h1v1h-1zM9 19h1v1h-1zM94 19h1v1h-1zM100 19h1v1h-1zM0 20h1v1h-1zM38 20h1v1h-1zM53 20h1v1h-1zM55 20h1v1h-1zM0 21h1v1h-1zM37 21h1v1h-1zM75 21h1v1h-1zM86 21h2v1h-2zM98 21h2v1h-2zM5 22h1v1h-1zM22 22h1v1h-1zM28 22h1v1h-1zM40 22h1v1h-1zM92 22h1v1h-1zM5 23h1v1h-1zM47 23h1v1h-1zM59 23h1v1h-1zM63 23h1v1h-1zM6 24h1v1h-1zM20 24h1v1h-1zM58 24h1v1h-1zM8 25h1v1h-1zM68 25h1v1h-1zM92 25h1v1h-1zM1 26h1v1h-1zM22 26h1v1h-1zM43 26h1v1h-1zM59 26h1v1h-1zM4 27h1v1h-1zM13 27h1v1h-1zM21 27h1v1h-1zM35 27h1v1h-1zM48 27h2v1h-2zM92 27h1v1h-1zM100 27h1v1h-1zM51 28h1v1h-1zM75 28h1v1h-1zM3 29h1v1h-1zM31 29h1v1h-1zM64 29h1v1h-1zM88 29h1v1h-1zM1 30h1v1h-1zM10 30h1v1h-1zM15 30h1v1h-1zM13 31h1v1h-1zM69 32h1v1h-1zM24 33h1v1h-1zM50 33h1v1h-1zM58 33h1v1h-1zM73 33h1v1h-1zM77 33h1v1h-1zM89 33h1v1h-1zM5 34h1v1h-1zM63 34h1v1h-1zM81 34h1v1h-1zM98 34h1v1h-1zM100 34h1v1h-1zM15 35h1v1h-1zM32 35h1v1h-1zM41 35h2v1h-2zM11 36h1v1h-1zM48 36h1v1h-1zM73 36h1v1h-1zM57 37h1v1h-1zM59 37h1v1h-1zM62 37h1v1h-1zM94 37h1v1h-1zM1 38h1v1h-1zM71 38h1v1h-1zM98 38h1v1h-1zM35 39h1v1h-1zM43 39h1v1h-1zM68 39h1v1h-1zM73 39h1v1h-1zM2 40h1v1h-1zM59 40h1v1h-1zM77 41h1v1h-1zM81 41h1v1h-1zM96 41h1v1h-1zM0 42h1v1h-1zM22 42h1v1h-1zM2 43h1v1h-1zM1 44h1v1h-1zM15 44h1v1h-1zM64 44h1v1h-1zM84 44h1v1h-1zM94 44h1v1h-1zM6 45h1v1h-1zM27 45h1v1h-1zM29 45h1v1h-1zM33 45h1v1h-1zM44 45h1v1h-1zM77 45h1v1h-1zM2 46h1v1h-1zM4 46h1v1h-1zM25 46h1v1h-1zM55 46h1v1h-1zM73 46h1v1h-1zM78 46h1v1h-1zM14 47h1v1h-1zM72 47h2v1h-2zM82 47h1v1h-1zM100 47h1v1h-1zM5 48h1v1h-1zM15 48h1v1h-1zM74 48h1v1h-1zM3 49h1v1h-1zM13 49h1v1h-1zM16 49h1v1h-1zM37 49h1v1h-1zM95 49h1v1h-1zM21 50h1v1h-1zM48 50h1v1h-1zM81 50h1v1h-1zM97 50h1v1h-1zM4 51h1v1h-1zM11 51h1v1h-1zM22 51h1v1h-1zM41 51h1v1h-1zM37 52h1v1h-1zM65 52h1v1h-1zM87 52h1v1h-1zM6 53h1v1h-1zM13 53h1v1h-1zM47 53h2v1h-2zM92 53h1v1h-1zM64 54h1v1h-1zM90 54h1v1h-1zM97 54h1v1h-1zM37 55h1v1h-1zM80 55h1v1h-1zM46 56h1v1h-1zM55 56h1v1h-1zM2 57h1v1h-1zM4 57h1v1h-1zM11 57h1v1h-1zM38 58h1v1h-1zM41 58h1v1h-1zM65 58h1v1h-1zM67 58h1v1h-1zM72 58h1v1h-1zM7 59h1v1h-1zM21 59h1v1h-1zM77 59h1v1h-1zM90 59h1v1h-1zM0 60h1v1h-1zM2 60h1v1h-1zM58 60h1v1h-1zM11 61h1v1h-1zM36 61h1v1h-1zM90 61h1v1h-1zM4 62h2v1h-2zM46 62h1v1h-1zM68 62h1v1h-1zM84 62h1v1h-1zM100 62h1v1h-1zM26 63h1v1h-1zM65 63h1v1h-1zM75 63h1v1h-1zM79 63h1v1h-1zM0 64h2v1h-2zM11 64h1v1h-1zM70 64h1v1h-1zM87 64h1v1h-1zM19 65h1v1h-1zM35 65h1v1h-1zM67 65h1v1h-1zM80 65h1v1h-1zM4 66h1v1h-1zM74 66h1v1h-1zM3 67h1v1h-1zM15 67h1v1h-1zM57 67h1v1h-1zM85 67h1v1h-1zM30 68h1v1h-1zM39 68h1v1h-1zM1 69h1v1h-1zM6 69h1v1h-1zM22 69h1v1h-1zM26 69h1v1h-1zM52 69h1v1h-1zM67 69h1v1h-1zM0 70h1v1h-1zM49 70h1v1h-1zM54 70h1v1h-1zM4 71h1v1h-1zM12 71h1v1h-1zM56 71h1v1h-1zM25 72h1v1h-1zM30 72h1v1h-1zM48 72h1v1h-1zM50 72h1v1h-1zM5 73h1v1h-1zM40 73h1v1h-1zM96 73h1v1h-1zM14 74h1v1h-1zM16 74h1v1h-1zM32 74h1v1h-1zM58 74h1v1h-1zM24 75h1v1h-1zM32 75h1v1h-1zM77 75h1v1h-1zM95 75h1v1h-1zM3 76h1v1h-1zM53 76h1v1h-1zM5 77h1v1h-1zM12 77h1v1h-1zM34 77h1v1h-1zM39 77h1v1h-1zM58 77h1v1h-1zM44 78h1v1h-1zM62 78h1v1h-1zM66 78h1v1h-1zM79 78h1v1h-1zM82 78h1v1h-1zM34 79h1v1h-1zM92 79h1v1h-1zM3 80h1v1h-1zM19 80h1v1h-1zM32 80h1v1h-1zM7 81h1v1h-1zM13 81h1v1h-1zM80 81h1v1h-1zM0 82h1v1h-1zM16 82h1v1h-1zM34 82h1v1h-1zM76 83h1v1h-1z" fill="#545aec"/><path d="M3 0h1v1h-1zM29 0h2v1h-2zM48 0h1v1h-1zM61 0h1v1h-1zM1 1h1v1h-1zM5 1h1v1h-1zM3 2h1v1h-1zM49 2h1v1h-1zM68 2h1v1h-1zM72 2h1v1h-1zM1 3h1v1h-1zM7 3h1v1h-1zM14 3h1v1h-1zM78 3h1v1h-1zM89 3h1v1h-1zM27 4h2v1h-2zM52 4h1v1h-1zM68 5h1v1h-1zM86 5h1v1h-1zM9 6h1v1h-1zM18 6h1v1h-1zM42 6h1v1h-1zM67 6h1v1h-1zM72 6h1v1h-1zM4 7h1v1h-1zM59 7h1v1h-1zM62 7h1v1h-1zM65 7h1v1h-1zM77 7h1v1h-1zM82 7h1v1h-1zM88 7h1v1h-1zM92 7h1v1h-1zM3 8h1v1h-1zM16 8h1v1h-1zM32 8h1v1h-1zM53 8h1v1h-1zM81 8h1v1h-1zM24 9h1v1h-1zM59 9h1v1h-1zM100 9h1v1h-1zM11 10h1v1h-1zM17 10h1v1h-1zM22 10h1v1h-1zM28 10h1v1h-1zM88 11h1v1h-1zM93 11h1v1h-1zM3 12h1v1h-1zM25 12h1v1h-1zM32 12h1v1h-1zM0 13h1v1h-1zM6 13h1v1h-1zM10 13h1v1h-1zM30 13h1v1h-1zM65 13h1v1h-1zM67 13h1v1h-1zM97 13h1v1h-1zM51 14h1v1h-1zM62 14h1v1h-1zM87 14h1v1h-1zM89 14h1v1h-1zM30 15h2v1h-2zM68 15h1v1h-1zM85 15h1v1h-1zM100 15h1v1h-1zM1 16h1v1h-1zM6 16h1v1h-1zM25 16h1v1h-1zM62 16h1v1h-1zM76 16h1v1h-1zM98 16h1v1h-1zM14 18h1v1h-1zM34 18h1v1h-1zM43 18h1v1h-1zM79 18h1v1h-1zM5 19h1v1h-1zM42 19h1v1h-1zM4 20h2v1h-2zM8 20h1v1h-1zM13 20h1v1h-1zM26 20h1v1h-1zM42 20h1v1h-1zM86 20h1v1h-1zM91 20h1v1h-1zM97 20h1v1h-1zM7 21h1v1h-1zM16 21h1v1h-1zM34 21h1v1h-1zM60 21h1v1h-1zM67 21h1v1h-1zM74 21h1v1h-1zM32 22h1v1h-1zM47 22h1v1h-1zM73 22h1v1h-1zM95 22h2v1h-2zM4 23h1v1h-1zM12 23h1v1h-1zM22 23h1v1h-1zM32 23h1v1h-1zM71 23h1v1h-1zM79 23h1v1h-1zM82 23h1v1h-1zM46 24h1v1h-1zM70 24h1v1h-1zM80 24h1v1h-1zM16 25h1v1h-1zM20 25h1v1h-1zM27 25h1v1h-1zM40 25h1v1h-1zM42 25h1v1h-1zM17 26h1v1h-1zM33 26h1v1h-1zM71 26h1v1h-1zM81 26h1v1h-1zM87 26h1v1h-1zM5 27h1v1h-1zM19 27h1v1h-1zM52 27h1v1h-1zM61 27h1v1h-1zM70 27h1v1h-1zM60 28h1v1h-1zM85 28h1v1h-1zM91 28h1v1h-1zM2 29h1v1h-1zM23 29h1v1h-1zM52 29h1v1h-1zM84 29h1v1h-1zM17 30h1v1h-1zM28 30h1v1h-1zM48 30h1v1h-1zM64 30h1v1h-1zM77 30h1v1h-1zM81 30h1v1h-1zM4 31h1v1h-1zM16 33h1v1h-1zM54 33h1v1h-1zM100 33h1v1h-1zM53 34h1v1h-1zM74 34h1v1h-1zM0 35h1v1h-1zM36 35h1v1h-1zM39 35h1v1h-1zM66 35h2v1h-2zM18 36h1v1h-1zM47 36h1v1h-1zM49 36h1v1h-1zM5 37h1v1h-1zM4 38h1v1h-1zM6 38h1v1h-1zM41 38h1v1h-1zM44 38h1v1h-1zM53 38h1v1h-1zM65 38h1v1h-1zM82 38h1v1h-1zM2 39h1v1h-1zM8 39h1v1h-1zM34 39h1v1h-1zM38 39h1v1h-1zM58 39h1v1h-1zM60 39h1v1h-1zM67 39h1v1h-1zM74 40h1v1h-1zM1 41h1v1h-1zM6 41h1v1h-1zM40 41h1v1h-1zM65 41h1v1h-1zM68 41h1v1h-1zM97 41h1v1h-1zM15 42h1v1h-1zM68 42h1v1h-1zM89 42h1v1h-1zM15 43h1v1h-1zM31 44h1v1h-1zM49 44h1v1h-1zM63 44h1v1h-1zM95 44h1v1h-1zM2 45h1v1h-1zM59 45h1v1h-1zM85 45h1v1h-1zM21 46h1v1h-1zM42 46h1v1h-1zM46 46h1v1h-1zM79 46h1v1h-1zM15 47h2v1h-2zM32 47h1v1h-1zM42 47h1v1h-1zM75 47h1v1h-1zM39 48h2v1h-2zM66 48h1v1h-1zM4 49h2v1h-2zM22 49h1v1h-1zM61 49h1v1h-1zM90 49h1v1h-1zM3 50h1v1h-1zM11 50h1v1h-1zM30 50h1v1h-1zM78 50h1v1h-1zM85 50h1v1h-1zM96 50h1v1h-1zM5 51h1v1h-1zM26 51h1v1h-1zM34 51h1v1h-1zM40 51h1v1h-1zM69 51h2v1h-2zM95 52h2v1h-2zM0 53h1v1h-1zM7 53h1v1h-1zM12 53h1v1h-1zM19 53h1v1h-1zM37 53h1v1h-1zM14 54h1v1h-1zM41 54h1v1h-1zM42 55h1v1h-1zM48 55h1v1h-1zM59 55h2v1h-2zM62 55h1v1h-1zM4 56h1v1h-1zM7 56h1v1h-1zM18 56h1v1h-1zM56 56h1v1h-1zM3 57h1v1h-1zM32 57h1v1h-1zM24 59h1v1h-1zM27 59h1v1h-1zM60 59h1v1h-1zM84 59h2v1h-2zM30 60h1v1h-1zM4 61h1v1h-1zM6 61h1v1h-1zM29 61h2v1h-2zM67 61h1v1h-1zM69 61h1v1h-1zM72 61h1v1h-1zM80 61h1v1h-1zM100 61h1v1h-1zM15 62h1v1h-1zM20 62h1v1h-1zM24 62h1v1h-1zM11 63h1v1h-1zM50 63h1v1h-1zM92 63h1v1h-1zM9 64h1v1h-1zM33 64h1v1h-1zM51 64h1v1h-1zM68 64h1v1h-1zM1 65h1v1h-1zM29 65h1v1h-1zM77 65h2v1h-2zM18 66h1v1h-1zM63 66h1v1h-1zM76 66h1v1h-1zM80 66h2v1h-2zM99 66h1v1h-1zM23 67h1v1h-1zM37 67h1v1h-1zM40 67h1v1h-1zM2 68h1v1h-1zM77 68h1v1h-1zM0 69h1v1h-1zM4 69h1v1h-1zM25 69h1v1h-1zM80 69h1v1h-1zM5 70h1v1h-1zM39 70h1v1h-1zM81 70h1v1h-1zM0 71h1v1h-1zM6 71h1v1h-1zM60 71h1v1h-1zM68 71h1v1h-1zM41 72h1v1h-1zM90 72h1v1h-1zM6 73h1v1h-1zM12 73h1v1h-1zM53 73h1v1h-1zM93 73h1v1h-1zM26 74h1v1h-1zM44 74h1v1h-1zM74 74h1v1h-1zM92 74h1v1h-1zM20 75h1v1h-1zM28 75h2v1h-2zM36 75h1v1h-1zM52 75h1v1h-1zM59 75h1v1h-1zM64 75h1v1h-1zM12 76h1v1h-1zM42 76h1v1h-1zM67 76h1v1h-1zM77 76h1v1h-1zM9 77h1v1h-1zM33 77h1v1h-1zM51 77h1v1h-1zM68 77h1v1h-1zM76 77h1v1h-1zM91 77h1v1h-1zM5 78h1v1h-1zM89 78h1v1h-1zM4 79h1v1h-1zM41 79h1v1h-1zM46 79h1v1h-1zM61 79h1v1h-1zM8 80h1v1h-1zM42 80h1v1h-1zM44 80h1v1h-1zM67 80h1v1h-1zM16 81h1v1h-1zM1 82h1v1h-1zM7 82h1v1h-1zM10 82h1v1h-1zM27 82h1v1h-1zM29 82h1v1h-1zM45 82h1v1h-1zM3 83h1v1h-1zM37 83h1v1h-1zM82 83h1v1h-1z" fill="#646aee"/><path d="M1 0h2v1h-2zM4 0h1v1h-1zM18 0h1v1h-1zM25 0h1v1h-1zM37 0h1v1h-1zM92 0h1v1h-1zM2 1h1v1h-1zM34 1h1v1h-1zM51 1h1v1h-1zM65 1h1v1h-1zM82 1h1v1h-1zM26 2h1v1h-1zM71 2h1v1h-1zM79 2h1v1h-1zM82 2h1v1h-1zM94 2h1v1h-1zM100 2h1v1h-1zM36 3h1v1h-1zM64 3h1v1h-1zM1 4h1v1h-1zM5 4h1v1h-1zM33 4h1v1h-1zM43 4h1v1h-1zM53 4h1v1h-1zM78 4h1v1h-1zM1 5h1v1h-1zM4 5h1v1h-1zM6 5h1v1h-1zM60 5h1v1h-1zM88 5h1v1h-1zM96 5h1v1h-1zM14 6h1v1h-1zM16 6h1v1h-1zM30 6h1v1h-1zM53 6h1v1h-1zM57 6h1v1h-1zM17 7h1v1h-1zM20 7h1v1h-1zM24 7h1v1h-1zM34 7h1v1h-1zM87 7h1v1h-1zM89 7h1v1h-1zM9 8h1v1h-1zM17 8h1v1h-1zM73 8h1v1h-1zM3 9h1v1h-1zM47 9h1v1h-1zM63 9h1v1h-1zM79 9h1v1h-1zM92 9h1v1h-1zM25 10h1v1h-1zM47 10h2v1h-2zM62 10h1v1h-1zM64 10h1v1h-1zM73 10h1v1h-1zM94 10h1v1h-1zM61 11h1v1h-1zM97 11h1v1h-1zM39 12h1v1h-1zM50 12h1v1h-1zM81 12h1v1h-1zM92 12h1v1h-1zM99 12h1v1h-1zM48 13h1v1h-1zM78 13h1v1h-1zM13 14h1v1h-1zM28 14h1v1h-1zM92 14h1v1h-1zM88 15h1v1h-1zM19 16h2v1h-2zM38 16h1v1h-1zM40 16h1v1h-1zM50 16h1v1h-1zM99 16h1v1h-1zM81 17h1v1h-1zM84 17h1v1h-1zM33 18h1v1h-1zM59 18h1v1h-1zM64 18h1v1h-1zM99 18h1v1h-1zM62 19h1v1h-1zM66 19h2v1h-2zM69 19h1v1h-1zM81 19h1v1h-1zM2 20h1v1h-1zM11 20h1v1h-1zM44 20h1v1h-1zM50 20h1v1h-1zM84 20h1v1h-1zM3 21h1v1h-1zM22 21h1v1h-1zM40 21h1v1h-1zM56 21h1v1h-1zM8 22h1v1h-1zM11 22h1v1h-1zM42 22h1v1h-1zM77 22h1v1h-1zM87 22h1v1h-1zM91 22h1v1h-1zM67 23h1v1h-1zM7 24h1v1h-1zM11 24h1v1h-1zM14 24h1v1h-1zM81 24h1v1h-1zM84 24h1v1h-1zM97 24h1v1h-1zM11 25h1v1h-1zM73 25h1v1h-1zM50 26h1v1h-1zM57 26h1v1h-1zM98 26h1v1h-1zM16 27h1v1h-1zM42 27h1v1h-1zM44 27h1v1h-1zM50 27h1v1h-1zM80 27h1v1h-1zM84 27h1v1h-1zM98 27h1v1h-1zM7 28h1v1h-1zM26 28h1v1h-1zM54 28h1v1h-1zM57 28h1v1h-1zM7 29h1v1h-1zM65 29h1v1h-1zM70 29h2v1h-2zM55 30h1v1h-1zM12 31h1v1h-1zM25 31h1v1h-1zM61 31h1v1h-1zM97 31h1v1h-1zM19 32h2v1h-2zM26 32h1v1h-1zM43 32h1v1h-1zM47 32h1v1h-1zM97 32h1v1h-1zM18 33h1v1h-1zM57 33h1v1h-1zM66 33h1v1h-1zM85 33h1v1h-1zM26 34h1v1h-1zM14 35h1v1h-1zM27 35h1v1h-1zM34 35h1v1h-1zM44 35h1v1h-1zM64 35h1v1h-1zM75 35h1v1h-1zM83 35h1v1h-1zM0 36h1v1h-1zM16 36h1v1h-1zM26 36h1v1h-1zM61 36h1v1h-1zM80 36h1v1h-1zM84 36h1v1h-1zM24 37h1v1h-1zM37 37h1v1h-1zM61 37h1v1h-1zM73 37h1v1h-1zM96 37h1v1h-1zM100 37h1v1h-1zM52 38h1v1h-1zM57 38h1v1h-1zM0 39h1v1h-1zM62 39h1v1h-1zM64 39h1v1h-1zM13 40h1v1h-1zM25 40h1v1h-1zM46 40h1v1h-1zM83 40h1v1h-1zM18 41h1v1h-1zM53 41h2v1h-2zM84 41h1v1h-1zM5 42h1v1h-1zM7 42h1v1h-1zM9 42h1v1h-1zM34 42h1v1h-1zM64 42h1v1h-1zM78 42h1v1h-1zM18 43h1v1h-1zM28 43h1v1h-1zM49 43h1v1h-1zM68 43h1v1h-1zM85 43h1v1h-1zM4 44h1v1h-1zM48 44h1v1h-1zM53 44h1v1h-1zM56 44h1v1h-1zM62 44h1v1h-1zM89 44h1v1h-1zM92 44h1v1h-1zM16 45h1v1h-1zM18 45h1v1h-1zM83 45h1v1h-1zM19 46h1v1h-1zM27 46h1v1h-1zM31 46h1v1h-1zM2 47h1v1h-1zM41 47h1v1h-1zM52 47h1v1h-1zM85 47h1v1h-1zM92 47h1v1h-1zM73 48h1v1h-1zM25 49h1v1h-1zM31 49h1v1h-1zM73 49h1v1h-1zM80 49h1v1h-1zM9 50h1v1h-1zM31 50h1v1h-1zM57 50h1v1h-1zM62 50h1v1h-1zM65 50h1v1h-1zM76 50h1v1h-1zM83 50h1v1h-1zM7 51h1v1h-1zM14 51h1v1h-1zM24 51h1v1h-1zM33 51h1v1h-1zM39 51h1v1h-1zM59 51h1v1h-1zM81 51h1v1h-1zM89 51h1v1h-1zM1 52h1v1h-1zM9 52h1v1h-1zM26 52h1v1h-1zM49 53h1v1h-1zM66 53h1v1h-1zM80 53h1v1h-1zM0 54h1v1h-1zM29 54h1v1h-1zM6 55h1v1h-1zM13 55h1v1h-1zM15 55h1v1h-1zM55 55h1v1h-1zM91 55h1v1h-1zM62 56h1v1h-1zM65 56h1v1h-1zM67 56h1v1h-1zM82 56h1v1h-1zM1 57h1v1h-1zM24 57h1v1h-1zM57 57h1v1h-1zM74 57h1v1h-1zM98 57h1v1h-1zM100 57h1v1h-1zM22 58h1v1h-1zM49 59h1v1h-1zM75 59h1v1h-1zM96 59h1v1h-1zM1 60h1v1h-1zM34 60h1v1h-1zM70 60h1v1h-1zM93 60h1v1h-1zM18 61h1v1h-1zM47 61h1v1h-1zM50 61h1v1h-1zM64 61h1v1h-1zM86 61h1v1h-1zM17 62h1v1h-1zM29 62h1v1h-1zM41 62h1v1h-1zM55 62h1v1h-1zM59 62h2v1h-2zM82 62h1v1h-1zM92 62h1v1h-1zM98 62h1v1h-1zM0 63h1v1h-1zM100 63h1v1h-1zM23 64h1v1h-1zM49 64h1v1h-1zM73 64h1v1h-1zM82 64h1v1h-1zM0 65h1v1h-1zM4 65h1v1h-1zM31 66h1v1h-1zM35 66h1v1h-1zM12 67h1v1h-1zM28 67h1v1h-1zM53 67h1v1h-1zM80 67h1v1h-1zM4 68h1v1h-1zM15 68h1v1h-1zM48 68h1v1h-1zM66 68h1v1h-1zM82 68h1v1h-1zM8 69h1v1h-1zM17 69h1v1h-1zM35 69h1v1h-1zM68 69h1v1h-1zM73 69h1v1h-1zM2 70h1v1h-1zM7 70h1v1h-1zM14 70h1v1h-1zM20 70h1v1h-1zM51 70h1v1h-1zM55 70h1v1h-1zM86 70h1v1h-1zM27 71h1v1h-1zM48 71h1v1h-1zM61 71h1v1h-1zM94 71h1v1h-1zM96 71h1v1h-1zM10 72h1v1h-1zM33 72h1v1h-1zM47 72h1v1h-1zM13 73h1v1h-1zM72 73h1v1h-1zM29 74h1v1h-1zM60 74h1v1h-1zM88 74h1v1h-1zM98 74h1v1h-1zM1 75h1v1h-1zM3 75h1v1h-1zM21 75h1v1h-1zM13 76h1v1h-1zM20 76h1v1h-1zM23 76h1v1h-1zM54 76h1v1h-1zM72 76h1v1h-1zM17 77h1v1h-1zM25 77h1v1h-1zM28 77h1v1h-1zM46 77h1v1h-1zM77 77h1v1h-1zM84 77h1v1h-1zM48 78h1v1h-1zM52 78h1v1h-1zM59 78h1v1h-1zM65 78h1v1h-1zM49 79h1v1h-1zM56 79h1v1h-1zM14 80h1v1h-1zM26 80h1v1h-1zM49 80h1v1h-1zM81 80h1v1h-1zM91 80h1v1h-1zM21 81h1v1h-1zM37 81h1v1h-1zM57 81h1v1h-1zM60 81h1v1h-1zM92 81h1v1h-1zM2 82h1v1h-1zM8 82h1v1h-1zM26 82h1v1h-1zM41 82h1v1h-1zM38 83h1v1h-1zM51 83h1v1h-1z" fill="#7579ef"/><path d="M22 0h1v1h-1zM31 0h1v1h-1zM43 0h1v1h-1zM46 0h1v1h-1zM95 0h1v1h-1zM4 1h1v1h-1zM8 1h1v1h-1zM56 1h1v1h-1zM91 1h2v1h-2zM94 1h3v1h-3zM100 1h1v1h-1zM6 2h1v1h-1zM10 2h1v1h-1zM19 2h1v1h-1zM24 2h1v1h-1zM30 2h1v1h-1zM4 3h1v1h-1zM32 3h1v1h-1zM39 3h1v1h-1zM61 3h1v1h-1zM100 3h1v1h-1zM14 4h1v1h-1zM31 4h1v1h-1zM98 4h1v1h-1zM0 5h1v1h-1zM2 5h1v1h-1zM20 5h1v1h-1zM35 5h1v1h-1zM55 5h1v1h-1zM84 5h1v1h-1zM62 6h1v1h-1zM65 6h1v1h-1zM87 6h1v1h-1zM94 6h1v1h-1zM96 6h1v1h-1zM25 7h1v1h-1zM27 7h1v1h-1zM56 7h1v1h-1zM63 7h1v1h-1zM70 7h1v1h-1zM95 7h1v1h-1zM10 8h1v1h-1zM14 8h1v1h-1zM70 8h1v1h-1zM91 8h1v1h-1zM26 9h1v1h-1zM28 9h1v1h-1zM44 9h1v1h-1zM49 9h2v1h-2zM55 9h1v1h-1zM65 9h1v1h-1zM33 10h1v1h-1zM79 10h1v1h-1zM98 10h1v1h-1zM47 11h1v1h-1zM87 11h1v1h-1zM9 12h1v1h-1zM44 12h1v1h-1zM59 12h1v1h-1zM93 12h1v1h-1zM14 13h1v1h-1zM42 13h1v1h-1zM44 13h1v1h-1zM98 13h1v1h-1zM69 14h1v1h-1zM29 15h1v1h-1zM47 15h1v1h-1zM81 15h1v1h-1zM93 15h1v1h-1zM95 15h2v1h-2zM0 16h1v1h-1zM28 16h1v1h-1zM30 16h1v1h-1zM67 16h1v1h-1zM92 16h1v1h-1zM100 16h1v1h-1zM55 17h1v1h-1zM93 17h1v1h-1zM18 18h1v1h-1zM38 18h1v1h-1zM60 18h1v1h-1zM89 18h2v1h-2zM92 18h1v1h-1zM95 18h1v1h-1zM20 19h1v1h-1zM30 19h1v1h-1zM46 19h1v1h-1zM61 19h1v1h-1zM43 20h1v1h-1zM74 20h1v1h-1zM90 20h1v1h-1zM10 21h1v1h-1zM26 21h1v1h-1zM97 21h1v1h-1zM10 22h1v1h-1zM99 22h1v1h-1zM8 23h1v1h-1zM15 23h1v1h-1zM41 23h1v1h-1zM53 23h1v1h-1zM58 23h1v1h-1zM60 23h1v1h-1zM65 23h1v1h-1zM86 23h1v1h-1zM5 24h1v1h-1zM38 24h1v1h-1zM43 24h1v1h-1zM66 24h1v1h-1zM25 25h1v1h-1zM64 25h1v1h-1zM81 25h1v1h-1zM84 25h1v1h-1zM88 25h1v1h-1zM64 26h1v1h-1zM67 26h1v1h-1zM69 26h2v1h-2zM88 26h1v1h-1zM2 27h1v1h-1zM9 27h1v1h-1zM27 27h1v1h-1zM83 27h1v1h-1zM90 27h2v1h-2zM9 28h2v1h-2zM35 28h1v1h-1zM27 29h1v1h-1zM33 29h1v1h-1zM49 29h1v1h-1zM63 29h1v1h-1zM80 29h1v1h-1zM100 29h1v1h-1zM43 30h1v1h-1zM70 30h1v1h-1zM37 31h1v1h-1zM41 31h1v1h-1zM58 31h1v1h-1zM85 31h1v1h-1zM16 32h1v1h-1zM46 32h1v1h-1zM58 32h1v1h-1zM64 32h1v1h-1zM75 32h1v1h-1zM6 33h1v1h-1zM15 33h1v1h-1zM68 33h1v1h-1zM2 34h1v1h-1zM18 34h1v1h-1zM23 34h1v1h-1zM30 34h1v1h-1zM54 34h1v1h-1zM40 35h1v1h-1zM31 36h1v1h-1zM50 36h1v1h-1zM67 36h1v1h-1zM6 37h1v1h-1zM14 37h1v1h-1zM34 37h1v1h-1zM67 37h1v1h-1zM69 37h1v1h-1zM74 37h1v1h-1zM5 38h1v1h-1zM40 38h1v1h-1zM55 38h1v1h-1zM93 38h1v1h-1zM19 39h1v1h-1zM42 39h1v1h-1zM49 39h1v1h-1zM53 39h1v1h-1zM72 39h1v1h-1zM80 39h1v1h-1zM95 39h1v1h-1zM28 40h1v1h-1zM36 40h1v1h-1zM72 40h1v1h-1zM80 40h1v1h-1zM99 40h1v1h-1zM14 41h2v1h-2zM35 41h1v1h-1zM66 41h2v1h-2zM75 41h1v1h-1zM14 42h1v1h-1zM33 42h1v1h-1zM38 42h1v1h-1zM76 42h1v1h-1zM96 42h1v1h-1zM33 43h1v1h-1zM41 43h1v1h-1zM55 43h1v1h-1zM82 43h1v1h-1zM3 44h1v1h-1zM12 44h1v1h-1zM26 44h1v1h-1zM60 44h1v1h-1zM69 44h1v1h-1zM7 45h2v1h-2zM60 45h1v1h-1zM92 45h1v1h-1zM0 46h1v1h-1zM57 46h2v1h-2zM69 46h1v1h-1zM72 46h1v1h-1zM84 46h1v1h-1zM29 47h1v1h-1zM33 47h1v1h-1zM54 47h1v1h-1zM8 48h1v1h-1zM29 48h1v1h-1zM34 48h1v1h-1zM19 49h1v1h-1zM99 49h1v1h-1zM8 50h1v1h-1zM45 50h1v1h-1zM50 50h1v1h-1zM73 50h1v1h-1zM3 51h1v1h-1zM99 51h1v1h-1zM15 52h1v1h-1zM21 52h1v1h-1zM25 52h1v1h-1zM79 52h1v1h-1zM34 53h1v1h-1zM39 53h1v1h-1zM64 53h1v1h-1zM76 53h1v1h-1zM96 53h1v1h-1zM98 53h1v1h-1zM100 53h1v1h-1zM8 54h1v1h-1zM15 54h1v1h-1zM46 54h1v1h-1zM60 54h1v1h-1zM63 54h1v1h-1zM5 55h1v1h-1zM46 55h1v1h-1zM82 55h1v1h-1zM95 55h1v1h-1zM16 56h1v1h-1zM63 56h1v1h-1zM79 56h1v1h-1zM22 57h1v1h-1zM45 57h1v1h-1zM19 58h1v1h-1zM26 58h1v1h-1zM61 58h1v1h-1zM81 58h1v1h-1zM96 58h1v1h-1zM15 59h1v1h-1zM20 59h1v1h-1zM26 59h1v1h-1zM73 59h1v1h-1zM16 60h1v1h-1zM66 60h1v1h-1zM71 60h1v1h-1zM75 60h1v1h-1zM83 60h1v1h-1zM86 60h1v1h-1zM15 61h1v1h-1zM99 61h1v1h-1zM23 62h1v1h-1zM47 62h1v1h-1zM38 63h1v1h-1zM78 63h1v1h-1zM25 64h1v1h-1zM27 64h1v1h-1zM36 64h1v1h-1zM61 64h1v1h-1zM67 64h1v1h-1zM74 64h1v1h-1zM95 64h2v1h-2zM50 65h1v1h-1zM60 65h1v1h-1zM8 66h1v1h-1zM10 66h1v1h-1zM14 66h1v1h-1zM21 66h1v1h-1zM25 66h1v1h-1zM36 66h1v1h-1zM92 66h1v1h-1zM75 67h1v1h-1zM77 67h1v1h-1zM79 67h1v1h-1zM89 67h1v1h-1zM95 67h1v1h-1zM3 68h1v1h-1zM12 68h1v1h-1zM30 69h1v1h-1zM49 69h1v1h-1zM61 69h2v1h-2zM77 69h1v1h-1zM95 69h2v1h-2zM3 70h1v1h-1zM43 70h1v1h-1zM14 71h1v1h-1zM20 71h1v1h-1zM49 71h1v1h-1zM71 71h1v1h-1zM82 71h1v1h-1zM84 71h1v1h-1zM0 72h1v1h-1zM8 72h1v1h-1zM61 72h1v1h-1zM78 72h1v1h-1zM28 73h1v1h-1zM90 73h1v1h-1zM94 73h1v1h-1zM8 74h1v1h-1zM13 74h1v1h-1zM21 74h1v1h-1zM71 74h1v1h-1zM79 74h1v1h-1zM50 75h1v1h-1zM58 75h1v1h-1zM62 75h1v1h-1zM72 75h1v1h-1zM18 76h1v1h-1zM39 76h1v1h-1zM46 76h1v1h-1zM49 76h1v1h-1zM70 76h1v1h-1zM97 76h1v1h-1zM13 77h1v1h-1zM44 77h1v1h-1zM88 77h1v1h-1zM18 78h1v1h-1zM9 79h1v1h-1zM99 79h2v1h-2zM25 80h1v1h-1zM30 80h1v1h-1zM48 80h1v1h-1zM24 81h1v1h-1zM46 81h1v1h-1zM91 81h1v1h-1zM84 82h1v1h-1zM46 83h1v1h-1zM88 83h1v1h-1z" fill="#8688f0"/><path d="M0 0h1v1h-1zM6 0h1v1h-1zM64 0h1v1h-1zM90 0h1v1h-1zM33 1h1v1h-1zM37 1h1v1h-1zM45 1h1v1h-1zM48 1h1v1h-1zM18 2h1v1h-1zM98 2h1v1h-1zM5 3h1v1h-1zM16 3h1v1h-1zM52 3h1v1h-1zM55 3h1v1h-1zM67 3h1v1h-1zM3 4h1v1h-1zM8 4h1v1h-1zM16 4h1v1h-1zM37 4h1v1h-1zM65 4h2v1h-2zM72 4h1v1h-1zM88 4h1v1h-1zM92 4h1v1h-1zM97 4h1v1h-1zM99 4h2v1h-2zM3 5h1v1h-1zM15 5h1v1h-1zM51 5h1v1h-1zM78 5h1v1h-1zM80 5h1v1h-1zM93 5h1v1h-1zM97 5h1v1h-1zM26 6h1v1h-1zM54 6h1v1h-1zM66 6h1v1h-1zM80 6h1v1h-1zM89 6h1v1h-1zM31 7h1v1h-1zM36 7h1v1h-1zM76 7h1v1h-1zM91 7h1v1h-1zM20 8h1v1h-1zM29 8h1v1h-1zM62 8h1v1h-1zM66 8h1v1h-1zM85 8h1v1h-1zM94 8h1v1h-1zM100 8h1v1h-1zM48 9h1v1h-1zM90 9h1v1h-1zM97 9h1v1h-1zM36 10h1v1h-1zM38 10h1v1h-1zM43 10h2v1h-2zM87 10h1v1h-1zM92 10h1v1h-1zM38 11h1v1h-1zM91 11h1v1h-1zM96 11h1v1h-1zM37 12h1v1h-1zM100 12h1v1h-1zM23 13h1v1h-1zM52 13h1v1h-1zM66 13h1v1h-1zM96 13h1v1h-1zM5 14h1v1h-1zM85 14h1v1h-1zM16 15h1v1h-1zM45 15h1v1h-1zM60 15h1v1h-1zM98 15h2v1h-2zM2 16h1v1h-1zM95 16h1v1h-1zM7 17h1v1h-1zM56 17h1v1h-1zM26 18h1v1h-1zM32 18h1v1h-1zM37 18h1v1h-1zM40 18h1v1h-1zM51 18h1v1h-1zM86 18h1v1h-1zM88 18h1v1h-1zM93 18h1v1h-1zM98 18h1v1h-1zM13 19h1v1h-1zM63 19h1v1h-1zM68 19h1v1h-1zM10 20h1v1h-1zM15 20h1v1h-1zM54 20h1v1h-1zM66 20h1v1h-1zM82 20h1v1h-1zM33 21h1v1h-1zM52 21h1v1h-1zM63 21h1v1h-1zM65 21h1v1h-1zM94 21h2v1h-2zM52 22h1v1h-1zM62 22h1v1h-1zM16 23h1v1h-1zM31 23h1v1h-1zM50 23h1v1h-1zM74 23h2v1h-2zM91 23h1v1h-1zM97 23h1v1h-1zM99 23h1v1h-1zM3 24h1v1h-1zM8 24h1v1h-1zM13 24h1v1h-1zM65 24h1v1h-1zM75 24h1v1h-1zM87 24h1v1h-1zM90 24h1v1h-1zM94 24h1v1h-1zM96 24h1v1h-1zM99 24h1v1h-1zM4 25h1v1h-1zM44 25h1v1h-1zM61 25h1v1h-1zM71 25h1v1h-1zM80 25h1v1h-1zM82 25h1v1h-1zM12 26h1v1h-1zM28 26h1v1h-1zM42 26h1v1h-1zM54 26h1v1h-1zM72 26h1v1h-1zM96 26h1v1h-1zM23 27h1v1h-1zM57 27h4v1h-4zM63 27h1v1h-1zM94 27h1v1h-1zM43 28h1v1h-1zM74 28h1v1h-1zM77 28h1v1h-1zM84 28h1v1h-1zM17 29h1v1h-1zM19 29h1v1h-1zM43 29h1v1h-1zM68 29h2v1h-2zM19 30h1v1h-1zM29 30h1v1h-1zM62 30h1v1h-1zM20 31h1v1h-1zM66 31h1v1h-1zM34 32h1v1h-1zM41 32h1v1h-1zM44 32h1v1h-1zM48 32h1v1h-1zM90 32h1v1h-1zM25 33h1v1h-1zM45 33h1v1h-1zM48 33h1v1h-1zM77 34h1v1h-1zM88 34h1v1h-1zM93 34h1v1h-1zM19 35h1v1h-1zM70 35h1v1h-1zM15 36h1v1h-1zM33 36h1v1h-1zM65 36h1v1h-1zM82 36h1v1h-1zM0 37h1v1h-1zM42 37h1v1h-1zM60 37h1v1h-1zM86 37h1v1h-1zM2 38h1v1h-1zM7 38h1v1h-1zM12 38h1v1h-1zM86 38h1v1h-1zM39 39h1v1h-1zM41 39h1v1h-1zM48 39h1v1h-1zM14 40h1v1h-1zM19 40h1v1h-1zM63 40h1v1h-1zM100 40h1v1h-1zM26 41h1v1h-1zM32 41h1v1h-1zM62 41h1v1h-1zM76 41h1v1h-1zM83 41h1v1h-1zM53 42h1v1h-1zM93 42h1v1h-1zM95 42h1v1h-1zM29 43h1v1h-1zM44 43h1v1h-1zM63 43h1v1h-1zM97 44h1v1h-1zM58 45h1v1h-1zM65 45h1v1h-1zM73 45h1v1h-1zM87 45h1v1h-1zM90 45h1v1h-1zM11 46h1v1h-1zM54 46h1v1h-1zM60 47h1v1h-1zM90 47h1v1h-1zM32 48h1v1h-1zM58 48h1v1h-1zM76 48h1v1h-1zM98 48h2v1h-2zM76 49h1v1h-1zM81 49h1v1h-1zM94 49h1v1h-1zM15 50h1v1h-1zM24 50h1v1h-1zM47 50h1v1h-1zM49 50h1v1h-1zM59 50h1v1h-1zM61 50h1v1h-1zM75 50h1v1h-1zM92 50h1v1h-1zM53 51h1v1h-1zM64 51h1v1h-1zM7 52h1v1h-1zM16 52h1v1h-1zM19 52h1v1h-1zM32 52h1v1h-1zM41 52h1v1h-1zM83 52h1v1h-1zM93 52h1v1h-1zM4 53h1v1h-1zM24 53h1v1h-1zM32 53h1v1h-1zM32 54h1v1h-1zM47 54h1v1h-1zM55 54h1v1h-1zM94 54h1v1h-1zM99 54h1v1h-1zM20 55h1v1h-1zM33 55h1v1h-1zM70 55h1v1h-1zM78 55h1v1h-1zM99 55h1v1h-1zM31 56h1v1h-1zM43 56h1v1h-1zM73 56h1v1h-1zM89 56h1v1h-1zM53 57h1v1h-1zM61 57h2v1h-2zM65 57h1v1h-1zM70 57h1v1h-1zM80 57h1v1h-1zM5 58h1v1h-1zM10 58h1v1h-1zM45 58h1v1h-1zM91 58h1v1h-1zM94 58h1v1h-1zM53 59h1v1h-1zM78 59h1v1h-1zM100 59h1v1h-1zM27 60h1v1h-1zM46 60h1v1h-1zM80 60h1v1h-1zM35 61h1v1h-1zM63 61h1v1h-1zM74 61h1v1h-1zM81 61h1v1h-1zM87 61h1v1h-1zM14 62h1v1h-1zM21 62h1v1h-1zM38 62h1v1h-1zM78 64h1v1h-1zM99 64h1v1h-1zM6 65h1v1h-1zM28 65h1v1h-1zM43 65h1v1h-1zM59 65h1v1h-1zM93 65h1v1h-1zM19 66h1v1h-1zM22 66h2v1h-2zM51 66h1v1h-1zM53 66h1v1h-1zM59 66h1v1h-1zM36 67h1v1h-1zM49 67h1v1h-1zM52 67h1v1h-1zM60 67h1v1h-1zM81 67h1v1h-1zM27 68h1v1h-1zM32 68h1v1h-1zM74 68h1v1h-1zM78 68h1v1h-1zM93 68h1v1h-1zM42 69h1v1h-1zM64 69h1v1h-1zM12 70h1v1h-1zM18 70h1v1h-1zM24 70h1v1h-1zM79 70h2v1h-2zM29 71h1v1h-1zM55 71h1v1h-1zM72 71h1v1h-1zM98 71h1v1h-1zM26 72h1v1h-1zM57 72h1v1h-1zM59 72h1v1h-1zM85 72h1v1h-1zM93 72h1v1h-1zM19 73h1v1h-1zM9 74h1v1h-1zM25 74h1v1h-1zM43 74h1v1h-1zM66 74h1v1h-1zM77 74h1v1h-1zM26 75h1v1h-1zM31 75h1v1h-1zM39 75h3v1h-3zM63 75h1v1h-1zM31 76h1v1h-1zM35 76h1v1h-1zM40 76h1v1h-1zM57 76h1v1h-1zM11 77h1v1h-1zM16 77h1v1h-1zM19 77h1v1h-1zM45 77h1v1h-1zM62 77h1v1h-1zM71 77h1v1h-1zM79 77h1v1h-1zM97 77h1v1h-1zM12 78h1v1h-1zM88 78h1v1h-1zM13 79h1v1h-1zM39 79h2v1h-2zM78 79h1v1h-1zM80 79h1v1h-1zM90 79h1v1h-1zM94 79h1v1h-1zM17 80h1v1h-1zM37 80h1v1h-1zM41 80h1v1h-1zM62 80h1v1h-1zM80 80h1v1h-1zM96 80h1v1h-1zM10 81h1v1h-1zM55 81h1v1h-1zM94 81h1v1h-1zM42 83h1v1h-1zM75 83h1v1h-1zM78 83h1v1h-1zM85 83h1v1h-1z" fill="#9698f2"/><path d="M7 0h1v1h-1zM20 0h1v1h-1zM40 0h1v1h-1zM50 0h1v1h-1zM93 0h1v1h-1zM98 0h1v1h-1zM6 1h1v1h-1zM12 1h1v1h-1zM53 1h1v1h-1zM59 1h1v1h-1zM1 2h1v1h-1zM5 2h1v1h-1zM63 2h1v1h-1zM70 2h1v1h-1zM74 2h1v1h-1zM86 2h1v1h-1zM97 2h1v1h-1zM2 3h1v1h-1zM6 3h1v1h-1zM66 3h1v1h-1zM92 3h1v1h-1zM95 3h1v1h-1zM0 4h1v1h-1zM4 4h1v1h-1zM11 4h1v1h-1zM24 4h2v1h-2zM77 4h1v1h-1zM82 4h1v1h-1zM91 4h1v1h-1zM93 4h2v1h-2zM96 4h1v1h-1zM28 5h1v1h-1zM70 5h1v1h-1zM73 5h1v1h-1zM94 5h1v1h-1zM98 5h2v1h-2zM77 6h1v1h-1zM97 6h1v1h-1zM99 6h1v1h-1zM14 7h1v1h-1zM42 7h1v1h-1zM48 7h1v1h-1zM72 7h1v1h-1zM96 7h1v1h-1zM98 7h1v1h-1zM25 8h2v1h-2zM44 8h1v1h-1zM48 8h1v1h-1zM61 8h1v1h-1zM35 9h1v1h-1zM39 9h1v1h-1zM46 9h1v1h-1zM82 9h1v1h-1zM96 9h1v1h-1zM50 10h1v1h-1zM67 10h1v1h-1zM78 10h1v1h-1zM99 10h1v1h-1zM1 11h1v1h-1zM5 11h1v1h-1zM14 11h1v1h-1zM22 11h1v1h-1zM28 11h1v1h-1zM82 11h1v1h-1zM90 11h1v1h-1zM16 12h1v1h-1zM31 12h1v1h-1zM72 12h1v1h-1zM17 13h1v1h-1zM39 13h1v1h-1zM9 14h1v1h-1zM24 14h1v1h-1zM82 14h1v1h-1zM84 14h1v1h-1zM93 14h1v1h-1zM97 14h1v1h-1zM18 15h1v1h-1zM27 15h1v1h-1zM66 15h1v1h-1zM79 15h1v1h-1zM23 16h1v1h-1zM66 16h1v1h-1zM80 16h1v1h-1zM90 16h1v1h-1zM18 17h1v1h-1zM24 17h1v1h-1zM61 17h1v1h-1zM0 18h1v1h-1zM2 18h2v1h-2zM9 18h1v1h-1zM16 18h1v1h-1zM49 18h1v1h-1zM53 18h2v1h-2zM45 19h1v1h-1zM56 19h1v1h-1zM60 19h1v1h-1zM64 19h1v1h-1zM73 19h1v1h-1zM98 19h1v1h-1zM16 20h1v1h-1zM72 20h1v1h-1zM8 21h1v1h-1zM46 21h2v1h-2zM83 21h1v1h-1zM16 22h2v1h-2zM20 22h1v1h-1zM31 22h1v1h-1zM55 22h1v1h-1zM30 23h1v1h-1zM19 24h1v1h-1zM21 24h1v1h-1zM44 24h1v1h-1zM56 24h1v1h-1zM62 24h1v1h-1zM74 24h1v1h-1zM34 25h1v1h-1zM41 25h1v1h-1zM50 25h1v1h-1zM37 26h1v1h-1zM91 26h1v1h-1zM93 26h1v1h-1zM10 27h1v1h-1zM54 27h1v1h-1zM71 27h1v1h-1zM77 27h1v1h-1zM87 27h1v1h-1zM52 28h1v1h-1zM63 28h1v1h-1zM80 28h1v1h-1zM87 28h1v1h-1zM14 29h1v1h-1zM22 29h1v1h-1zM39 29h1v1h-1zM48 29h1v1h-1zM61 29h1v1h-1zM81 29h1v1h-1zM96 29h1v1h-1zM9 30h1v1h-1zM21 30h1v1h-1zM39 30h1v1h-1zM14 31h1v1h-1zM30 31h1v1h-1zM10 32h1v1h-1zM68 32h1v1h-1zM8 33h1v1h-1zM19 33h1v1h-1zM21 33h1v1h-1zM34 33h1v1h-1zM37 33h1v1h-1zM49 33h1v1h-1zM64 33h1v1h-1zM15 34h1v1h-1zM28 34h1v1h-1zM56 34h1v1h-1zM86 34h1v1h-1zM10 35h1v1h-1zM43 35h1v1h-1zM32 36h1v1h-1zM58 36h1v1h-1zM69 36h1v1h-1zM85 36h1v1h-1zM17 37h1v1h-1zM25 37h1v1h-1zM29 37h1v1h-1zM33 37h1v1h-1zM46 37h1v1h-1zM77 37h1v1h-1zM84 37h1v1h-1zM88 37h2v1h-2zM99 37h1v1h-1zM14 38h1v1h-1zM19 38h1v1h-1zM31 38h1v1h-1zM51 38h1v1h-1zM14 39h1v1h-1zM18 39h1v1h-1zM23 39h1v1h-1zM40 39h1v1h-1zM55 39h1v1h-1zM61 39h1v1h-1zM75 39h2v1h-2zM99 39h1v1h-1zM8 40h1v1h-1zM48 40h1v1h-1zM53 40h1v1h-1zM81 40h1v1h-1zM28 41h1v1h-1zM43 41h2v1h-2zM48 41h1v1h-1zM57 41h1v1h-1zM86 41h1v1h-1zM94 41h1v1h-1zM8 42h1v1h-1zM11 42h1v1h-1zM13 42h1v1h-1zM23 42h1v1h-1zM69 42h1v1h-1zM72 42h1v1h-1zM77 42h1v1h-1zM100 42h1v1h-1zM97 43h1v1h-1zM33 44h1v1h-1zM77 44h1v1h-1zM42 45h1v1h-1zM69 45h1v1h-1zM78 45h1v1h-1zM20 46h1v1h-1zM22 46h1v1h-1zM36 46h1v1h-1zM47 46h1v1h-1zM97 46h1v1h-1zM1 47h1v1h-1zM13 47h1v1h-1zM20 47h1v1h-1zM61 47h1v1h-1zM13 48h1v1h-1zM61 48h1v1h-1zM81 48h1v1h-1zM86 48h1v1h-1zM90 48h1v1h-1zM100 48h1v1h-1zM23 49h1v1h-1zM33 49h1v1h-1zM52 49h1v1h-1zM66 49h1v1h-1zM41 50h1v1h-1zM82 50h1v1h-1zM10 51h1v1h-1zM18 51h1v1h-1zM42 51h1v1h-1zM50 51h1v1h-1zM63 51h1v1h-1zM11 52h1v1h-1zM14 52h1v1h-1zM30 52h1v1h-1zM38 52h1v1h-1zM66 52h1v1h-1zM82 52h1v1h-1zM11 53h1v1h-1zM25 53h1v1h-1zM36 53h1v1h-1zM45 53h1v1h-1zM50 53h1v1h-1zM60 53h1v1h-1zM70 53h1v1h-1zM78 53h1v1h-1zM85 53h1v1h-1zM89 53h1v1h-1zM31 54h1v1h-1zM36 54h1v1h-1zM45 54h1v1h-1zM91 54h1v1h-1zM96 54h1v1h-1zM98 54h1v1h-1zM14 55h1v1h-1zM25 55h1v1h-1zM47 55h1v1h-1zM77 55h1v1h-1zM89 55h1v1h-1zM21 56h1v1h-1zM28 56h1v1h-1zM50 56h1v1h-1zM59 56h1v1h-1zM84 56h1v1h-1zM90 56h1v1h-1zM99 56h2v1h-2zM10 57h1v1h-1zM35 57h1v1h-1zM60 57h1v1h-1zM87 57h1v1h-1zM25 58h1v1h-1zM87 58h1v1h-1zM28 59h1v1h-1zM45 59h1v1h-1zM13 60h1v1h-1zM53 60h1v1h-1zM55 60h1v1h-1zM60 60h1v1h-1zM88 60h1v1h-1zM94 60h1v1h-1zM97 60h1v1h-1zM8 61h1v1h-1zM20 61h1v1h-1zM78 61h1v1h-1zM88 61h2v1h-2zM91 61h1v1h-1zM93 61h1v1h-1zM28 62h1v1h-1zM34 62h1v1h-1zM39 62h1v1h-1zM65 62h1v1h-1zM83 62h1v1h-1zM89 62h1v1h-1zM31 63h1v1h-1zM36 63h1v1h-1zM72 63h1v1h-1zM90 63h1v1h-1zM20 64h1v1h-1zM35 64h1v1h-1zM41 64h1v1h-1zM91 64h1v1h-1zM41 65h1v1h-1zM63 65h1v1h-1zM74 65h1v1h-1zM27 66h1v1h-1zM38 66h1v1h-1zM69 66h1v1h-1zM75 66h1v1h-1zM88 66h1v1h-1zM19 67h1v1h-1zM25 67h1v1h-1zM30 67h1v1h-1zM62 67h1v1h-1zM83 67h1v1h-1zM90 67h1v1h-1zM6 68h1v1h-1zM26 68h1v1h-1zM28 68h1v1h-1zM44 68h1v1h-1zM60 68h1v1h-1zM64 68h1v1h-1zM81 68h1v1h-1zM100 68h1v1h-1zM10 69h1v1h-1zM33 69h1v1h-1zM66 69h1v1h-1zM84 69h1v1h-1zM21 70h1v1h-1zM59 70h1v1h-1zM63 70h1v1h-1zM89 70h1v1h-1zM92 70h1v1h-1zM47 71h1v1h-1zM58 71h1v1h-1zM62 71h1v1h-1zM91 71h1v1h-1zM9 72h1v1h-1zM13 72h2v1h-2zM16 72h2v1h-2zM31 72h1v1h-1zM44 72h1v1h-1zM1 73h1v1h-1zM24 73h1v1h-1zM44 73h1v1h-1zM4 74h1v1h-1zM33 74h1v1h-1zM43 75h1v1h-1zM51 75h1v1h-1zM94 75h1v1h-1zM98 75h1v1h-1zM1 76h1v1h-1zM32 76h1v1h-1zM71 76h1v1h-1zM29 77h1v1h-1zM69 77h1v1h-1zM15 78h1v1h-1zM42 79h1v1h-1zM23 80h2v1h-2zM73 80h1v1h-1zM76 80h1v1h-1zM82 80h1v1h-1zM94 80h1v1h-1zM27 81h1v1h-1zM43 81h1v1h-1zM58 81h1v1h-1zM66 81h1v1h-1zM88 81h1v1h-1zM100 81h1v1h-1zM24 82h1v1h-1zM30 82h1v1h-1zM39 82h1v1h-1zM73 82h1v1h-1zM76 82h1v1h-1zM81 82h1v1h-1zM4 83h1v1h-1zM22 83h1v1h-1zM65 83h1v1h-1z" fill="#a4a5f4"/><path d="M5 0h1v1h-1zM14 0h1v1h-1zM34 0h1v1h-1zM41 0h1v1h-1zM91 0h1v1h-1zM97 0h1v1h-1zM99 0h2v1h-2zM0 1h1v1h-1zM3 1h1v1h-1zM25 1h1v1h-1zM42 1h1v1h-1zM44 1h1v1h-1zM64 1h1v1h-1zM86 1h1v1h-1zM90 1h1v1h-1zM93 1h1v1h-1zM98 1h1v1h-1zM9 2h1v1h-1zM31 2h1v1h-1zM46 2h1v1h-1zM57 2h1v1h-1zM65 2h1v1h-1zM90 2h1v1h-1zM92 2h2v1h-2zM95 2h1v1h-1zM8 3h1v1h-1zM12 3h1v1h-1zM63 3h1v1h-1zM80 3h1v1h-1zM87 3h1v1h-1zM90 3h2v1h-2zM94 3h1v1h-1zM96 3h1v1h-1zM2 4h1v1h-1zM7 4h1v1h-1zM20 4h1v1h-1zM29 4h1v1h-1zM36 4h1v1h-1zM73 4h1v1h-1zM79 4h1v1h-1zM87 4h1v1h-1zM90 4h1v1h-1zM95 4h1v1h-1zM7 5h2v1h-2zM27 5h1v1h-1zM30 5h1v1h-1zM39 5h1v1h-1zM48 5h1v1h-1zM69 5h1v1h-1zM75 5h1v1h-1zM90 5h2v1h-2zM100 5h1v1h-1zM31 6h1v1h-1zM40 6h1v1h-1zM60 6h1v1h-1zM70 6h1v1h-1zM85 6h1v1h-1zM91 6h1v1h-1zM29 7h1v1h-1zM51 7h2v1h-2zM68 7h1v1h-1zM73 7h1v1h-1zM93 7h1v1h-1zM18 8h1v1h-1zM65 8h1v1h-1zM67 8h1v1h-1zM79 8h1v1h-1zM83 8h1v1h-1zM89 8h2v1h-2zM15 9h1v1h-1zM32 9h1v1h-1zM43 9h1v1h-1zM73 9h2v1h-2zM77 9h1v1h-1zM80 9h1v1h-1zM85 9h1v1h-1zM91 9h1v1h-1zM93 9h1v1h-1zM53 10h1v1h-1zM93 10h1v1h-1zM95 10h1v1h-1zM9 11h1v1h-1zM13 11h1v1h-1zM25 11h1v1h-1zM30 11h2v1h-2zM33 11h1v1h-1zM39 11h1v1h-1zM52 11h1v1h-1zM58 11h1v1h-1zM63 11h1v1h-1zM81 11h1v1h-1zM12 12h1v1h-1zM56 12h1v1h-1zM75 12h1v1h-1zM82 12h2v1h-2zM90 12h1v1h-1zM95 12h1v1h-1zM97 12h2v1h-2zM54 13h1v1h-1zM59 13h1v1h-1zM82 13h1v1h-1zM88 13h1v1h-1zM99 13h1v1h-1zM33 14h1v1h-1zM48 14h1v1h-1zM57 14h1v1h-1zM60 14h1v1h-1zM96 14h1v1h-1zM99 14h1v1h-1zM64 15h1v1h-1zM72 15h1v1h-1zM77 15h1v1h-1zM87 15h1v1h-1zM92 15h1v1h-1zM73 16h1v1h-1zM81 16h1v1h-1zM32 17h1v1h-1zM36 17h1v1h-1zM44 17h1v1h-1zM68 17h1v1h-1zM95 17h1v1h-1zM97 17h1v1h-1zM99 17h1v1h-1zM1 18h1v1h-1zM8 18h1v1h-1zM19 18h1v1h-1zM21 18h1v1h-1zM25 18h1v1h-1zM72 18h1v1h-1zM94 18h1v1h-1zM97 18h1v1h-1zM23 19h1v1h-1zM43 19h1v1h-1zM82 19h1v1h-1zM85 19h1v1h-1zM95 19h1v1h-1zM71 20h1v1h-1zM78 20h1v1h-1zM100 20h1v1h-1zM58 21h1v1h-1zM12 22h1v1h-1zM19 22h1v1h-1zM26 22h1v1h-1zM51 22h1v1h-1zM54 22h1v1h-1zM71 22h1v1h-1zM93 22h1v1h-1zM55 24h1v1h-1zM61 24h1v1h-1zM71 24h1v1h-1zM85 24h1v1h-1zM26 25h1v1h-1zM47 25h1v1h-1zM99 25h1v1h-1zM18 26h1v1h-1zM36 26h1v1h-1zM45 26h1v1h-1zM84 26h1v1h-1zM28 27h2v1h-2zM53 27h1v1h-1zM75 27h1v1h-1zM86 27h1v1h-1zM8 28h1v1h-1zM29 28h1v1h-1zM73 28h1v1h-1zM83 28h1v1h-1zM9 29h1v1h-1zM18 29h1v1h-1zM34 29h1v1h-1zM36 29h1v1h-1zM44 29h1v1h-1zM56 29h1v1h-1zM75 29h1v1h-1zM86 29h1v1h-1zM18 30h1v1h-1zM32 30h1v1h-1zM40 30h1v1h-1zM59 30h1v1h-1zM79 30h1v1h-1zM95 30h1v1h-1zM23 31h2v1h-2zM27 31h2v1h-2zM32 31h1v1h-1zM35 31h1v1h-1zM63 31h1v1h-1zM78 31h1v1h-1zM92 31h1v1h-1zM55 32h1v1h-1zM14 34h1v1h-1zM31 34h1v1h-1zM37 34h1v1h-1zM78 34h1v1h-1zM83 34h1v1h-1zM95 34h1v1h-1zM29 35h1v1h-1zM49 35h1v1h-1zM74 35h1v1h-1zM82 35h1v1h-1zM60 36h1v1h-1zM13 37h1v1h-1zM20 37h1v1h-1zM30 37h1v1h-1zM97 37h1v1h-1zM20 38h1v1h-1zM24 38h1v1h-1zM29 38h2v1h-2zM34 38h1v1h-1zM43 38h1v1h-1zM59 38h1v1h-1zM80 38h1v1h-1zM25 39h1v1h-1zM44 39h1v1h-1zM63 39h1v1h-1zM83 39h1v1h-1zM93 39h1v1h-1zM96 39h1v1h-1zM16 40h1v1h-1zM31 40h1v1h-1zM38 40h2v1h-2zM56 40h1v1h-1zM58 40h1v1h-1zM62 40h1v1h-1zM65 40h1v1h-1zM96 40h1v1h-1zM72 41h1v1h-1zM80 41h1v1h-1zM37 42h1v1h-1zM57 42h1v1h-1zM65 42h1v1h-1zM67 42h1v1h-1zM75 42h1v1h-1zM94 42h1v1h-1zM19 43h1v1h-1zM25 43h1v1h-1zM34 43h1v1h-1zM43 43h1v1h-1zM45 43h1v1h-1zM52 43h1v1h-1zM98 43h1v1h-1zM29 44h1v1h-1zM45 44h1v1h-1zM68 44h1v1h-1zM82 44h2v1h-2zM98 44h1v1h-1zM14 45h1v1h-1zM21 45h1v1h-1zM43 45h1v1h-1zM81 45h1v1h-1zM18 46h1v1h-1zM66 46h1v1h-1zM74 46h1v1h-1zM77 46h1v1h-1zM28 47h1v1h-1zM36 48h1v1h-1zM38 48h1v1h-1zM51 48h1v1h-1zM68 48h1v1h-1zM70 48h1v1h-1zM34 49h1v1h-1zM46 49h1v1h-1zM79 49h1v1h-1zM16 50h1v1h-1zM34 50h1v1h-1zM43 50h1v1h-1zM46 50h1v1h-1zM84 50h1v1h-1zM93 50h1v1h-1zM51 51h1v1h-1zM73 51h1v1h-1zM87 51h1v1h-1zM12 52h1v1h-1zM22 52h1v1h-1zM35 52h1v1h-1zM68 52h1v1h-1zM100 52h1v1h-1zM15 53h1v1h-1zM27 53h1v1h-1zM31 53h1v1h-1zM58 53h1v1h-1zM68 53h1v1h-1zM33 54h1v1h-1zM82 54h1v1h-1zM65 55h1v1h-1zM69 55h1v1h-1zM73 55h1v1h-1zM93 55h1v1h-1zM13 56h1v1h-1zM25 56h1v1h-1zM68 56h1v1h-1zM27 57h1v1h-1zM41 57h1v1h-1zM49 57h1v1h-1zM64 57h1v1h-1zM66 57h1v1h-1zM76 57h1v1h-1zM49 58h1v1h-1zM55 58h1v1h-1zM63 58h1v1h-1zM66 58h1v1h-1zM78 58h1v1h-1zM12 59h1v1h-1zM62 59h1v1h-1zM64 59h1v1h-1zM89 59h1v1h-1zM22 60h1v1h-1zM82 60h1v1h-1zM89 60h1v1h-1zM34 61h1v1h-1zM39 61h1v1h-1zM60 61h1v1h-1zM65 61h1v1h-1zM77 61h1v1h-1zM92 61h1v1h-1zM13 62h1v1h-1zM36 62h1v1h-1zM49 62h1v1h-1zM80 62h1v1h-1zM9 63h1v1h-1zM25 63h1v1h-1zM28 63h1v1h-1zM34 63h1v1h-1zM42 63h1v1h-1zM80 63h1v1h-1zM95 63h1v1h-1zM19 64h1v1h-1zM43 64h1v1h-1zM60 64h1v1h-1zM90 64h1v1h-1zM92 64h1v1h-1zM100 64h1v1h-1zM14 65h1v1h-1zM17 65h1v1h-1zM20 65h1v1h-1zM42 65h1v1h-1zM57 65h1v1h-1zM76 65h1v1h-1zM87 65h1v1h-1zM17 66h1v1h-1zM37 66h1v1h-1zM55 66h1v1h-1zM61 66h1v1h-1zM33 67h1v1h-1zM47 67h1v1h-1zM18 68h1v1h-1zM22 68h1v1h-1zM43 68h1v1h-1zM46 68h1v1h-1zM80 68h1v1h-1zM81 69h1v1h-1zM89 69h1v1h-1zM97 69h1v1h-1zM99 69h1v1h-1zM35 70h1v1h-1zM42 70h1v1h-1zM71 70h1v1h-1zM99 70h1v1h-1zM52 71h1v1h-1zM76 71h1v1h-1zM12 72h1v1h-1zM19 72h1v1h-1zM23 72h1v1h-1zM65 72h1v1h-1zM95 72h1v1h-1zM97 72h1v1h-1zM8 73h1v1h-1zM26 73h1v1h-1zM37 73h1v1h-1zM42 73h1v1h-1zM85 73h1v1h-1zM51 74h1v1h-1zM63 74h1v1h-1zM8 75h1v1h-1zM33 75h1v1h-1zM45 75h1v1h-1zM49 75h1v1h-1zM55 75h1v1h-1zM75 75h1v1h-1zM85 75h1v1h-1zM87 75h1v1h-1zM62 76h1v1h-1zM75 76h1v1h-1zM81 76h1v1h-1zM20 77h1v1h-1zM55 77h1v1h-1zM61 77h1v1h-1zM72 77h1v1h-1zM81 77h1v1h-1zM89 77h1v1h-1zM16 78h1v1h-1zM23 78h1v1h-1zM26 78h1v1h-1zM46 78h2v1h-2zM57 78h1v1h-1zM29 79h1v1h-1zM59 79h1v1h-1zM13 80h1v1h-1zM21 80h2v1h-2zM40 80h1v1h-1zM54 80h1v1h-1zM63 80h1v1h-1zM83 80h1v1h-1zM89 80h1v1h-1zM95 80h1v1h-1zM17 81h1v1h-1zM20 81h1v1h-1zM33 81h1v1h-1zM61 81h1v1h-1zM77 81h1v1h-1zM79 81h1v1h-1zM49 83h1v1h-1zM97 83h1v1h-1z" fill="#b2b2f5"/><path d="M32 0h1v1h-1zM35 0h1v1h-1zM47 0h1v1h-1zM94 0h1v1h-1zM7 1h1v1h-1zM10 1h2v1h-2zM28 1h1v1h-1zM43 1h1v1h-1zM79 1h1v1h-1zM97 1h1v1h-1zM99 1h1v1h-1zM2 2h1v1h-1zM4 2h1v1h-1zM21 2h1v1h-1zM47 2h2v1h-2zM91 2h1v1h-1zM96 2h1v1h-1zM53 3h1v1h-1zM56 3h1v1h-1zM60 3h1v1h-1zM93 3h1v1h-1zM98 3h2v1h-2zM9 4h1v1h-1zM40 4h1v1h-1zM48 4h1v1h-1zM84 4h2v1h-2zM12 5h1v1h-1zM43 5h1v1h-1zM71 5h1v1h-1zM89 5h1v1h-1zM59 6h1v1h-1zM73 6h1v1h-1zM76 6h1v1h-1zM82 6h1v1h-1zM0 7h1v1h-1zM30 7h1v1h-1zM80 7h1v1h-1zM13 8h1v1h-1zM46 8h1v1h-1zM54 8h1v1h-1zM10 9h1v1h-1zM22 9h1v1h-1zM60 9h1v1h-1zM66 9h1v1h-1zM99 9h1v1h-1zM30 10h1v1h-1zM34 10h1v1h-1zM56 10h1v1h-1zM59 10h1v1h-1zM83 10h1v1h-1zM90 10h1v1h-1zM19 11h1v1h-1zM29 11h1v1h-1zM80 11h1v1h-1zM95 11h1v1h-1zM100 11h1v1h-1zM29 12h1v1h-1zM46 12h1v1h-1zM89 13h1v1h-1zM93 13h1v1h-1zM26 14h2v1h-2zM55 14h1v1h-1zM58 14h1v1h-1zM66 14h1v1h-1zM72 14h1v1h-1zM33 15h1v1h-1zM36 15h1v1h-1zM78 15h1v1h-1zM42 16h1v1h-1zM55 16h1v1h-1zM89 16h1v1h-1zM8 17h1v1h-1zM31 17h1v1h-1zM85 17h1v1h-1zM96 17h1v1h-1zM15 18h1v1h-1zM17 18h1v1h-1zM22 18h1v1h-1zM39 18h1v1h-1zM44 18h1v1h-1zM50 18h1v1h-1zM91 18h1v1h-1zM14 19h1v1h-1zM47 19h1v1h-1zM72 19h1v1h-1zM78 19h1v1h-1zM90 19h2v1h-2zM37 20h1v1h-1zM41 20h1v1h-1zM48 20h1v1h-1zM67 20h1v1h-1zM81 20h1v1h-1zM99 20h1v1h-1zM64 21h1v1h-1zM82 21h1v1h-1zM84 21h1v1h-1zM89 21h1v1h-1zM72 22h1v1h-1zM90 22h1v1h-1zM11 23h1v1h-1zM24 23h1v1h-1zM29 23h1v1h-1zM38 23h1v1h-1zM51 23h2v1h-2zM72 23h1v1h-1zM24 24h1v1h-1zM33 25h1v1h-1zM52 25h1v1h-1zM77 25h1v1h-1zM87 25h1v1h-1zM10 26h1v1h-1zM27 26h1v1h-1zM41 26h1v1h-1zM47 26h1v1h-1zM79 26h1v1h-1zM82 26h1v1h-1zM89 26h1v1h-1zM11 27h1v1h-1zM41 27h1v1h-1zM93 27h1v1h-1zM96 27h1v1h-1zM45 28h1v1h-1zM81 28h1v1h-1zM11 29h1v1h-1zM42 29h1v1h-1zM73 29h1v1h-1zM13 30h1v1h-1zM42 30h1v1h-1zM66 30h1v1h-1zM80 30h1v1h-1zM39 31h1v1h-1zM56 31h1v1h-1zM68 31h1v1h-1zM87 31h1v1h-1zM90 31h1v1h-1zM11 32h1v1h-1zM13 32h1v1h-1zM15 32h1v1h-1zM28 32h1v1h-1zM81 32h1v1h-1zM84 32h1v1h-1zM100 32h1v1h-1zM20 33h1v1h-1zM32 33h1v1h-1zM65 33h1v1h-1zM69 33h1v1h-1zM74 33h1v1h-1zM81 33h1v1h-1zM94 33h1v1h-1zM96 33h1v1h-1zM70 34h2v1h-2zM63 35h1v1h-1zM87 35h1v1h-1zM44 36h2v1h-2zM62 36h1v1h-1zM74 36h1v1h-1zM91 36h1v1h-1zM12 37h1v1h-1zM31 37h1v1h-1zM98 37h1v1h-1zM21 38h1v1h-1zM37 38h1v1h-1zM63 38h1v1h-1zM75 38h1v1h-1zM31 39h1v1h-1zM51 39h1v1h-1zM97 39h1v1h-1zM20 40h2v1h-2zM24 40h1v1h-1zM41 40h1v1h-1zM44 40h1v1h-1zM76 40h1v1h-1zM82 40h1v1h-1zM29 41h1v1h-1zM45 41h1v1h-1zM90 41h1v1h-1zM95 41h1v1h-1zM39 42h2v1h-2zM44 42h2v1h-2zM97 42h1v1h-1zM10 43h1v1h-1zM26 43h1v1h-1zM60 43h1v1h-1zM2 44h1v1h-1zM16 44h1v1h-1zM34 44h1v1h-1zM41 44h1v1h-1zM81 44h1v1h-1zM31 45h1v1h-1zM47 45h1v1h-1zM51 45h1v1h-1zM72 45h1v1h-1zM75 45h1v1h-1zM89 45h1v1h-1zM94 45h1v1h-1zM24 46h1v1h-1zM59 46h1v1h-1zM90 46h1v1h-1zM8 47h1v1h-1zM21 47h1v1h-1zM36 47h1v1h-1zM40 47h1v1h-1zM64 47h1v1h-1zM91 47h1v1h-1zM31 48h1v1h-1zM33 48h1v1h-1zM37 48h1v1h-1zM41 48h1v1h-1zM48 48h1v1h-1zM64 48h1v1h-1zM72 48h1v1h-1zM95 48h1v1h-1zM40 49h1v1h-1zM42 49h1v1h-1zM59 49h1v1h-1zM62 49h1v1h-1zM65 49h1v1h-1zM85 49h1v1h-1zM27 50h1v1h-1zM74 50h1v1h-1zM9 51h1v1h-1zM13 51h1v1h-1zM43 51h1v1h-1zM65 51h1v1h-1zM74 51h1v1h-1zM76 51h1v1h-1zM82 51h1v1h-1zM34 52h1v1h-1zM49 52h1v1h-1zM88 52h1v1h-1zM9 53h1v1h-1zM14 53h1v1h-1zM33 53h1v1h-1zM40 53h1v1h-1zM55 53h1v1h-1zM59 53h1v1h-1zM61 53h2v1h-2zM65 53h1v1h-1zM75 53h1v1h-1zM86 53h1v1h-1zM20 54h1v1h-1zM34 54h1v1h-1zM58 54h1v1h-1zM10 56h1v1h-1zM30 56h1v1h-1zM34 56h1v1h-1zM61 56h1v1h-1zM8 57h1v1h-1zM33 57h1v1h-1zM46 57h1v1h-1zM56 57h1v1h-1zM81 57h1v1h-1zM20 58h1v1h-1zM28 58h1v1h-1zM39 58h1v1h-1zM59 58h2v1h-2zM85 58h1v1h-1zM10 59h1v1h-1zM17 59h1v1h-1zM36 59h1v1h-1zM65 59h1v1h-1zM79 59h1v1h-1zM49 60h1v1h-1zM51 60h1v1h-1zM64 60h1v1h-1zM42 61h1v1h-1zM54 61h1v1h-1zM95 61h1v1h-1zM78 62h1v1h-1zM51 63h1v1h-1zM82 63h1v1h-1zM85 63h1v1h-1zM18 64h1v1h-1zM37 64h1v1h-1zM72 64h1v1h-1zM77 64h1v1h-1zM25 65h1v1h-1zM37 65h1v1h-1zM53 65h1v1h-1zM62 65h1v1h-1zM82 65h1v1h-1zM97 65h1v1h-1zM26 66h1v1h-1zM43 66h1v1h-1zM72 66h1v1h-1zM8 67h1v1h-1zM42 67h1v1h-1zM97 67h1v1h-1zM47 68h1v1h-1zM56 68h3v1h-3zM61 68h1v1h-1zM83 68h1v1h-1zM21 69h1v1h-1zM37 69h1v1h-1zM40 69h1v1h-1zM54 69h1v1h-1zM75 69h1v1h-1zM100 69h1v1h-1zM32 70h2v1h-2zM40 70h1v1h-1zM53 70h1v1h-1zM84 70h1v1h-1zM90 70h1v1h-1zM100 70h1v1h-1zM45 71h1v1h-1zM59 71h1v1h-1zM63 71h1v1h-1zM74 71h1v1h-1zM20 72h1v1h-1zM36 72h1v1h-1zM64 72h1v1h-1zM76 72h1v1h-1zM83 72h1v1h-1zM9 73h1v1h-1zM21 73h1v1h-1zM50 73h1v1h-1zM57 73h1v1h-1zM68 73h1v1h-1zM82 73h1v1h-1zM84 73h1v1h-1zM100 73h1v1h-1zM30 74h1v1h-1zM9 75h1v1h-1zM11 75h1v1h-1zM79 75h1v1h-1zM83 75h1v1h-1zM99 75h1v1h-1zM16 76h2v1h-2zM28 76h1v1h-1zM78 76h1v1h-1zM10 77h1v1h-1zM93 77h1v1h-1zM96 77h1v1h-1zM17 78h1v1h-1zM20 78h1v1h-1zM30 78h1v1h-1zM56 78h1v1h-1zM84 78h1v1h-1zM93 78h1v1h-1zM19 79h1v1h-1zM28 79h1v1h-1zM43 79h1v1h-1zM77 79h1v1h-1zM9 80h1v1h-1zM20 80h1v1h-1zM33 80h1v1h-1zM38 80h1v1h-1zM11 81h1v1h-1zM30 81h1v1h-1zM75 81h1v1h-1zM99 81h1v1h-1zM9 82h1v1h-1zM48 82h1v1h-1zM54 82h1v1h-1zM64 82h1v1h-1zM83 82h1v1h-1zM89 82h1v1h-1zM93 82h1v1h-1zM96 82h1v1h-1zM15 83h1v1h-1zM33 83h1v1h-1zM44 83h1v1h-1zM53 83h1v1h-1zM70 83h1v1h-1zM87 83h1v1h-1z" fill="#bfc0f6"/><path d="M8 0h1v1h-1zM24 0h1v1h-1zM68 0h1v1h-1zM78 0h1v1h-1zM80 0h1v1h-1zM96 0h1v1h-1zM26 1h1v1h-1zM73 1h1v1h-1zM75 1h1v1h-1zM89 1h1v1h-1zM33 2h1v1h-1zM50 2h1v1h-1zM55 2h1v1h-1zM85 2h1v1h-1zM99 2h1v1h-1zM3 3h1v1h-1zM11 3h1v1h-1zM68 3h1v1h-1zM97 3h1v1h-1zM17 4h1v1h-1zM67 4h1v1h-1zM71 4h1v1h-1zM21 5h1v1h-1zM25 5h1v1h-1zM32 5h1v1h-1zM38 5h1v1h-1zM57 5h1v1h-1zM77 5h1v1h-1zM92 5h1v1h-1zM19 6h1v1h-1zM25 6h1v1h-1zM32 6h1v1h-1zM38 6h1v1h-1zM51 6h1v1h-1zM95 6h1v1h-1zM11 7h2v1h-2zM39 7h1v1h-1zM81 7h1v1h-1zM90 7h1v1h-1zM34 8h1v1h-1zM49 8h1v1h-1zM59 8h1v1h-1zM96 8h1v1h-1zM19 9h2v1h-2zM36 9h1v1h-1zM42 9h1v1h-1zM61 9h1v1h-1zM95 9h1v1h-1zM8 10h1v1h-1zM46 10h1v1h-1zM54 10h1v1h-1zM11 11h1v1h-1zM62 11h1v1h-1zM64 11h1v1h-1zM94 11h1v1h-1zM10 12h1v1h-1zM20 12h1v1h-1zM43 12h1v1h-1zM67 12h1v1h-1zM86 12h1v1h-1zM26 13h1v1h-1zM70 13h1v1h-1zM79 13h1v1h-1zM85 13h1v1h-1zM43 14h1v1h-1zM52 14h2v1h-2zM56 14h1v1h-1zM90 14h1v1h-1zM15 15h1v1h-1zM37 15h1v1h-1zM41 15h1v1h-1zM69 15h1v1h-1zM37 16h1v1h-1zM59 16h1v1h-1zM82 16h1v1h-1zM91 16h1v1h-1zM94 16h1v1h-1zM33 17h1v1h-1zM54 17h1v1h-1zM66 17h2v1h-2zM29 18h1v1h-1zM63 18h1v1h-1zM74 18h1v1h-1zM20 20h1v1h-1zM24 20h1v1h-1zM39 20h1v1h-1zM45 20h1v1h-1zM57 20h1v1h-1zM63 20h1v1h-1zM41 21h1v1h-1zM55 21h1v1h-1zM83 22h2v1h-2zM86 22h1v1h-1zM14 23h1v1h-1zM33 23h1v1h-1zM62 23h1v1h-1zM12 24h1v1h-1zM35 24h1v1h-1zM57 24h1v1h-1zM95 24h1v1h-1zM54 25h1v1h-1zM58 25h1v1h-1zM11 26h1v1h-1zM24 26h1v1h-1zM51 26h1v1h-1zM74 26h1v1h-1zM78 26h1v1h-1zM12 27h1v1h-1zM33 27h1v1h-1zM89 27h1v1h-1zM31 28h1v1h-1zM41 28h1v1h-1zM68 28h1v1h-1zM6 29h1v1h-1zM16 29h1v1h-1zM82 29h1v1h-1zM95 29h1v1h-1zM99 29h1v1h-1zM26 30h1v1h-1zM52 30h1v1h-1zM54 30h1v1h-1zM91 30h1v1h-1zM9 31h1v1h-1zM16 31h1v1h-1zM36 31h1v1h-1zM51 31h1v1h-1zM55 31h1v1h-1zM77 31h1v1h-1zM83 31h1v1h-1zM86 31h1v1h-1zM88 31h1v1h-1zM33 32h1v1h-1zM35 32h1v1h-1zM37 32h1v1h-1zM42 32h1v1h-1zM65 32h1v1h-1zM98 32h1v1h-1zM13 33h1v1h-1zM23 33h1v1h-1zM26 33h1v1h-1zM39 33h1v1h-1zM61 33h1v1h-1zM16 34h1v1h-1zM29 34h1v1h-1zM32 34h1v1h-1zM66 34h1v1h-1zM69 34h1v1h-1zM31 35h1v1h-1zM97 35h1v1h-1zM20 36h1v1h-1zM42 36h1v1h-1zM56 36h1v1h-1zM93 36h1v1h-1zM38 37h1v1h-1zM41 37h1v1h-1zM47 37h1v1h-1zM56 37h1v1h-1zM64 37h1v1h-1zM75 37h1v1h-1zM83 37h1v1h-1zM91 37h1v1h-1zM27 38h1v1h-1zM85 38h1v1h-1zM77 39h1v1h-1zM84 39h1v1h-1zM11 40h1v1h-1zM18 40h1v1h-1zM40 40h1v1h-1zM47 40h1v1h-1zM50 40h1v1h-1zM77 40h1v1h-1zM84 40h1v1h-1zM93 40h1v1h-1zM4 41h1v1h-1zM38 41h1v1h-1zM27 42h1v1h-1zM36 42h1v1h-1zM48 42h1v1h-1zM55 42h1v1h-1zM58 42h1v1h-1zM60 42h1v1h-1zM74 42h1v1h-1zM9 43h1v1h-1zM38 43h1v1h-1zM47 43h1v1h-1zM64 43h1v1h-1zM76 43h1v1h-1zM52 44h1v1h-1zM28 45h1v1h-1zM38 45h1v1h-1zM93 45h1v1h-1zM13 46h1v1h-1zM35 46h1v1h-1zM44 46h1v1h-1zM96 46h1v1h-1zM44 47h1v1h-1zM79 47h1v1h-1zM9 48h1v1h-1zM50 48h1v1h-1zM8 49h1v1h-1zM32 49h1v1h-1zM41 49h1v1h-1zM47 49h2v1h-2zM78 49h1v1h-1zM25 50h1v1h-1zM30 51h1v1h-1zM35 51h1v1h-1zM38 51h1v1h-1zM47 51h1v1h-1zM86 51h1v1h-1zM24 52h1v1h-1zM33 52h1v1h-1zM51 52h1v1h-1zM97 52h1v1h-1zM8 53h1v1h-1zM54 53h1v1h-1zM82 53h1v1h-1zM75 54h1v1h-1zM21 55h1v1h-1zM28 55h1v1h-1zM98 55h1v1h-1zM39 56h1v1h-1zM44 56h1v1h-1zM74 56h1v1h-1zM86 56h1v1h-1zM25 57h1v1h-1zM55 57h1v1h-1zM58 57h1v1h-1zM89 57h1v1h-1zM50 58h1v1h-1zM77 58h1v1h-1zM89 58h1v1h-1zM98 58h1v1h-1zM8 59h1v1h-1zM63 59h1v1h-1zM93 59h1v1h-1zM21 60h1v1h-1zM43 60h1v1h-1zM52 60h1v1h-1zM62 60h1v1h-1zM41 61h1v1h-1zM44 61h1v1h-1zM52 61h1v1h-1zM75 61h2v1h-2zM83 61h1v1h-1zM35 62h1v1h-1zM40 62h1v1h-1zM56 62h1v1h-1zM67 62h1v1h-1zM88 62h1v1h-1zM19 63h1v1h-1zM39 63h1v1h-1zM46 63h1v1h-1zM93 63h1v1h-1zM30 64h1v1h-1zM62 64h1v1h-1zM21 65h1v1h-1zM36 65h1v1h-1zM46 65h1v1h-1zM51 65h1v1h-1zM81 65h1v1h-1zM83 66h1v1h-1zM50 67h1v1h-1zM55 67h1v1h-1zM68 67h1v1h-1zM100 67h1v1h-1zM14 68h1v1h-1zM33 68h1v1h-1zM72 68h1v1h-1zM89 68h1v1h-1zM91 68h1v1h-1zM99 68h1v1h-1zM14 69h1v1h-1zM24 69h1v1h-1zM32 69h1v1h-1zM48 69h1v1h-1zM51 69h1v1h-1zM1 70h1v1h-1zM22 70h1v1h-1zM29 70h1v1h-1zM37 70h2v1h-2zM45 70h1v1h-1zM58 70h1v1h-1zM97 70h2v1h-2zM50 71h1v1h-1zM79 71h1v1h-1zM89 71h1v1h-1zM95 71h1v1h-1zM28 72h1v1h-1zM39 72h1v1h-1zM68 72h1v1h-1zM18 73h1v1h-1zM36 73h1v1h-1zM39 73h1v1h-1zM74 73h1v1h-1zM81 73h1v1h-1zM99 73h1v1h-1zM20 74h1v1h-1zM31 74h1v1h-1zM38 74h1v1h-1zM82 74h1v1h-1zM56 75h1v1h-1zM92 75h1v1h-1zM27 76h1v1h-1zM29 76h1v1h-1zM38 76h1v1h-1zM59 76h1v1h-1zM99 76h1v1h-1zM21 77h1v1h-1zM24 77h1v1h-1zM28 78h1v1h-1zM32 78h1v1h-1zM68 78h1v1h-1zM77 78h1v1h-1zM87 78h1v1h-1zM18 79h1v1h-1zM22 79h1v1h-1zM24 79h1v1h-1zM27 79h1v1h-1zM53 79h1v1h-1zM79 79h1v1h-1zM88 79h1v1h-1zM36 80h1v1h-1zM68 80h1v1h-1zM78 80h1v1h-1zM98 80h1v1h-1zM0 81h1v1h-1zM25 81h1v1h-1zM35 81h1v1h-1zM49 81h1v1h-1zM53 81h1v1h-1zM84 81h1v1h-1zM17 82h1v1h-1zM21 82h1v1h-1zM25 82h1v1h-1zM28 82h1v1h-1zM44 82h1v1h-1zM57 82h1v1h-1zM65 82h1v1h-1zM75 82h1v1h-1zM86 82h3v1h-3zM94 82h1v1h-1zM12 83h1v1h-1zM21 83h1v1h-1zM31 83h1v1h-1zM48 83h1v1h-1zM50 83h1v1h-1zM63 83h1v1h-1zM68 83h2v1h-2z" fill="#cdcdf8"/><path d="M10 0h1v1h-1zM13 0h1v1h-1zM49 0h1v1h-1zM56 0h1v1h-1zM73 0h1v1h-1zM79 0h1v1h-1zM82 0h1v1h-1zM21 1h1v1h-1zM50 1h1v1h-1zM52 1h1v1h-1zM54 1h1v1h-1zM78 1h1v1h-1zM87 1h1v1h-1zM29 2h1v1h-1zM0 3h1v1h-1zM26 3h1v1h-1zM37 3h1v1h-1zM50 3h1v1h-1zM58 3h1v1h-1zM69 3h1v1h-1zM71 3h1v1h-1zM76 3h1v1h-1zM6 4h1v1h-1zM34 4h1v1h-1zM55 4h2v1h-2zM70 4h1v1h-1zM5 5h1v1h-1zM13 5h1v1h-1zM34 5h1v1h-1zM95 5h1v1h-1zM12 6h2v1h-2zM17 6h1v1h-1zM28 6h1v1h-1zM39 6h1v1h-1zM50 6h1v1h-1zM78 6h1v1h-1zM23 7h1v1h-1zM45 7h1v1h-1zM47 7h1v1h-1zM53 7h2v1h-2zM57 7h1v1h-1zM60 7h1v1h-1zM66 7h1v1h-1zM21 8h1v1h-1zM40 8h1v1h-1zM98 8h1v1h-1zM16 9h1v1h-1zM58 9h1v1h-1zM71 9h2v1h-2zM75 9h1v1h-1zM78 9h1v1h-1zM37 10h1v1h-1zM46 11h1v1h-1zM53 11h1v1h-1zM89 11h1v1h-1zM17 12h1v1h-1zM37 13h1v1h-1zM74 13h2v1h-2zM92 13h1v1h-1zM31 14h1v1h-1zM34 14h1v1h-1zM83 14h1v1h-1zM94 14h1v1h-1zM12 15h1v1h-1zM54 15h1v1h-1zM70 15h1v1h-1zM84 15h1v1h-1zM43 16h1v1h-1zM46 16h1v1h-1zM56 16h1v1h-1zM61 16h1v1h-1zM93 16h1v1h-1zM16 17h1v1h-1zM23 17h1v1h-1zM43 17h1v1h-1zM53 17h1v1h-1zM65 17h1v1h-1zM89 17h1v1h-1zM94 17h1v1h-1zM100 17h1v1h-1zM65 18h1v1h-1zM68 18h1v1h-1zM11 19h1v1h-1zM31 19h1v1h-1zM40 19h1v1h-1zM48 19h1v1h-1zM54 19h1v1h-1zM59 19h1v1h-1zM79 19h1v1h-1zM87 19h1v1h-1zM35 20h1v1h-1zM51 20h1v1h-1zM56 20h1v1h-1zM62 20h1v1h-1zM94 20h1v1h-1zM11 21h1v1h-1zM24 21h1v1h-1zM28 21h1v1h-1zM53 21h1v1h-1zM96 21h1v1h-1zM18 22h1v1h-1zM27 22h1v1h-1zM37 22h1v1h-1zM48 22h1v1h-1zM63 22h1v1h-1zM74 22h1v1h-1zM19 23h2v1h-2zM55 23h1v1h-1zM66 23h1v1h-1zM69 23h1v1h-1zM98 23h1v1h-1zM37 24h1v1h-1zM52 24h1v1h-1zM64 24h1v1h-1zM14 25h1v1h-1zM28 25h1v1h-1zM51 25h1v1h-1zM53 25h1v1h-1zM59 25h1v1h-1zM79 25h1v1h-1zM29 26h1v1h-1zM34 26h1v1h-1zM40 26h1v1h-1zM52 26h1v1h-1zM60 26h2v1h-2zM90 26h1v1h-1zM100 26h1v1h-1zM25 27h1v1h-1zM33 28h1v1h-1zM37 28h1v1h-1zM59 28h1v1h-1zM86 28h1v1h-1zM88 28h1v1h-1zM12 29h1v1h-1zM78 29h1v1h-1zM92 29h1v1h-1zM27 30h1v1h-1zM31 30h1v1h-1zM57 30h2v1h-2zM68 30h1v1h-1zM83 30h1v1h-1zM5 31h1v1h-1zM95 31h1v1h-1zM7 32h1v1h-1zM18 32h1v1h-1zM50 32h1v1h-1zM57 32h1v1h-1zM66 32h2v1h-2zM88 32h1v1h-1zM11 33h1v1h-1zM44 33h1v1h-1zM46 33h1v1h-1zM71 33h1v1h-1zM86 33h1v1h-1zM40 34h2v1h-2zM62 34h1v1h-1zM99 34h1v1h-1zM22 35h1v1h-1zM53 35h1v1h-1zM80 35h1v1h-1zM93 35h1v1h-1zM9 36h1v1h-1zM46 36h1v1h-1zM98 36h1v1h-1zM8 37h1v1h-1zM53 37h1v1h-1zM79 37h1v1h-1zM87 37h1v1h-1zM48 38h1v1h-1zM64 38h1v1h-1zM73 38h1v1h-1zM21 39h1v1h-1zM27 39h1v1h-1zM30 39h1v1h-1zM57 39h1v1h-1zM70 39h1v1h-1zM86 39h1v1h-1zM12 40h1v1h-1zM17 40h1v1h-1zM43 40h1v1h-1zM92 40h1v1h-1zM98 40h1v1h-1zM10 41h1v1h-1zM24 41h1v1h-1zM69 41h1v1h-1zM61 42h1v1h-1zM87 42h1v1h-1zM24 43h1v1h-1zM53 43h1v1h-1zM90 43h2v1h-2zM10 44h1v1h-1zM75 44h1v1h-1zM78 44h2v1h-2zM12 45h1v1h-1zM19 45h1v1h-1zM54 45h1v1h-1zM95 45h1v1h-1zM16 46h1v1h-1zM28 46h1v1h-1zM49 46h1v1h-1zM60 46h1v1h-1zM80 46h1v1h-1zM93 46h1v1h-1zM19 47h1v1h-1zM35 47h1v1h-1zM50 47h1v1h-1zM56 47h1v1h-1zM66 47h1v1h-1zM30 48h1v1h-1zM44 48h1v1h-1zM65 48h1v1h-1zM1 49h1v1h-1zM29 49h2v1h-2zM98 49h1v1h-1zM18 50h1v1h-1zM51 50h1v1h-1zM66 50h1v1h-1zM77 50h1v1h-1zM91 50h1v1h-1zM0 51h1v1h-1zM45 51h1v1h-1zM79 51h1v1h-1zM83 51h1v1h-1zM97 51h1v1h-1zM61 52h1v1h-1zM67 52h1v1h-1zM86 52h1v1h-1zM28 53h1v1h-1zM35 53h1v1h-1zM84 53h1v1h-1zM94 53h1v1h-1zM99 53h1v1h-1zM27 54h1v1h-1zM56 54h1v1h-1zM84 54h1v1h-1zM92 54h1v1h-1zM8 55h1v1h-1zM58 55h1v1h-1zM75 55h1v1h-1zM96 55h1v1h-1zM14 56h1v1h-1zM49 56h1v1h-1zM52 56h1v1h-1zM78 56h1v1h-1zM87 56h1v1h-1zM92 56h1v1h-1zM31 57h1v1h-1zM37 57h1v1h-1zM43 57h1v1h-1zM71 57h1v1h-1zM85 57h1v1h-1zM13 58h1v1h-1zM48 58h1v1h-1zM64 58h1v1h-1zM11 59h1v1h-1zM59 59h1v1h-1zM95 59h1v1h-1zM19 60h1v1h-1zM96 60h1v1h-1zM10 61h1v1h-1zM13 61h1v1h-1zM25 61h1v1h-1zM28 61h1v1h-1zM32 61h1v1h-1zM37 62h1v1h-1zM70 62h1v1h-1zM79 62h1v1h-1zM97 62h1v1h-1zM30 63h1v1h-1zM33 63h1v1h-1zM66 63h1v1h-1zM84 63h1v1h-1zM87 63h1v1h-1zM12 64h1v1h-1zM47 64h1v1h-1zM71 64h1v1h-1zM79 64h1v1h-1zM98 64h1v1h-1zM13 65h1v1h-1zM16 65h1v1h-1zM70 65h2v1h-2zM15 66h1v1h-1zM29 66h1v1h-1zM45 66h1v1h-1zM85 66h1v1h-1zM87 66h1v1h-1zM89 66h1v1h-1zM98 66h1v1h-1zM14 67h1v1h-1zM17 67h1v1h-1zM44 67h1v1h-1zM54 67h1v1h-1zM61 67h1v1h-1zM73 67h1v1h-1zM88 67h1v1h-1zM96 67h1v1h-1zM24 68h1v1h-1zM36 68h1v1h-1zM38 68h1v1h-1zM41 68h1v1h-1zM49 68h1v1h-1zM71 68h1v1h-1zM88 68h1v1h-1zM56 69h1v1h-1zM58 69h1v1h-1zM60 69h1v1h-1zM69 69h1v1h-1zM72 69h1v1h-1zM79 69h1v1h-1zM91 69h2v1h-2zM13 70h1v1h-1zM25 70h1v1h-1zM31 70h1v1h-1zM65 70h1v1h-1zM77 70h1v1h-1zM93 70h3v1h-3zM11 71h1v1h-1zM22 71h1v1h-1zM99 71h1v1h-1zM5 72h1v1h-1zM86 72h1v1h-1zM94 72h1v1h-1zM32 73h1v1h-1zM38 73h1v1h-1zM46 73h1v1h-1zM91 73h2v1h-2zM18 74h1v1h-1zM62 74h1v1h-1zM68 74h1v1h-1zM72 74h1v1h-1zM12 75h1v1h-1zM22 75h2v1h-2zM35 75h1v1h-1zM48 75h1v1h-1zM68 75h1v1h-1zM88 75h1v1h-1zM10 76h2v1h-2zM61 76h1v1h-1zM88 76h2v1h-2zM42 77h1v1h-1zM47 77h1v1h-1zM52 77h2v1h-2zM95 77h1v1h-1zM19 78h1v1h-1zM31 78h1v1h-1zM53 78h1v1h-1zM64 79h1v1h-1zM97 79h1v1h-1zM69 80h1v1h-1zM72 81h1v1h-1zM74 81h1v1h-1zM93 81h1v1h-1zM13 82h1v1h-1zM19 82h1v1h-1zM32 82h1v1h-1zM42 82h1v1h-1zM63 82h1v1h-1zM66 82h1v1h-1zM92 82h1v1h-1zM18 83h2v1h-2zM40 83h1v1h-1zM98 83h1v1h-1z" fill="#e1e1fa"/><path d="M9 0h1v1h-1zM21 0h1v1h-1zM59 0h1v1h-1zM83 0h2v1h-2zM88 0h1v1h-1zM22 1h1v1h-1zM24 1h1v1h-1zM66 1h1v1h-1zM12 2h1v1h-1zM22 2h1v1h-1zM35 2h1v1h-1zM40 2h1v1h-1zM52 2h1v1h-1zM78 2h1v1h-1zM81 2h1v1h-1zM9 3h1v1h-1zM24 3h1v1h-1zM27 3h1v1h-1zM31 3h1v1h-1zM26 4h1v1h-1zM89 4h1v1h-1zM17 5h1v1h-1zM33 5h1v1h-1zM46 5h1v1h-1zM52 5h1v1h-1zM58 5h1v1h-1zM48 6h1v1h-1zM86 6h1v1h-1zM28 7h1v1h-1zM33 7h1v1h-1zM71 7h1v1h-1zM78 7h1v1h-1zM83 7h1v1h-1zM97 7h1v1h-1zM15 8h1v1h-1zM42 8h1v1h-1zM75 8h1v1h-1zM16 10h1v1h-1zM58 10h1v1h-1zM74 10h1v1h-1zM88 10h1v1h-1zM91 10h1v1h-1zM96 10h1v1h-1zM12 11h1v1h-1zM35 11h1v1h-1zM50 11h1v1h-1zM13 12h1v1h-1zM15 12h1v1h-1zM27 12h1v1h-1zM42 12h1v1h-1zM53 12h1v1h-1zM79 12h1v1h-1zM96 12h1v1h-1zM27 13h1v1h-1zM32 13h1v1h-1zM50 13h1v1h-1zM23 14h1v1h-1zM64 14h1v1h-1zM17 15h1v1h-1zM35 15h1v1h-1zM53 15h1v1h-1zM8 16h1v1h-1zM69 16h1v1h-1zM15 17h1v1h-1zM39 17h1v1h-1zM59 17h1v1h-1zM62 17h2v1h-2zM86 17h1v1h-1zM91 17h1v1h-1zM31 18h1v1h-1zM84 18h1v1h-1zM8 19h1v1h-1zM10 19h1v1h-1zM29 19h1v1h-1zM70 19h1v1h-1zM27 21h1v1h-1zM69 21h1v1h-1zM14 22h1v1h-1zM25 22h1v1h-1zM30 22h1v1h-1zM58 22h1v1h-1zM67 22h2v1h-2zM35 23h2v1h-2zM49 23h1v1h-1zM87 23h1v1h-1zM94 23h1v1h-1zM36 24h1v1h-1zM40 24h1v1h-1zM53 24h1v1h-1zM69 24h1v1h-1zM29 25h1v1h-1zM35 25h2v1h-2zM93 25h2v1h-2zM8 26h1v1h-1zM32 26h1v1h-1zM38 26h1v1h-1zM80 26h1v1h-1zM86 26h1v1h-1zM31 27h1v1h-1zM43 27h1v1h-1zM46 27h1v1h-1zM99 27h1v1h-1zM48 28h1v1h-1zM64 28h1v1h-1zM72 28h1v1h-1zM79 28h1v1h-1zM28 29h1v1h-1zM47 29h1v1h-1zM87 29h1v1h-1zM12 30h1v1h-1zM37 30h1v1h-1zM72 30h1v1h-1zM76 30h1v1h-1zM89 30h2v1h-2zM21 31h1v1h-1zM26 31h1v1h-1zM34 31h1v1h-1zM38 31h1v1h-1zM43 31h1v1h-1zM52 31h1v1h-1zM54 31h1v1h-1zM65 31h1v1h-1zM23 32h1v1h-1zM79 32h2v1h-2zM96 32h1v1h-1zM27 33h1v1h-1zM41 33h1v1h-1zM76 33h1v1h-1zM95 33h1v1h-1zM97 33h1v1h-1zM24 34h1v1h-1zM36 34h1v1h-1zM72 34h1v1h-1zM89 34h1v1h-1zM13 36h1v1h-1zM24 36h1v1h-1zM52 36h1v1h-1zM59 36h1v1h-1zM77 36h1v1h-1zM88 36h1v1h-1zM90 36h1v1h-1zM100 36h1v1h-1zM18 37h1v1h-1zM49 37h1v1h-1zM10 38h1v1h-1zM18 38h1v1h-1zM28 38h1v1h-1zM39 38h1v1h-1zM50 38h1v1h-1zM13 39h1v1h-1zM78 39h1v1h-1zM30 40h1v1h-1zM51 40h1v1h-1zM79 40h1v1h-1zM42 41h1v1h-1zM61 41h1v1h-1zM87 41h1v1h-1zM47 42h1v1h-1zM62 42h1v1h-1zM88 42h1v1h-1zM13 43h1v1h-1zM17 43h1v1h-1zM37 43h1v1h-1zM42 43h1v1h-1zM67 43h1v1h-1zM81 43h1v1h-1zM22 44h1v1h-1zM47 44h1v1h-1zM54 44h1v1h-1zM59 44h1v1h-1zM73 44h1v1h-1zM86 44h1v1h-1zM70 45h1v1h-1zM14 46h1v1h-1zM30 46h1v1h-1zM50 46h1v1h-1zM64 46h1v1h-1zM89 46h1v1h-1zM30 47h1v1h-1zM26 48h1v1h-1zM47 48h1v1h-1zM84 48h1v1h-1zM91 48h1v1h-1zM94 48h1v1h-1zM44 49h1v1h-1zM64 49h1v1h-1zM26 50h1v1h-1zM32 50h1v1h-1zM40 50h1v1h-1zM42 50h1v1h-1zM53 50h1v1h-1zM70 50h1v1h-1zM94 50h1v1h-1zM56 51h1v1h-1zM71 51h1v1h-1zM94 51h1v1h-1zM47 52h1v1h-1zM60 52h1v1h-1zM63 52h1v1h-1zM69 52h1v1h-1zM75 52h1v1h-1zM77 52h2v1h-2zM42 53h1v1h-1zM11 54h1v1h-1zM17 54h1v1h-1zM24 54h2v1h-2zM68 54h1v1h-1zM71 54h1v1h-1zM95 54h1v1h-1zM19 55h1v1h-1zM50 55h1v1h-1zM27 56h1v1h-1zM47 56h1v1h-1zM51 56h1v1h-1zM54 56h1v1h-1zM58 56h1v1h-1zM66 56h1v1h-1zM69 56h1v1h-1zM12 57h1v1h-1zM39 57h1v1h-1zM63 57h1v1h-1zM17 58h2v1h-2zM32 58h1v1h-1zM37 58h1v1h-1zM44 58h1v1h-1zM68 58h1v1h-1zM97 58h1v1h-1zM9 59h1v1h-1zM16 59h1v1h-1zM31 59h1v1h-1zM33 59h1v1h-1zM38 59h1v1h-1zM46 59h1v1h-1zM70 59h1v1h-1zM83 59h1v1h-1zM99 59h1v1h-1zM23 60h1v1h-1zM28 60h1v1h-1zM79 60h1v1h-1zM19 61h1v1h-1zM38 61h1v1h-1zM40 61h1v1h-1zM45 61h1v1h-1zM98 61h1v1h-1zM16 62h1v1h-1zM30 62h1v1h-1zM53 62h1v1h-1zM77 62h1v1h-1zM87 62h1v1h-1zM14 63h1v1h-1zM44 63h1v1h-1zM70 63h1v1h-1zM73 63h1v1h-1zM88 63h1v1h-1zM24 64h1v1h-1zM32 64h1v1h-1zM44 64h1v1h-1zM75 64h1v1h-1zM61 65h1v1h-1zM65 65h1v1h-1zM68 65h1v1h-1zM72 65h1v1h-1zM75 65h1v1h-1zM92 65h1v1h-1zM16 66h1v1h-1zM30 66h1v1h-1zM32 66h1v1h-1zM34 66h1v1h-1zM54 66h1v1h-1zM60 66h1v1h-1zM86 66h1v1h-1zM97 66h1v1h-1zM32 67h1v1h-1zM39 67h1v1h-1zM74 67h1v1h-1zM76 67h1v1h-1zM50 68h1v1h-1zM87 68h1v1h-1zM92 68h1v1h-1zM97 68h1v1h-1zM34 69h1v1h-1zM45 69h1v1h-1zM76 69h1v1h-1zM11 70h1v1h-1zM15 70h1v1h-1zM60 70h1v1h-1zM62 70h1v1h-1zM15 71h1v1h-1zM17 71h1v1h-1zM24 71h1v1h-1zM30 71h1v1h-1zM32 71h1v1h-1zM37 71h1v1h-1zM51 71h1v1h-1zM66 71h1v1h-1zM18 72h1v1h-1zM21 72h1v1h-1zM38 72h1v1h-1zM49 72h1v1h-1zM54 72h1v1h-1zM75 72h1v1h-1zM11 73h1v1h-1zM51 73h1v1h-1zM27 74h1v1h-1zM34 74h1v1h-1zM42 74h1v1h-1zM49 74h1v1h-1zM52 74h1v1h-1zM86 74h1v1h-1zM46 75h1v1h-1zM81 75h1v1h-1zM93 75h1v1h-1zM8 76h1v1h-1zM94 76h1v1h-1zM8 77h1v1h-1zM22 77h1v1h-1zM50 77h1v1h-1zM27 78h1v1h-1zM39 78h1v1h-1zM67 78h1v1h-1zM91 78h1v1h-1zM31 79h1v1h-1zM75 79h1v1h-1zM89 79h1v1h-1zM52 80h1v1h-1zM22 81h1v1h-1zM45 81h1v1h-1zM65 81h1v1h-1zM76 81h1v1h-1zM81 81h3v1h-3zM87 81h1v1h-1zM79 82h1v1h-1zM8 83h1v1h-1zM13 83h1v1h-1zM83 83h1v1h-1zM90 83h1v1h-1zM96 83h1v1h-1z" fill="#f6f4fc"/><path d="M19 0h1v1h-1zM57 0h1v1h-1zM18 1h1v1h-1zM32 1h1v1h-1zM35 1h1v1h-1zM47 1h1v1h-1zM11 2h1v1h-1zM53 2h1v1h-1zM62 2h1v1h-1zM15 3h1v1h-1zM28 3h1v1h-1zM59 3h1v1h-1zM73 3h1v1h-1zM77 3h1v1h-1zM82 3h1v1h-1zM49 4h1v1h-1zM58 4h1v1h-1zM16 5h1v1h-1zM19 5h1v1h-1zM50 5h1v1h-1zM76 5h1v1h-1zM83 5h1v1h-1zM8 6h1v1h-1zM20 6h1v1h-1zM56 6h1v1h-1zM64 6h1v1h-1zM9 7h1v1h-1zM41 7h1v1h-1zM85 7h1v1h-1zM11 8h1v1h-1zM30 8h1v1h-1zM41 8h1v1h-1zM76 8h1v1h-1zM31 9h1v1h-1zM33 9h1v1h-1zM81 9h1v1h-1zM15 10h1v1h-1zM35 10h1v1h-1zM51 10h1v1h-1zM68 10h1v1h-1zM76 10h1v1h-1zM86 10h1v1h-1zM37 11h1v1h-1zM57 11h1v1h-1zM79 11h1v1h-1zM98 11h1v1h-1zM22 12h1v1h-1zM45 12h1v1h-1zM65 12h1v1h-1zM73 12h1v1h-1zM77 12h1v1h-1zM43 13h1v1h-1zM62 13h1v1h-1zM72 13h1v1h-1zM29 14h2v1h-2zM97 15h1v1h-1zM16 16h1v1h-1zM39 16h1v1h-1zM83 16h1v1h-1zM88 16h1v1h-1zM34 17h1v1h-1zM47 18h1v1h-1zM55 18h1v1h-1zM61 18h1v1h-1zM77 18h1v1h-1zM19 19h1v1h-1zM84 19h1v1h-1zM96 19h1v1h-1zM17 20h1v1h-1zM33 20h1v1h-1zM60 20h1v1h-1zM77 20h1v1h-1zM12 21h1v1h-1zM21 21h1v1h-1zM39 21h1v1h-1zM54 21h1v1h-1zM76 21h1v1h-1zM98 22h1v1h-1zM46 23h1v1h-1zM64 23h1v1h-1zM25 24h1v1h-1zM60 24h1v1h-1zM79 24h1v1h-1zM86 24h1v1h-1zM17 25h2v1h-2zM24 25h1v1h-1zM89 25h1v1h-1zM13 26h1v1h-1zM25 26h1v1h-1zM99 26h1v1h-1zM51 27h1v1h-1zM11 28h1v1h-1zM18 28h1v1h-1zM27 28h1v1h-1zM90 28h1v1h-1zM35 29h1v1h-1zM22 30h1v1h-1zM74 30h1v1h-1zM85 30h1v1h-1zM29 31h1v1h-1zM59 31h1v1h-1zM75 31h1v1h-1zM82 31h1v1h-1zM21 32h1v1h-1zM70 32h1v1h-1zM76 32h2v1h-2zM91 32h1v1h-1zM99 32h1v1h-1zM28 33h1v1h-1zM59 33h1v1h-1zM72 33h1v1h-1zM19 34h1v1h-1zM11 35h1v1h-1zM18 35h1v1h-1zM26 35h1v1h-1zM58 35h1v1h-1zM89 35h1v1h-1zM17 36h1v1h-1zM39 36h1v1h-1zM53 36h1v1h-1zM39 37h1v1h-1zM48 37h1v1h-1zM54 37h1v1h-1zM95 37h1v1h-1zM17 38h1v1h-1zM35 38h1v1h-1zM42 38h1v1h-1zM47 38h1v1h-1zM54 38h1v1h-1zM87 38h1v1h-1zM90 38h1v1h-1zM17 39h1v1h-1zM59 39h1v1h-1zM57 40h1v1h-1zM73 40h1v1h-1zM85 40h1v1h-1zM20 41h1v1h-1zM50 41h1v1h-1zM59 41h1v1h-1zM12 42h1v1h-1zM19 42h1v1h-1zM29 42h1v1h-1zM52 42h1v1h-1zM59 42h1v1h-1zM82 42h2v1h-2zM85 42h1v1h-1zM91 42h1v1h-1zM30 43h1v1h-1zM35 43h1v1h-1zM54 43h1v1h-1zM74 43h1v1h-1zM77 43h1v1h-1zM51 44h1v1h-1zM66 44h1v1h-1zM23 45h1v1h-1zM52 45h1v1h-1zM66 45h1v1h-1zM68 45h1v1h-1zM97 45h1v1h-1zM10 46h1v1h-1zM23 46h1v1h-1zM92 46h1v1h-1zM94 46h1v1h-1zM55 47h1v1h-1zM76 47h1v1h-1zM62 48h1v1h-1zM27 49h1v1h-1zM88 49h1v1h-1zM97 49h1v1h-1zM100 49h1v1h-1zM52 50h1v1h-1zM90 50h1v1h-1zM60 51h1v1h-1zM72 51h1v1h-1zM98 51h1v1h-1zM39 52h2v1h-2zM55 52h1v1h-1zM58 52h1v1h-1zM76 52h1v1h-1zM38 53h1v1h-1zM67 53h1v1h-1zM83 53h1v1h-1zM95 53h1v1h-1zM22 54h1v1h-1zM49 54h1v1h-1zM59 54h1v1h-1zM89 54h1v1h-1zM9 55h1v1h-1zM23 55h2v1h-2zM34 55h1v1h-1zM38 55h1v1h-1zM51 55h1v1h-1zM54 55h1v1h-1zM79 55h1v1h-1zM88 55h1v1h-1zM19 56h1v1h-1zM22 56h1v1h-1zM29 56h1v1h-1zM38 56h1v1h-1zM40 56h1v1h-1zM42 56h1v1h-1zM81 56h1v1h-1zM36 57h1v1h-1zM9 58h1v1h-1zM24 58h1v1h-1zM100 58h1v1h-1zM54 59h1v1h-1zM92 59h1v1h-1zM98 59h1v1h-1zM67 60h2v1h-2zM64 62h1v1h-1zM18 63h1v1h-1zM40 63h1v1h-1zM56 63h1v1h-1zM28 64h2v1h-2zM34 64h1v1h-1zM53 64h1v1h-1zM11 65h1v1h-1zM30 65h1v1h-1zM47 65h1v1h-1zM94 65h1v1h-1zM98 65h1v1h-1zM48 66h1v1h-1zM68 66h1v1h-1zM22 67h1v1h-1zM43 67h1v1h-1zM70 67h1v1h-1zM86 67h1v1h-1zM17 68h1v1h-1zM94 68h1v1h-1zM9 69h1v1h-1zM16 69h1v1h-1zM47 69h1v1h-1zM19 70h1v1h-1zM67 70h1v1h-1zM69 70h1v1h-1zM10 71h1v1h-1zM39 71h1v1h-1zM27 72h1v1h-1zM37 72h1v1h-1zM67 72h1v1h-1zM73 72h1v1h-1zM84 72h1v1h-1zM17 73h1v1h-1zM52 73h1v1h-1zM61 73h2v1h-2zM95 73h1v1h-1zM53 74h1v1h-1zM75 74h1v1h-1zM85 74h1v1h-1zM97 74h1v1h-1zM37 75h1v1h-1zM57 75h1v1h-1zM37 76h1v1h-1zM74 76h1v1h-1zM80 76h1v1h-1zM100 76h1v1h-1zM23 77h1v1h-1zM30 77h1v1h-1zM86 77h1v1h-1zM90 77h1v1h-1zM22 78h1v1h-1zM51 78h1v1h-1zM61 78h1v1h-1zM75 78h1v1h-1zM47 79h1v1h-1zM67 79h1v1h-1zM81 79h2v1h-2zM84 79h1v1h-1zM95 79h1v1h-1zM27 80h1v1h-1zM51 80h1v1h-1zM58 80h1v1h-1zM86 80h1v1h-1zM19 81h1v1h-1zM97 81h1v1h-1zM22 82h1v1h-1zM60 82h1v1h-1zM67 82h1v1h-1zM17 83h1v1h-1zM36 83h1v1h-1zM52 83h1v1h-1zM84 83h1v1h-1z" fill="#f7d2d5"/><path d="M33 0h1v1h-1zM53 0h1v1h-1zM23 1h1v1h-1zM30 1h1v1h-1zM46 1h1v1h-1zM60 1h2v1h-2zM76 1h1v1h-1zM88 1h1v1h-1zM15 2h1v1h-1zM44 2h1v1h-1zM88 2h2v1h-2zM21 3h1v1h-1zM38 3h1v1h-1zM42 3h1v1h-1zM62 3h1v1h-1zM70 3h1v1h-1zM21 4h1v1h-1zM23 4h1v1h-1zM41 4h1v1h-1zM18 5h1v1h-1zM67 5h1v1h-1zM10 6h1v1h-1zM37 6h1v1h-1zM74 6h1v1h-1zM100 6h1v1h-1zM8 7h1v1h-1zM13 7h1v1h-1zM21 7h1v1h-1zM46 7h1v1h-1zM50 7h1v1h-1zM94 7h1v1h-1zM19 8h1v1h-1zM36 8h1v1h-1zM52 8h1v1h-1zM64 8h1v1h-1zM72 8h1v1h-1zM80 8h1v1h-1zM25 9h1v1h-1zM45 9h1v1h-1zM56 9h1v1h-1zM64 9h1v1h-1zM67 9h1v1h-1zM27 10h1v1h-1zM45 10h1v1h-1zM23 11h1v1h-1zM11 12h1v1h-1zM47 12h1v1h-1zM57 12h1v1h-1zM60 12h1v1h-1zM84 12h1v1h-1zM8 13h2v1h-2zM25 13h1v1h-1zM49 13h1v1h-1zM55 13h1v1h-1zM68 13h1v1h-1zM18 14h1v1h-1zM45 14h1v1h-1zM13 15h1v1h-1zM52 15h1v1h-1zM55 15h1v1h-1zM59 15h1v1h-1zM63 15h1v1h-1zM34 16h1v1h-1zM11 17h1v1h-1zM13 17h2v1h-2zM22 17h1v1h-1zM37 17h1v1h-1zM50 17h2v1h-2zM82 17h1v1h-1zM92 17h1v1h-1zM10 18h1v1h-1zM23 18h1v1h-1zM82 18h1v1h-1zM50 19h1v1h-1zM52 19h1v1h-1zM83 19h1v1h-1zM28 20h1v1h-1zM68 20h1v1h-1zM73 20h1v1h-1zM80 20h1v1h-1zM36 21h1v1h-1zM57 21h1v1h-1zM78 21h1v1h-1zM34 22h1v1h-1zM66 22h1v1h-1zM97 22h1v1h-1zM48 23h1v1h-1zM61 23h1v1h-1zM89 23h2v1h-2zM92 23h1v1h-1zM95 23h1v1h-1zM15 24h1v1h-1zM67 24h1v1h-1zM82 24h1v1h-1zM23 25h1v1h-1zM48 25h1v1h-1zM55 25h1v1h-1zM73 26h1v1h-1zM95 27h1v1h-1zM16 28h1v1h-1zM10 29h1v1h-1zM20 30h1v1h-1zM47 30h1v1h-1zM51 30h1v1h-1zM94 30h1v1h-1zM98 30h1v1h-1zM15 31h1v1h-1zM50 31h1v1h-1zM53 31h1v1h-1zM67 31h1v1h-1zM80 31h1v1h-1zM96 31h1v1h-1zM99 31h1v1h-1zM25 32h1v1h-1zM63 32h1v1h-1zM86 32h1v1h-1zM93 32h1v1h-1zM17 33h1v1h-1zM80 33h1v1h-1zM48 34h1v1h-1zM50 34h1v1h-1zM80 34h1v1h-1zM96 34h1v1h-1zM13 35h1v1h-1zM16 35h2v1h-2zM20 35h1v1h-1zM35 35h1v1h-1zM69 35h1v1h-1zM77 35h1v1h-1zM21 36h1v1h-1zM28 36h2v1h-2zM37 36h1v1h-1zM68 36h1v1h-1zM22 38h1v1h-1zM32 38h1v1h-1zM36 38h1v1h-1zM49 38h1v1h-1zM28 39h1v1h-1zM46 39h1v1h-1zM52 39h1v1h-1zM71 39h1v1h-1zM26 40h1v1h-1zM29 40h1v1h-1zM16 41h1v1h-1zM27 41h1v1h-1zM56 41h1v1h-1zM89 41h1v1h-1zM99 41h2v1h-2zM25 42h1v1h-1zM70 42h1v1h-1zM79 42h1v1h-1zM92 42h1v1h-1zM40 43h1v1h-1zM58 43h1v1h-1zM75 43h1v1h-1zM78 43h1v1h-1zM13 44h1v1h-1zM98 45h1v1h-1zM8 46h2v1h-2zM41 46h1v1h-1zM63 46h1v1h-1zM95 46h1v1h-1zM39 47h1v1h-1zM58 47h1v1h-1zM95 47h1v1h-1zM59 48h1v1h-1zM67 48h1v1h-1zM79 48h1v1h-1zM92 48h1v1h-1zM10 49h1v1h-1zM71 49h1v1h-1zM87 49h1v1h-1zM12 50h1v1h-1zM17 50h1v1h-1zM20 50h1v1h-1zM22 50h1v1h-1zM33 50h1v1h-1zM56 50h1v1h-1zM60 50h1v1h-1zM17 51h1v1h-1zM21 51h1v1h-1zM27 51h1v1h-1zM29 52h1v1h-1zM74 52h1v1h-1zM80 52h1v1h-1zM85 52h1v1h-1zM91 52h1v1h-1zM98 52h1v1h-1zM18 53h1v1h-1zM22 53h1v1h-1zM72 53h1v1h-1zM77 53h1v1h-1zM13 54h1v1h-1zM38 54h1v1h-1zM53 54h1v1h-1zM57 54h1v1h-1zM72 54h1v1h-1zM87 54h2v1h-2zM93 54h1v1h-1zM11 55h1v1h-1zM22 55h1v1h-1zM43 55h1v1h-1zM67 55h1v1h-1zM72 55h1v1h-1zM94 55h1v1h-1zM100 55h1v1h-1zM8 56h1v1h-1zM37 56h1v1h-1zM41 56h1v1h-1zM64 56h1v1h-1zM80 56h1v1h-1zM97 56h1v1h-1zM44 57h1v1h-1zM88 57h1v1h-1zM99 57h1v1h-1zM43 58h1v1h-1zM51 58h1v1h-1zM62 58h1v1h-1zM88 58h1v1h-1zM47 59h2v1h-2zM91 59h1v1h-1zM38 60h1v1h-1zM9 61h1v1h-1zM56 61h2v1h-2zM75 62h1v1h-1zM91 62h1v1h-1zM29 63h1v1h-1zM47 63h1v1h-1zM52 63h1v1h-1zM81 63h1v1h-1zM97 63h1v1h-1zM26 64h1v1h-1zM38 64h1v1h-1zM84 64h2v1h-2zM97 64h1v1h-1zM45 65h1v1h-1zM79 65h1v1h-1zM88 65h1v1h-1zM12 66h2v1h-2zM47 66h1v1h-1zM94 66h1v1h-1zM46 67h1v1h-1zM72 67h1v1h-1zM99 67h1v1h-1zM23 68h1v1h-1zM45 68h1v1h-1zM98 68h1v1h-1zM63 69h1v1h-1zM36 70h1v1h-1zM72 70h1v1h-1zM78 70h1v1h-1zM13 71h1v1h-1zM19 71h1v1h-1zM73 71h1v1h-1zM42 72h1v1h-1zM62 72h2v1h-2zM79 72h1v1h-1zM81 72h1v1h-1zM10 73h1v1h-1zM33 73h1v1h-1zM54 73h1v1h-1zM58 73h1v1h-1zM40 74h1v1h-1zM46 74h1v1h-1zM56 74h1v1h-1zM76 74h1v1h-1zM34 76h1v1h-1zM47 76h1v1h-1zM63 76h2v1h-2zM84 76h1v1h-1zM90 76h1v1h-1zM96 76h1v1h-1zM31 77h1v1h-1zM41 77h1v1h-1zM43 77h1v1h-1zM70 77h1v1h-1zM85 77h1v1h-1zM100 77h1v1h-1zM21 78h1v1h-1zM80 78h1v1h-1zM86 78h1v1h-1zM94 78h1v1h-1zM11 79h1v1h-1zM21 79h1v1h-1zM35 79h1v1h-1zM57 79h1v1h-1zM74 79h1v1h-1zM28 80h1v1h-1zM53 80h1v1h-1zM66 80h1v1h-1zM59 81h1v1h-1zM62 81h1v1h-1zM89 81h1v1h-1zM74 82h1v1h-1zM78 82h1v1h-1zM99 82h1v1h-1zM23 83h1v1h-1zM30 83h1v1h-1zM66 83h1v1h-1z" fill="#f3a0a2"/><path d="M12 0h1v1h-1zM23 0h1v1h-1zM27 0h1v1h-1zM44 0h1v1h-1zM15 1h1v1h-1zM20 1h1v1h-1zM29 1h1v1h-1zM38 1h1v1h-1zM77 1h1v1h-1zM81 1h1v1h-1zM85 1h1v1h-1zM28 2h1v1h-1zM61 2h1v1h-1zM76 2h1v1h-1zM75 3h1v1h-1zM13 4h1v1h-1zM22 4h1v1h-1zM76 4h1v1h-1zM41 5h1v1h-1zM11 6h1v1h-1zM29 6h1v1h-1zM55 6h1v1h-1zM88 6h1v1h-1zM51 8h1v1h-1zM58 8h1v1h-1zM27 9h1v1h-1zM37 9h1v1h-1zM13 10h1v1h-1zM70 11h1v1h-1zM73 11h1v1h-1zM78 12h1v1h-1zM91 12h1v1h-1zM24 13h1v1h-1zM45 13h1v1h-1zM58 13h1v1h-1zM77 13h1v1h-1zM8 14h1v1h-1zM12 14h1v1h-1zM50 14h1v1h-1zM71 14h1v1h-1zM76 14h1v1h-1zM46 15h1v1h-1zM47 16h1v1h-1zM77 16h1v1h-1zM21 17h1v1h-1zM60 17h1v1h-1zM87 17h1v1h-1zM27 18h1v1h-1zM85 18h1v1h-1zM96 18h1v1h-1zM12 19h1v1h-1zM24 19h1v1h-1zM51 19h1v1h-1zM22 20h1v1h-1zM27 20h1v1h-1zM23 21h1v1h-1zM70 21h1v1h-1zM100 21h1v1h-1zM24 22h1v1h-1zM45 22h1v1h-1zM78 22h1v1h-1zM9 23h1v1h-1zM17 23h1v1h-1zM21 23h1v1h-1zM77 23h1v1h-1zM83 23h1v1h-1zM10 24h1v1h-1zM22 24h1v1h-1zM27 24h1v1h-1zM31 24h1v1h-1zM33 24h1v1h-1zM47 24h1v1h-1zM60 25h1v1h-1zM65 25h1v1h-1zM97 25h1v1h-1zM19 26h1v1h-1zM21 26h1v1h-1zM92 26h1v1h-1zM95 26h1v1h-1zM30 27h1v1h-1zM22 28h1v1h-1zM28 28h1v1h-1zM49 28h1v1h-1zM97 28h1v1h-1zM32 29h1v1h-1zM89 29h1v1h-1zM25 30h1v1h-1zM46 30h1v1h-1zM50 30h1v1h-1zM69 30h1v1h-1zM86 30h1v1h-1zM100 30h1v1h-1zM91 31h1v1h-1zM22 32h1v1h-1zM27 32h1v1h-1zM39 32h1v1h-1zM73 32h1v1h-1zM35 33h1v1h-1zM40 33h1v1h-1zM43 33h1v1h-1zM63 33h1v1h-1zM17 34h1v1h-1zM39 34h1v1h-1zM21 35h1v1h-1zM30 35h1v1h-1zM50 35h1v1h-1zM10 36h1v1h-1zM30 36h1v1h-1zM64 36h1v1h-1zM27 37h1v1h-1zM51 37h1v1h-1zM78 37h1v1h-1zM23 38h1v1h-1zM95 38h1v1h-1zM97 38h1v1h-1zM32 39h1v1h-1zM65 39h1v1h-1zM69 39h1v1h-1zM23 40h1v1h-1zM35 40h1v1h-1zM54 40h1v1h-1zM75 40h1v1h-1zM19 41h1v1h-1zM30 41h1v1h-1zM37 41h1v1h-1zM46 41h1v1h-1zM74 41h1v1h-1zM93 41h1v1h-1zM28 42h1v1h-1zM41 42h1v1h-1zM43 42h1v1h-1zM51 42h1v1h-1zM73 42h1v1h-1zM88 43h2v1h-2zM96 43h1v1h-1zM100 43h1v1h-1zM9 44h1v1h-1zM18 44h1v1h-1zM32 44h1v1h-1zM35 44h1v1h-1zM74 44h1v1h-1zM32 45h1v1h-1zM35 45h1v1h-1zM64 45h1v1h-1zM82 45h1v1h-1zM37 46h1v1h-1zM87 46h1v1h-1zM47 47h1v1h-1zM81 47h1v1h-1zM87 47h1v1h-1zM54 49h1v1h-1zM28 50h1v1h-1zM37 50h1v1h-1zM55 50h1v1h-1zM68 50h1v1h-1zM57 51h1v1h-1zM10 52h1v1h-1zM21 53h1v1h-1zM43 53h1v1h-1zM39 54h1v1h-1zM44 54h1v1h-1zM86 54h1v1h-1zM16 55h1v1h-1zM30 55h1v1h-1zM41 55h1v1h-1zM53 55h1v1h-1zM63 55h1v1h-1zM90 55h1v1h-1zM24 56h1v1h-1zM45 56h1v1h-1zM93 56h1v1h-1zM47 57h1v1h-1zM68 57h1v1h-1zM72 57h1v1h-1zM8 58h1v1h-1zM30 58h1v1h-1zM25 59h1v1h-1zM39 59h1v1h-1zM97 59h1v1h-1zM10 60h2v1h-2zM24 60h1v1h-1zM35 60h2v1h-2zM39 60h1v1h-1zM54 60h1v1h-1zM61 60h1v1h-1zM81 60h1v1h-1zM90 60h1v1h-1zM43 61h1v1h-1zM9 62h1v1h-1zM19 62h1v1h-1zM32 62h1v1h-1zM71 62h1v1h-1zM22 63h1v1h-1zM43 63h1v1h-1zM22 64h1v1h-1zM66 64h1v1h-1zM80 64h1v1h-1zM8 65h1v1h-1zM12 65h1v1h-1zM24 65h1v1h-1zM34 65h1v1h-1zM38 65h1v1h-1zM83 65h1v1h-1zM73 66h1v1h-1zM63 67h1v1h-1zM65 67h2v1h-2zM71 67h1v1h-1zM52 68h1v1h-1zM63 68h1v1h-1zM67 68h1v1h-1zM79 68h1v1h-1zM27 69h1v1h-1zM9 70h1v1h-1zM82 70h1v1h-1zM36 71h1v1h-1zM41 71h1v1h-1zM53 71h1v1h-1zM65 71h1v1h-1zM86 71h1v1h-1zM24 72h1v1h-1zM72 72h1v1h-1zM77 72h1v1h-1zM91 72h1v1h-1zM20 73h1v1h-1zM34 73h1v1h-1zM43 73h1v1h-1zM45 73h1v1h-1zM48 73h1v1h-1zM98 73h1v1h-1zM37 74h1v1h-1zM47 74h1v1h-1zM83 74h1v1h-1zM96 74h1v1h-1zM18 75h1v1h-1zM34 75h1v1h-1zM54 75h1v1h-1zM66 75h1v1h-1zM100 75h1v1h-1zM36 76h1v1h-1zM43 76h1v1h-1zM79 76h1v1h-1zM92 76h1v1h-1zM27 77h1v1h-1zM38 77h1v1h-1zM65 77h1v1h-1zM99 77h1v1h-1zM48 79h1v1h-1zM76 79h1v1h-1zM98 79h1v1h-1zM29 80h1v1h-1zM46 80h1v1h-1zM79 80h1v1h-1zM87 80h1v1h-1zM12 81h1v1h-1zM96 81h1v1h-1zM37 82h1v1h-1zM53 82h1v1h-1zM58 82h1v1h-1zM82 82h1v1h-1zM11 83h1v1h-1zM24 83h1v1h-1zM35 83h1v1h-1zM60 83h1v1h-1z" fill="#ee6263"/><path d="M70 0h1v1h-1zM27 1h1v1h-1zM36 1h1v1h-1zM67 1h1v1h-1zM20 2h1v1h-1zM58 2h1v1h-1zM87 2h1v1h-1zM54 3h1v1h-1zM57 3h1v1h-1zM12 4h1v1h-1zM45 4h2v1h-2zM60 4h1v1h-1zM75 4h1v1h-1zM9 5h1v1h-1zM29 5h1v1h-1zM63 5h1v1h-1zM22 6h1v1h-1zM68 6h1v1h-1zM19 7h1v1h-1zM32 7h1v1h-1zM55 7h1v1h-1zM61 7h1v1h-1zM74 7h1v1h-1zM31 8h1v1h-1zM55 8h1v1h-1zM8 9h1v1h-1zM52 10h1v1h-1zM16 11h1v1h-1zM27 11h1v1h-1zM32 11h1v1h-1zM83 11h1v1h-1zM34 12h1v1h-1zM66 12h1v1h-1zM80 12h1v1h-1zM19 13h1v1h-1zM60 13h1v1h-1zM69 13h1v1h-1zM83 13h2v1h-2zM48 15h1v1h-1zM26 16h1v1h-1zM32 16h1v1h-1zM51 16h1v1h-1zM72 16h1v1h-1zM12 17h1v1h-1zM27 17h1v1h-1zM58 17h1v1h-1zM88 17h1v1h-1zM30 18h1v1h-1zM17 19h1v1h-1zM44 19h1v1h-1zM88 19h1v1h-1zM69 20h1v1h-1zM96 20h1v1h-1zM17 21h1v1h-1zM13 22h1v1h-1zM70 22h1v1h-1zM81 22h1v1h-1zM27 23h1v1h-1zM73 23h1v1h-1zM93 23h1v1h-1zM9 24h1v1h-1zM42 24h1v1h-1zM54 24h1v1h-1zM88 24h1v1h-1zM30 26h1v1h-1zM36 27h1v1h-1zM15 28h1v1h-1zM32 28h1v1h-1zM46 28h1v1h-1zM55 28h1v1h-1zM71 28h1v1h-1zM94 28h3v1h-3zM13 29h1v1h-1zM40 29h1v1h-1zM83 29h1v1h-1zM23 30h1v1h-1zM30 30h1v1h-1zM35 30h1v1h-1zM88 30h1v1h-1zM22 31h1v1h-1zM69 31h2v1h-2zM84 31h1v1h-1zM94 32h1v1h-1zM51 33h1v1h-1zM91 33h1v1h-1zM27 34h1v1h-1zM67 34h1v1h-1zM45 35h1v1h-1zM68 35h1v1h-1zM78 35h1v1h-1zM8 36h1v1h-1zM43 36h1v1h-1zM99 36h1v1h-1zM52 37h1v1h-1zM72 38h1v1h-1zM45 39h1v1h-1zM94 39h1v1h-1zM100 39h1v1h-1zM61 40h1v1h-1zM66 40h1v1h-1zM90 40h1v1h-1zM23 41h1v1h-1zM34 41h1v1h-1zM39 41h1v1h-1zM55 41h1v1h-1zM81 42h1v1h-1zM57 43h1v1h-1zM86 43h1v1h-1zM11 44h1v1h-1zM14 44h1v1h-1zM25 44h1v1h-1zM55 44h1v1h-1zM76 44h1v1h-1zM91 44h1v1h-1zM34 45h1v1h-1zM36 45h1v1h-1zM45 45h1v1h-1zM76 45h1v1h-1zM91 45h1v1h-1zM40 46h1v1h-1zM53 47h1v1h-1zM22 48h1v1h-1zM55 48h3v1h-3zM86 49h1v1h-1zM91 49h1v1h-1zM96 49h1v1h-1zM32 51h1v1h-1zM52 52h2v1h-2zM94 52h1v1h-1zM10 53h1v1h-1zM29 53h1v1h-1zM44 53h1v1h-1zM74 53h1v1h-1zM81 53h1v1h-1zM87 53h2v1h-2zM18 54h1v1h-1zM28 54h1v1h-1zM66 54h1v1h-1zM73 54h1v1h-1zM77 54h1v1h-1zM79 54h1v1h-1zM40 55h1v1h-1zM61 55h1v1h-1zM9 56h1v1h-1zM36 56h1v1h-1zM98 56h1v1h-1zM9 57h1v1h-1zM19 57h1v1h-1zM67 57h1v1h-1zM73 57h1v1h-1zM86 57h1v1h-1zM52 58h1v1h-1zM80 59h2v1h-2zM17 60h2v1h-2zM20 60h1v1h-1zM32 60h2v1h-2zM56 60h1v1h-1zM73 60h1v1h-1zM76 60h2v1h-2zM84 60h1v1h-1zM92 60h1v1h-1zM31 61h1v1h-1zM59 61h1v1h-1zM61 61h1v1h-1zM73 61h1v1h-1zM27 62h1v1h-1zM66 62h1v1h-1zM48 63h1v1h-1zM69 63h1v1h-1zM86 63h1v1h-1zM48 64h1v1h-1zM52 64h1v1h-1zM89 64h1v1h-1zM94 64h1v1h-1zM55 65h1v1h-1zM73 65h1v1h-1zM96 65h1v1h-1zM50 66h1v1h-1zM64 66h2v1h-2zM77 66h1v1h-1zM35 67h1v1h-1zM48 67h1v1h-1zM37 68h1v1h-1zM70 68h1v1h-1zM75 68h1v1h-1zM15 69h1v1h-1zM20 69h1v1h-1zM39 69h1v1h-1zM46 69h1v1h-1zM65 69h1v1h-1zM93 69h1v1h-1zM48 70h1v1h-1zM56 70h2v1h-2zM8 71h1v1h-1zM70 71h1v1h-1zM78 71h1v1h-1zM83 71h1v1h-1zM40 72h1v1h-1zM69 72h1v1h-1zM35 73h1v1h-1zM41 73h1v1h-1zM64 73h1v1h-1zM71 73h1v1h-1zM97 73h1v1h-1zM81 74h1v1h-1zM89 74h1v1h-1zM10 75h1v1h-1zM15 75h1v1h-1zM67 75h1v1h-1zM22 76h1v1h-1zM51 76h1v1h-1zM55 76h1v1h-1zM68 76h1v1h-1zM35 77h1v1h-1zM54 77h1v1h-1zM82 77h1v1h-1zM33 78h1v1h-1zM35 78h1v1h-1zM41 78h1v1h-1zM70 78h1v1h-1zM96 78h1v1h-1zM99 78h1v1h-1zM37 79h1v1h-1zM62 79h1v1h-1zM96 79h1v1h-1zM11 80h2v1h-2zM47 80h1v1h-1zM92 80h1v1h-1zM97 80h1v1h-1zM14 81h1v1h-1zM23 81h1v1h-1zM36 81h1v1h-1zM56 81h1v1h-1zM73 81h1v1h-1zM47 82h1v1h-1zM91 82h1v1h-1zM97 82h1v1h-1zM57 83h1v1h-1z" fill="#eb4444"/><path d="M65 0h1v1h-1zM77 0h1v1h-1zM87 0h1v1h-1zM71 1h1v1h-1zM16 2h1v1h-1zM32 2h1v1h-1zM34 2h1v1h-1zM36 2h1v1h-1zM64 2h1v1h-1zM10 3h1v1h-1zM46 3h1v1h-1zM48 3h1v1h-1zM18 4h2v1h-2zM35 4h1v1h-1zM57 4h1v1h-1zM82 5h1v1h-1zM43 6h1v1h-1zM15 7h1v1h-1zM35 7h1v1h-1zM44 7h1v1h-1zM33 8h1v1h-1zM63 8h1v1h-1zM68 8h2v1h-2zM93 8h1v1h-1zM12 9h2v1h-2zM21 9h1v1h-1zM34 9h1v1h-1zM41 9h1v1h-1zM68 9h1v1h-1zM14 10h1v1h-1zM60 10h1v1h-1zM56 11h1v1h-1zM30 12h1v1h-1zM36 12h1v1h-1zM48 12h2v1h-2zM61 12h1v1h-1zM74 12h1v1h-1zM89 12h1v1h-1zM47 13h1v1h-1zM37 14h1v1h-1zM54 14h1v1h-1zM8 15h1v1h-1zM51 15h1v1h-1zM9 16h1v1h-1zM12 16h1v1h-1zM86 16h1v1h-1zM45 17h1v1h-1zM49 17h1v1h-1zM83 17h1v1h-1zM35 18h1v1h-1zM80 18h1v1h-1zM25 19h1v1h-1zM37 19h1v1h-1zM23 20h1v1h-1zM72 21h1v1h-1zM23 22h1v1h-1zM75 22h1v1h-1zM85 22h1v1h-1zM26 23h1v1h-1zM37 23h1v1h-1zM10 25h1v1h-1zM31 25h1v1h-1zM63 25h1v1h-1zM91 25h1v1h-1zM46 26h1v1h-1zM63 26h1v1h-1zM24 28h1v1h-1zM39 28h1v1h-1zM93 28h1v1h-1zM45 29h1v1h-1zM57 29h1v1h-1zM62 29h1v1h-1zM93 29h1v1h-1zM36 30h1v1h-1zM46 31h1v1h-1zM74 31h1v1h-1zM89 31h1v1h-1zM36 32h1v1h-1zM56 32h1v1h-1zM72 32h1v1h-1zM90 33h1v1h-1zM12 34h1v1h-1zM75 34h1v1h-1zM8 35h1v1h-1zM12 35h1v1h-1zM52 35h1v1h-1zM86 35h1v1h-1zM22 36h1v1h-1zM34 36h2v1h-2zM70 36h1v1h-1zM75 36h1v1h-1zM78 36h1v1h-1zM87 36h1v1h-1zM95 36h1v1h-1zM35 37h1v1h-1zM78 38h1v1h-1zM89 38h1v1h-1zM79 39h1v1h-1zM9 41h1v1h-1zM51 41h1v1h-1zM88 41h1v1h-1zM11 43h1v1h-1zM22 43h2v1h-2zM39 43h1v1h-1zM50 43h1v1h-1zM56 43h1v1h-1zM61 43h1v1h-1zM66 43h1v1h-1zM79 43h1v1h-1zM83 43h1v1h-1zM87 43h1v1h-1zM30 44h1v1h-1zM38 44h1v1h-1zM43 44h1v1h-1zM71 44h1v1h-1zM87 44h1v1h-1zM41 45h1v1h-1zM33 46h1v1h-1zM51 46h1v1h-1zM88 46h1v1h-1zM9 47h1v1h-1zM22 47h1v1h-1zM77 47h1v1h-1zM84 47h1v1h-1zM96 47h1v1h-1zM12 48h1v1h-1zM46 48h1v1h-1zM63 48h1v1h-1zM75 48h1v1h-1zM87 48h1v1h-1zM9 49h1v1h-1zM11 49h2v1h-2zM15 49h1v1h-1zM21 49h1v1h-1zM24 49h1v1h-1zM72 49h1v1h-1zM39 50h1v1h-1zM72 50h1v1h-1zM16 51h1v1h-1zM28 51h1v1h-1zM36 51h1v1h-1zM58 51h1v1h-1zM88 51h1v1h-1zM13 52h1v1h-1zM27 52h1v1h-1zM42 52h1v1h-1zM59 52h1v1h-1zM79 53h1v1h-1zM43 54h1v1h-1zM52 54h1v1h-1zM67 54h1v1h-1zM10 55h1v1h-1zM12 55h1v1h-1zM57 55h1v1h-1zM92 55h1v1h-1zM12 56h1v1h-1zM48 56h1v1h-1zM54 57h1v1h-1zM77 57h1v1h-1zM27 58h1v1h-1zM29 58h1v1h-1zM40 58h1v1h-1zM47 58h1v1h-1zM74 58h1v1h-1zM83 58h1v1h-1zM44 59h1v1h-1zM57 59h1v1h-1zM88 59h1v1h-1zM65 60h1v1h-1zM48 62h1v1h-1zM74 62h1v1h-1zM16 63h1v1h-1zM24 63h1v1h-1zM41 63h1v1h-1zM67 63h1v1h-1zM74 63h1v1h-1zM76 63h1v1h-1zM58 64h1v1h-1zM10 65h1v1h-1zM9 66h1v1h-1zM9 67h1v1h-1zM25 68h1v1h-1zM28 69h1v1h-1zM41 69h1v1h-1zM50 69h1v1h-1zM55 69h1v1h-1zM41 70h1v1h-1zM64 71h1v1h-1zM67 71h1v1h-1zM69 71h1v1h-1zM80 71h1v1h-1zM43 72h1v1h-1zM56 72h1v1h-1zM92 72h1v1h-1zM29 73h2v1h-2zM49 73h1v1h-1zM59 73h1v1h-1zM63 73h1v1h-1zM75 73h1v1h-1zM83 73h1v1h-1zM23 74h1v1h-1zM48 74h1v1h-1zM67 74h1v1h-1zM69 74h1v1h-1zM89 75h1v1h-1zM56 76h1v1h-1zM66 76h1v1h-1zM8 78h1v1h-1zM11 78h1v1h-1zM45 78h1v1h-1zM10 79h1v1h-1zM32 79h2v1h-2zM52 79h1v1h-1zM65 79h1v1h-1zM68 79h1v1h-1zM83 79h1v1h-1zM34 80h1v1h-1zM77 80h1v1h-1zM18 81h1v1h-1zM39 81h1v1h-1zM52 81h1v1h-1zM35 82h1v1h-1zM40 82h1v1h-1zM100 82h1v1h-1zM41 83h1v1h-1zM55 83h1v1h-1zM61 83h2v1h-2zM100 83h1v1h-1z" fill="#e93a3b"/><path d="M28 0h1v1h-1zM52 0h1v1h-1zM74 1h1v1h-1zM69 2h1v1h-1zM20 3h1v1h-1zM23 3h1v1h-1zM74 3h1v1h-1zM34 6h1v1h-1zM71 6h1v1h-1zM100 7h1v1h-1zM39 8h1v1h-1zM71 8h1v1h-1zM74 8h1v1h-1zM77 8h1v1h-1zM38 9h1v1h-1zM70 9h1v1h-1zM19 10h1v1h-1zM57 10h1v1h-1zM70 10h1v1h-1zM85 10h1v1h-1zM26 11h1v1h-1zM60 11h1v1h-1zM76 11h1v1h-1zM23 12h2v1h-2zM69 12h1v1h-1zM71 12h1v1h-1zM46 13h1v1h-1zM80 13h1v1h-1zM21 14h1v1h-1zM70 14h1v1h-1zM57 15h1v1h-1zM22 16h1v1h-1zM60 16h1v1h-1zM84 16h1v1h-1zM20 17h1v1h-1zM38 17h1v1h-1zM40 17h1v1h-1zM70 18h1v1h-1zM18 19h1v1h-1zM34 19h1v1h-1zM80 19h1v1h-1zM14 20h1v1h-1zM19 20h1v1h-1zM76 22h1v1h-1zM79 22h1v1h-1zM70 23h1v1h-1zM78 23h1v1h-1zM100 23h1v1h-1zM28 24h2v1h-2zM12 25h1v1h-1zM32 25h1v1h-1zM56 25h1v1h-1zM69 25h1v1h-1zM75 25h1v1h-1zM14 26h1v1h-1zM23 26h1v1h-1zM97 26h1v1h-1zM20 28h2v1h-2zM58 28h1v1h-1zM69 28h1v1h-1zM99 28h1v1h-1zM25 29h1v1h-1zM74 29h1v1h-1zM24 30h1v1h-1zM56 30h1v1h-1zM63 30h1v1h-1zM65 30h1v1h-1zM8 31h1v1h-1zM10 31h1v1h-1zM19 31h1v1h-1zM48 31h1v1h-1zM64 31h1v1h-1zM12 32h1v1h-1zM53 32h1v1h-1zM59 32h1v1h-1zM74 32h1v1h-1zM55 33h1v1h-1zM93 33h1v1h-1zM11 34h1v1h-1zM25 34h1v1h-1zM33 34h1v1h-1zM38 34h1v1h-1zM44 34h2v1h-2zM56 35h2v1h-2zM79 35h1v1h-1zM91 35h1v1h-1zM71 36h1v1h-1zM97 36h1v1h-1zM32 37h1v1h-1zM68 37h1v1h-1zM93 37h1v1h-1zM56 38h1v1h-1zM68 38h1v1h-1zM74 38h1v1h-1zM77 38h1v1h-1zM10 39h1v1h-1zM22 39h1v1h-1zM54 39h1v1h-1zM90 39h2v1h-2zM37 40h1v1h-1zM45 40h1v1h-1zM11 41h1v1h-1zM31 42h1v1h-1zM98 42h1v1h-1zM12 43h1v1h-1zM31 43h1v1h-1zM62 43h1v1h-1zM80 43h1v1h-1zM19 44h1v1h-1zM39 44h1v1h-1zM39 45h1v1h-1zM12 46h1v1h-1zM34 46h1v1h-1zM76 46h1v1h-1zM86 47h1v1h-1zM88 47h1v1h-1zM93 47h1v1h-1zM23 48h1v1h-1zM43 48h1v1h-1zM60 48h1v1h-1zM96 48h1v1h-1zM43 49h1v1h-1zM45 49h1v1h-1zM50 49h1v1h-1zM53 49h1v1h-1zM63 49h1v1h-1zM74 49h1v1h-1zM13 50h1v1h-1zM67 50h1v1h-1zM12 51h1v1h-1zM62 51h1v1h-1zM91 51h1v1h-1zM18 52h1v1h-1zM99 52h1v1h-1zM76 54h1v1h-1zM80 54h1v1h-1zM44 55h2v1h-2zM76 55h1v1h-1zM57 56h1v1h-1zM96 56h1v1h-1zM48 57h1v1h-1zM78 57h1v1h-1zM34 58h1v1h-1zM36 58h1v1h-1zM71 58h1v1h-1zM35 59h1v1h-1zM82 59h1v1h-1zM8 60h1v1h-1zM40 60h1v1h-1zM45 60h1v1h-1zM98 60h1v1h-1zM24 61h1v1h-1zM55 61h1v1h-1zM12 62h1v1h-1zM61 63h1v1h-1zM64 63h1v1h-1zM83 63h1v1h-1zM42 64h1v1h-1zM64 64h1v1h-1zM40 65h1v1h-1zM57 66h1v1h-1zM70 66h1v1h-1zM96 66h1v1h-1zM64 67h1v1h-1zM8 68h1v1h-1zM40 68h1v1h-1zM12 69h1v1h-1zM8 70h1v1h-1zM23 71h1v1h-1zM38 71h1v1h-1zM54 71h1v1h-1zM32 72h1v1h-1zM52 72h1v1h-1zM58 72h1v1h-1zM66 72h1v1h-1zM23 73h1v1h-1zM76 73h2v1h-2zM65 74h1v1h-1zM95 74h1v1h-1zM86 75h1v1h-1zM69 76h1v1h-1zM85 76h1v1h-1zM32 77h1v1h-1zM74 77h1v1h-1zM78 77h1v1h-1zM36 78h1v1h-1zM38 78h1v1h-1zM76 78h1v1h-1zM20 79h1v1h-1zM23 79h1v1h-1zM38 79h1v1h-1zM31 80h1v1h-1zM43 80h1v1h-1zM55 80h1v1h-1zM59 80h1v1h-1zM28 81h1v1h-1zM38 82h1v1h-1zM69 82h1v1h-1zM9 83h1v1h-1z" fill="#e63031"/><path d="M54 0h1v1h-1zM76 0h1v1h-1zM81 0h1v1h-1zM13 1h1v1h-1zM62 1h1v1h-1zM69 1h1v1h-1zM80 1h1v1h-1zM17 2h1v1h-1zM54 2h1v1h-1zM30 3h1v1h-1zM59 4h1v1h-1zM47 5h1v1h-1zM53 5h2v1h-2zM62 5h1v1h-1zM35 6h1v1h-1zM67 7h1v1h-1zM69 7h1v1h-1zM43 8h1v1h-1zM57 8h1v1h-1zM11 9h1v1h-1zM52 9h1v1h-1zM54 9h1v1h-1zM69 9h1v1h-1zM9 10h1v1h-1zM29 10h1v1h-1zM55 10h1v1h-1zM65 10h1v1h-1zM81 10h1v1h-1zM69 11h1v1h-1zM90 13h1v1h-1zM10 14h1v1h-1zM19 15h1v1h-1zM76 15h1v1h-1zM94 15h1v1h-1zM64 17h1v1h-1zM36 18h1v1h-1zM57 18h1v1h-1zM66 18h1v1h-1zM75 18h2v1h-2zM21 19h1v1h-1zM39 19h1v1h-1zM89 19h1v1h-1zM30 20h1v1h-1zM70 20h1v1h-1zM75 20h1v1h-1zM85 20h1v1h-1zM48 21h1v1h-1zM23 23h1v1h-1zM39 23h1v1h-1zM56 23h1v1h-1zM84 23h1v1h-1zM76 24h1v1h-1zM100 24h1v1h-1zM38 25h1v1h-1zM46 25h1v1h-1zM76 25h1v1h-1zM90 25h1v1h-1zM48 26h1v1h-1zM66 26h1v1h-1zM17 28h1v1h-1zM30 28h1v1h-1zM40 28h1v1h-1zM50 28h1v1h-1zM30 29h1v1h-1zM98 29h1v1h-1zM11 31h1v1h-1zM33 31h1v1h-1zM49 31h1v1h-1zM71 31h1v1h-1zM93 31h1v1h-1zM49 32h1v1h-1zM51 32h1v1h-1zM78 32h1v1h-1zM95 32h1v1h-1zM53 33h1v1h-1zM67 33h1v1h-1zM57 34h1v1h-1zM23 35h1v1h-1zM51 35h1v1h-1zM71 35h1v1h-1zM94 36h1v1h-1zM9 37h1v1h-1zM23 37h1v1h-1zM92 37h1v1h-1zM25 38h1v1h-1zM88 38h1v1h-1zM92 39h1v1h-1zM22 40h1v1h-1zM69 40h1v1h-1zM94 40h1v1h-1zM8 41h1v1h-1zM13 41h1v1h-1zM64 41h1v1h-1zM79 41h1v1h-1zM56 42h1v1h-1zM32 43h1v1h-1zM46 43h1v1h-1zM73 43h1v1h-1zM8 44h1v1h-1zM71 45h1v1h-1zM61 46h1v1h-1zM82 46h1v1h-1zM38 47h1v1h-1zM63 47h1v1h-1zM88 48h1v1h-1zM92 49h1v1h-1zM29 50h1v1h-1zM35 50h1v1h-1zM64 50h1v1h-1zM100 50h1v1h-1zM25 51h1v1h-1zM20 52h1v1h-1zM50 52h1v1h-1zM73 52h1v1h-1zM20 53h1v1h-1zM56 53h1v1h-1zM69 53h1v1h-1zM50 54h1v1h-1zM100 54h1v1h-1zM27 55h1v1h-1zM36 55h1v1h-1zM64 55h1v1h-1zM84 55h1v1h-1zM97 55h1v1h-1zM20 56h1v1h-1zM26 56h1v1h-1zM33 56h1v1h-1zM75 56h1v1h-1zM21 57h1v1h-1zM23 57h1v1h-1zM90 57h1v1h-1zM12 58h1v1h-1zM31 58h1v1h-1zM46 58h1v1h-1zM79 58h1v1h-1zM92 58h1v1h-1zM95 58h1v1h-1zM32 59h1v1h-1zM55 59h1v1h-1zM69 59h1v1h-1zM74 59h1v1h-1zM25 60h1v1h-1zM27 61h1v1h-1zM66 61h1v1h-1zM11 62h1v1h-1zM42 62h2v1h-2zM63 62h1v1h-1zM72 62h1v1h-1zM94 62h1v1h-1zM21 63h1v1h-1zM89 63h1v1h-1zM13 64h1v1h-1zM31 65h1v1h-1zM52 65h1v1h-1zM91 65h1v1h-1zM41 66h1v1h-1zM69 67h1v1h-1zM93 67h1v1h-1zM13 68h1v1h-1zM54 68h1v1h-1zM73 68h1v1h-1zM19 69h1v1h-1zM31 69h1v1h-1zM59 69h1v1h-1zM73 70h1v1h-1zM46 71h1v1h-1zM22 72h1v1h-1zM34 72h1v1h-1zM87 72h1v1h-1zM47 73h1v1h-1zM56 73h1v1h-1zM89 73h1v1h-1zM10 74h1v1h-1zM28 74h1v1h-1zM39 74h1v1h-1zM87 74h1v1h-1zM25 75h1v1h-1zM27 75h1v1h-1zM38 75h1v1h-1zM73 75h1v1h-1zM96 75h1v1h-1zM15 76h1v1h-1zM44 76h1v1h-1zM94 77h1v1h-1zM29 78h1v1h-1zM37 78h1v1h-1zM74 78h1v1h-1zM95 78h1v1h-1zM25 79h1v1h-1zM45 79h1v1h-1zM51 79h1v1h-1zM61 80h1v1h-1zM93 80h1v1h-1zM100 80h1v1h-1zM29 81h1v1h-1zM41 81h1v1h-1zM51 81h1v1h-1zM78 81h1v1h-1zM85 81h2v1h-2zM12 82h1v1h-1zM20 82h1v1h-1zM33 82h1v1h-1zM46 82h1v1h-1zM68 82h1v1h-1zM25 83h1v1h-1zM29 83h1v1h-1zM94 83h1v1h-1z" fill="#e42628"/><path d="M86 0h1v1h-1zM19 1h1v1h-1zM57 1h1v1h-1zM8 2h1v1h-1zM13 2h1v1h-1zM37 2h1v1h-1zM23 5h1v1h-1zM37 5h1v1h-1zM8 8h1v1h-1zM22 8h1v1h-1zM45 8h1v1h-1zM47 8h1v1h-1zM56 8h1v1h-1zM86 8h1v1h-1zM30 9h1v1h-1zM87 9h1v1h-1zM69 10h1v1h-1zM72 11h1v1h-1zM33 12h1v1h-1zM70 12h1v1h-1zM38 13h1v1h-1zM15 14h1v1h-1zM83 15h1v1h-1zM10 16h1v1h-1zM17 16h1v1h-1zM70 17h2v1h-2zM71 18h1v1h-1zM32 19h1v1h-1zM57 19h1v1h-1zM71 19h1v1h-1zM77 19h1v1h-1zM86 19h1v1h-1zM19 21h1v1h-1zM85 21h1v1h-1zM36 22h1v1h-1zM56 22h1v1h-1zM80 23h1v1h-1zM72 24h1v1h-1zM93 24h1v1h-1zM19 25h1v1h-1zM43 25h1v1h-1zM49 25h1v1h-1zM96 25h1v1h-1zM98 25h1v1h-1zM55 26h1v1h-1zM100 28h1v1h-1zM17 31h1v1h-1zM31 31h1v1h-1zM98 31h1v1h-1zM9 32h1v1h-1zM40 32h1v1h-1zM52 32h1v1h-1zM71 32h1v1h-1zM47 34h1v1h-1zM52 34h1v1h-1zM61 34h1v1h-1zM76 34h1v1h-1zM65 35h1v1h-1zM92 35h1v1h-1zM71 37h1v1h-1zM85 37h1v1h-1zM76 38h1v1h-1zM29 39h1v1h-1zM33 39h1v1h-1zM50 39h1v1h-1zM78 40h1v1h-1zM70 41h1v1h-1zM26 42h1v1h-1zM42 42h1v1h-1zM50 42h1v1h-1zM84 42h1v1h-1zM8 43h1v1h-1zM70 43h1v1h-1zM27 44h1v1h-1zM90 44h1v1h-1zM93 44h1v1h-1zM11 45h1v1h-1zM50 45h1v1h-1zM70 46h1v1h-1zM59 47h1v1h-1zM11 48h1v1h-1zM28 48h1v1h-1zM78 48h1v1h-1zM35 49h1v1h-1zM98 50h1v1h-1zM75 51h1v1h-1zM36 52h1v1h-1zM52 53h1v1h-1zM93 53h1v1h-1zM48 54h1v1h-1zM18 55h1v1h-1zM74 55h1v1h-1zM83 55h1v1h-1zM86 55h1v1h-1zM35 56h1v1h-1zM53 56h1v1h-1zM72 56h1v1h-1zM76 56h1v1h-1zM29 57h1v1h-1zM42 57h1v1h-1zM79 57h1v1h-1zM95 57h1v1h-1zM42 58h1v1h-1zM73 58h1v1h-1zM93 58h1v1h-1zM18 59h1v1h-1zM22 59h1v1h-1zM51 59h1v1h-1zM87 59h1v1h-1zM41 60h2v1h-2zM48 60h1v1h-1zM59 60h1v1h-1zM95 60h1v1h-1zM84 61h1v1h-1zM94 61h1v1h-1zM58 62h1v1h-1zM12 63h1v1h-1zM20 63h1v1h-1zM49 63h1v1h-1zM68 63h1v1h-1zM54 65h1v1h-1zM49 66h1v1h-1zM52 66h1v1h-1zM66 66h1v1h-1zM45 67h1v1h-1zM87 67h1v1h-1zM85 68h1v1h-1zM71 69h1v1h-1zM78 69h1v1h-1zM86 69h1v1h-1zM23 70h1v1h-1zM61 70h1v1h-1zM66 70h1v1h-1zM74 70h1v1h-1zM96 70h1v1h-1zM77 71h1v1h-1zM11 72h1v1h-1zM27 73h1v1h-1zM78 73h1v1h-1zM88 73h1v1h-1zM54 74h1v1h-1zM99 74h1v1h-1zM30 75h1v1h-1zM70 75h1v1h-1zM25 76h1v1h-1zM80 77h1v1h-1zM9 78h1v1h-1zM30 79h1v1h-1zM36 79h1v1h-1zM60 79h1v1h-1zM63 81h1v1h-1zM71 81h1v1h-1zM90 82h1v1h-1zM10 83h1v1h-1zM56 83h1v1h-1zM72 83h1v1h-1zM74 83h1v1h-1z" fill="#e21c1e"/><path d="M26 0h1v1h-1zM38 0h1v1h-1zM69 0h1v1h-1zM33 3h1v1h-1zM36 5h1v1h-1zM49 6h1v1h-1zM69 6h1v1h-1zM37 8h1v1h-1zM60 8h1v1h-1zM84 8h1v1h-1zM32 10h1v1h-1zM66 10h1v1h-1zM71 10h1v1h-1zM59 11h1v1h-1zM8 12h1v1h-1zM26 12h1v1h-1zM62 12h1v1h-1zM63 13h1v1h-1zM46 14h1v1h-1zM11 15h1v1h-1zM23 15h1v1h-1zM68 16h1v1h-1zM75 17h1v1h-1zM79 17h1v1h-1zM35 19h1v1h-1zM74 19h2v1h-2zM13 21h1v1h-1zM38 21h1v1h-1zM64 22h1v1h-1zM25 23h1v1h-1zM9 25h1v1h-1zM14 28h1v1h-1zM25 28h1v1h-1zM66 28h1v1h-1zM82 28h1v1h-1zM98 28h1v1h-1zM93 30h1v1h-1zM42 31h1v1h-1zM54 32h1v1h-1zM62 32h1v1h-1zM47 33h1v1h-1zM83 33h1v1h-1zM87 34h1v1h-1zM41 36h1v1h-1zM57 36h1v1h-1zM81 36h1v1h-1zM96 36h1v1h-1zM72 37h1v1h-1zM69 38h1v1h-1zM81 38h1v1h-1zM100 38h1v1h-1zM16 39h1v1h-1zM47 39h1v1h-1zM27 40h1v1h-1zM55 40h1v1h-1zM73 41h1v1h-1zM92 41h1v1h-1zM46 42h1v1h-1zM21 43h1v1h-1zM21 44h1v1h-1zM61 44h1v1h-1zM91 46h1v1h-1zM26 47h1v1h-1zM70 47h1v1h-1zM18 48h1v1h-1zM39 49h1v1h-1zM55 49h1v1h-1zM58 49h1v1h-1zM67 49h1v1h-1zM77 49h1v1h-1zM19 50h1v1h-1zM38 50h1v1h-1zM54 50h1v1h-1zM71 50h1v1h-1zM89 50h1v1h-1zM52 51h1v1h-1zM62 52h1v1h-1zM72 52h1v1h-1zM16 53h1v1h-1zM9 54h1v1h-1zM19 54h1v1h-1zM61 54h1v1h-1zM70 54h1v1h-1zM50 57h1v1h-1zM11 58h1v1h-1zM57 58h1v1h-1zM30 59h1v1h-1zM40 59h1v1h-1zM43 59h1v1h-1zM9 60h1v1h-1zM47 60h1v1h-1zM63 60h1v1h-1zM91 60h1v1h-1zM99 60h1v1h-1zM12 61h1v1h-1zM33 61h1v1h-1zM51 61h1v1h-1zM68 61h1v1h-1zM10 62h1v1h-1zM61 62h1v1h-1zM58 63h1v1h-1zM91 63h1v1h-1zM98 63h1v1h-1zM63 64h1v1h-1zM64 65h1v1h-1zM90 65h1v1h-1zM10 67h1v1h-1zM20 67h1v1h-1zM24 67h1v1h-1zM41 67h1v1h-1zM91 67h1v1h-1zM76 68h1v1h-1zM11 69h1v1h-1zM33 71h1v1h-1zM44 71h1v1h-1zM71 72h1v1h-1zM14 73h1v1h-1zM19 74h1v1h-1zM90 74h1v1h-1zM19 76h1v1h-1zM76 76h1v1h-1zM87 76h1v1h-1zM59 77h1v1h-1zM73 77h1v1h-1zM42 78h1v1h-1zM49 78h1v1h-1zM72 78h1v1h-1zM12 79h1v1h-1zM26 79h1v1h-1zM55 79h1v1h-1zM71 80h1v1h-1zM99 80h1v1h-1zM72 82h1v1h-1zM85 82h1v1h-1zM27 83h2v1h-2zM67 83h1v1h-1z" fill="#df1a1c"/><path d="M34 3h1v1h-1zM39 4h1v1h-1zM14 5h1v1h-1zM26 5h1v1h-1zM38 7h1v1h-1zM64 7h1v1h-1zM89 10h1v1h-1zM40 11h1v1h-1zM54 11h1v1h-1zM19 12h1v1h-1zM54 12h1v1h-1zM85 12h1v1h-1zM88 12h1v1h-1zM75 14h1v1h-1zM71 15h1v1h-1zM73 15h2v1h-2zM9 17h1v1h-1zM57 17h1v1h-1zM83 18h1v1h-1zM28 19h1v1h-1zM76 19h1v1h-1zM25 20h1v1h-1zM88 21h1v1h-1zM45 23h1v1h-1zM96 23h1v1h-1zM32 24h1v1h-1zM21 25h1v1h-1zM30 25h1v1h-1zM67 25h1v1h-1zM72 25h1v1h-1zM95 25h1v1h-1zM35 26h1v1h-1zM38 28h1v1h-1zM90 29h1v1h-1zM53 30h1v1h-1zM97 30h1v1h-1zM40 31h1v1h-1zM100 31h1v1h-1zM31 33h1v1h-1zM13 34h1v1h-1zM23 36h1v1h-1zM33 38h1v1h-1zM61 38h1v1h-1zM12 41h1v1h-1zM63 41h1v1h-1zM85 41h1v1h-1zM10 42h1v1h-1zM49 42h1v1h-1zM54 42h1v1h-1zM20 43h1v1h-1zM69 43h1v1h-1zM84 43h1v1h-1zM9 45h2v1h-2zM22 45h1v1h-1zM40 45h1v1h-1zM88 45h1v1h-1zM68 46h1v1h-1zM71 46h1v1h-1zM86 46h1v1h-1zM51 47h1v1h-1zM69 48h1v1h-1zM84 49h1v1h-1zM19 51h1v1h-1zM66 51h1v1h-1zM90 52h1v1h-1zM30 53h1v1h-1zM69 54h1v1h-1zM78 54h1v1h-1zM32 55h1v1h-1zM91 56h1v1h-1zM54 58h1v1h-1zM70 58h1v1h-1zM86 58h1v1h-1zM71 59h1v1h-1zM18 62h1v1h-1zM44 62h1v1h-1zM76 62h1v1h-1zM71 63h1v1h-1zM31 64h1v1h-1zM39 64h1v1h-1zM45 64h1v1h-1zM32 65h1v1h-1zM20 66h1v1h-1zM82 66h1v1h-1zM56 67h1v1h-1zM59 67h1v1h-1zM9 68h1v1h-1zM35 68h1v1h-1zM53 69h1v1h-1zM18 71h1v1h-1zM22 74h1v1h-1zM64 74h1v1h-1zM17 75h1v1h-1zM44 75h1v1h-1zM74 75h1v1h-1zM14 76h1v1h-1zM86 76h1v1h-1zM63 77h1v1h-1zM92 77h1v1h-1zM40 78h1v1h-1zM64 78h1v1h-1zM86 79h1v1h-1zM85 80h1v1h-1zM38 81h1v1h-1zM64 81h1v1h-1zM45 83h1v1h-1zM54 83h1v1h-1z" fill="#dd181a"/><path d="M55 0h1v1h-1zM39 1h1v1h-1zM51 2h1v1h-1zM41 3h1v1h-1zM27 6h1v1h-1zM75 6h1v1h-1zM24 10h1v1h-1zM75 10h1v1h-1zM76 13h1v1h-1zM17 14h1v1h-1zM19 14h1v1h-1zM22 14h1v1h-1zM63 14h1v1h-1zM88 14h1v1h-1zM75 15h1v1h-1zM45 16h1v1h-1zM71 16h1v1h-1zM28 17h1v1h-1zM76 17h1v1h-1zM77 21h1v1h-1zM49 24h1v1h-1zM91 24h1v1h-1zM22 25h1v1h-1zM45 25h1v1h-1zM85 25h1v1h-1zM100 25h1v1h-1zM26 26h1v1h-1zM70 28h1v1h-1zM22 33h1v1h-1zM34 34h1v1h-1zM60 34h1v1h-1zM92 34h1v1h-1zM72 36h1v1h-1zM85 39h1v1h-1zM87 39h2v1h-2zM98 39h1v1h-1zM52 40h1v1h-1zM70 40h1v1h-1zM86 40h1v1h-1zM21 41h1v1h-1zM41 41h1v1h-1zM18 42h1v1h-1zM35 42h1v1h-1zM66 42h1v1h-1zM71 42h1v1h-1zM65 43h1v1h-1zM57 44h1v1h-1zM35 48h1v1h-1zM77 48h1v1h-1zM70 49h1v1h-1zM79 50h1v1h-1zM8 51h1v1h-1zM23 51h1v1h-1zM8 52h1v1h-1zM44 52h1v1h-1zM30 54h1v1h-1zM42 54h1v1h-1zM20 57h1v1h-1zM59 57h1v1h-1zM52 59h1v1h-1zM69 60h1v1h-1zM87 60h1v1h-1zM58 61h1v1h-1zM70 61h1v1h-1zM33 62h1v1h-1zM57 62h1v1h-1zM35 63h1v1h-1zM60 63h1v1h-1zM63 63h1v1h-1zM57 64h1v1h-1zM59 64h1v1h-1zM65 64h1v1h-1zM86 64h1v1h-1zM48 65h1v1h-1zM11 67h1v1h-1zM38 67h1v1h-1zM98 67h1v1h-1zM34 68h1v1h-1zM42 68h1v1h-1zM57 69h1v1h-1zM70 70h1v1h-1zM91 70h1v1h-1zM31 71h1v1h-1zM87 71h1v1h-1zM100 71h1v1h-1zM88 72h1v1h-1zM73 73h1v1h-1zM87 73h1v1h-1zM35 74h1v1h-1zM100 74h1v1h-1zM60 75h1v1h-1zM71 75h1v1h-1zM58 76h1v1h-1zM25 78h1v1h-1zM58 78h1v1h-1zM69 78h1v1h-1zM97 78h1v1h-1zM100 78h1v1h-1zM54 79h1v1h-1zM66 79h1v1h-1zM45 80h1v1h-1zM84 80h1v1h-1zM70 82h2v1h-2zM71 83h1v1h-1zM93 83h1v1h-1zM95 83h1v1h-1z" fill="#da1619"/><path d="M23 2h1v1h-1zM38 2h1v1h-1zM25 3h1v1h-1zM45 3h1v1h-1zM86 3h1v1h-1zM24 8h1v1h-1zM78 8h1v1h-1zM23 9h1v1h-1zM77 11h1v1h-1zM64 13h1v1h-1zM41 17h1v1h-1zM73 17h1v1h-1zM55 19h1v1h-1zM71 21h1v1h-1zM57 23h1v1h-1zM57 25h1v1h-1zM86 25h1v1h-1zM83 26h1v1h-1zM61 28h1v1h-1zM65 28h1v1h-1zM55 29h1v1h-1zM87 30h1v1h-1zM57 31h1v1h-1zM79 31h1v1h-1zM81 31h1v1h-1zM82 32h1v1h-1zM92 32h1v1h-1zM20 34h1v1h-1zM73 34h1v1h-1zM95 35h1v1h-1zM19 36h1v1h-1zM36 36h1v1h-1zM79 38h1v1h-1zM83 38h1v1h-1zM94 38h1v1h-1zM99 38h1v1h-1zM33 40h1v1h-1zM71 40h1v1h-1zM65 44h1v1h-1zM96 44h1v1h-1zM99 46h1v1h-1zM42 48h1v1h-1zM45 48h1v1h-1zM18 49h1v1h-1zM69 49h1v1h-1zM28 52h1v1h-1zM97 53h1v1h-1zM35 54h1v1h-1zM40 54h1v1h-1zM29 55h1v1h-1zM68 55h1v1h-1zM71 55h1v1h-1zM32 56h1v1h-1zM88 56h1v1h-1zM69 58h1v1h-1zM42 59h1v1h-1zM61 59h1v1h-1zM72 60h1v1h-1zM74 60h1v1h-1zM55 63h1v1h-1zM96 63h1v1h-1zM55 64h1v1h-1zM40 66h1v1h-1zM95 66h1v1h-1zM51 67h1v1h-1zM69 68h1v1h-1zM84 68h1v1h-1zM38 69h1v1h-1zM74 69h1v1h-1zM40 71h1v1h-1zM15 73h1v1h-1zM55 73h1v1h-1zM69 73h1v1h-1zM73 74h1v1h-1zM33 76h1v1h-1zM45 76h1v1h-1zM32 81h1v1h-1zM54 81h1v1h-1zM68 81h1v1h-1zM43 82h1v1h-1zM55 82h2v1h-2zM95 82h1v1h-1z" fill="#d71417"/><path d="M31 1h1v1h-1zM56 5h1v1h-1zM50 8h1v1h-1zM57 9h1v1h-1zM84 10h1v1h-1zM75 11h1v1h-1zM52 12h1v1h-1zM32 14h1v1h-1zM35 14h1v1h-1zM27 16h1v1h-1zM78 17h1v1h-1zM13 18h1v1h-1zM53 19h1v1h-1zM89 24h1v1h-1zM70 25h1v1h-1zM67 28h1v1h-1zM92 28h1v1h-1zM24 32h1v1h-1zM60 32h1v1h-1zM24 35h1v1h-1zM72 35h1v1h-1zM88 35h1v1h-1zM91 38h1v1h-1zM22 41h1v1h-1zM72 43h1v1h-1zM92 43h2v1h-2zM70 44h1v1h-1zM23 52h1v1h-1zM46 52h1v1h-1zM91 53h1v1h-1zM56 55h1v1h-1zM87 55h1v1h-1zM17 56h1v1h-1zM95 56h1v1h-1zM52 57h1v1h-1zM75 57h1v1h-1zM82 58h1v1h-1zM23 59h1v1h-1zM96 62h1v1h-1zM10 63h1v1h-1zM45 63h1v1h-1zM69 65h1v1h-1zM11 66h1v1h-1zM67 67h1v1h-1zM31 68h1v1h-1zM35 71h1v1h-1zM70 73h1v1h-1zM41 74h1v1h-1zM70 74h1v1h-1zM91 74h1v1h-1zM65 76h1v1h-1zM83 76h1v1h-1zM91 79h1v1h-1zM61 82h1v1h-1zM77 82h1v1h-1zM39 83h1v1h-1z" fill="#d41215"/><path d="M47 3h1v1h-1zM23 8h1v1h-1zM10 10h1v1h-1zM55 11h1v1h-1zM26 17h1v1h-1zM12 18h1v1h-1zM41 19h1v1h-1zM28 23h1v1h-1zM23 24h1v1h-1zM56 28h1v1h-1zM8 30h1v1h-1zM38 32h1v1h-1zM70 33h1v1h-1zM38 35h1v1h-1zM48 35h1v1h-1zM76 36h1v1h-1zM89 36h1v1h-1zM19 37h1v1h-1zM90 37h1v1h-1zM36 44h1v1h-1zM42 44h1v1h-1zM25 45h1v1h-1zM56 46h1v1h-1zM85 48h1v1h-1zM56 49h1v1h-1zM60 49h1v1h-1zM100 51h1v1h-1zM48 52h1v1h-1zM56 52h1v1h-1zM92 52h1v1h-1zM23 53h1v1h-1zM52 55h1v1h-1zM70 56h1v1h-1zM78 60h1v1h-1zM52 62h1v1h-1zM54 63h1v1h-1zM88 64h1v1h-1zM16 67h1v1h-1zM31 67h1v1h-1zM51 68h1v1h-1zM87 69h1v1h-1zM9 71h1v1h-1zM55 72h1v1h-1zM22 73h1v1h-1zM67 73h1v1h-1zM55 74h1v1h-1zM76 75h1v1h-1zM73 78h1v1h-1zM8 79h1v1h-1zM69 79h1v1h-1zM72 79h1v1h-1zM32 83h1v1h-1z" fill="#d21013"/><path d="M49 1h1v1h-1zM23 6h1v1h-1zM22 7h1v1h-1zM28 8h1v1h-1zM83 9h1v1h-1zM35 12h1v1h-1zM38 14h1v1h-1zM80 14h1v1h-1zM21 16h1v1h-1zM83 36h1v1h-1zM9 38h1v1h-1zM47 41h1v1h-1zM48 51h1v1h-1zM12 54h1v1h-1zM74 54h1v1h-1zM85 55h1v1h-1zM71 56h1v1h-1zM83 56h1v1h-1zM58 59h1v1h-1zM12 60h1v1h-1zM29 60h1v1h-1zM25 62h1v1h-1zM59 63h1v1h-1zM69 64h1v1h-1zM89 65h1v1h-1zM68 68h1v1h-1zM52 70h1v1h-1zM60 72h1v1h-1zM64 77h1v1h-1zM71 78h1v1h-1zM34 81h1v1h-1zM69 81h1v1h-1zM98 81h1v1h-1zM52 82h1v1h-1z" fill="#cf0e11"/><path d="M87 12h1v1h-1zM77 17h1v1h-1zM38 22h1v1h-1zM76 23h1v1h-1zM76 28h1v1h-1zM32 32h1v1h-1zM85 32h1v1h-1zM30 33h1v1h-1zM27 36h1v1h-1zM38 36h1v1h-1zM55 36h1v1h-1zM55 45h1v1h-1zM71 47h1v1h-1zM71 48h1v1h-1zM26 49h1v1h-1zM45 52h1v1h-1zM70 52h1v1h-1zM51 54h1v1h-1zM85 56h1v1h-1zM75 58h1v1h-1zM100 60h1v1h-1zM13 63h1v1h-1zM54 64h1v1h-1zM58 67h1v1h-1zM70 69h1v1h-1zM98 69h1v1h-1zM70 72h1v1h-1zM96 72h1v1h-1zM86 73h1v1h-1zM98 76h1v1h-1zM90 80h1v1h-1zM95 81h1v1h-1z" fill="#cc0c0f"/><path d="M52 6h1v1h-1zM75 7h1v1h-1zM82 8h1v1h-1zM28 12h1v1h-1zM25 17h1v1h-1zM32 21h1v1h-1zM76 29h1v1h-1zM54 36h1v1h-1zM91 40h1v1h-1zM27 43h1v1h-1zM59 43h1v1h-1zM96 51h1v1h-1zM90 53h1v1h-1zM23 54h1v1h-1zM85 54h1v1h-1zM23 63h1v1h-1zM26 65h1v1h-1zM17 79h1v1h-1zM70 80h1v1h-1zM11 82h1v1h-1zM79 83h2v1h-2z" fill="#c90a0e"/><path d="M10 4h1v1h-1zM10 7h1v1h-1zM17 9h1v1h-1zM25 14h1v1h-1zM54 29h1v1h-1zM9 35h1v1h-1zM51 43h1v1h-1zM54 48h1v1h-1zM57 49h1v1h-1zM69 50h1v1h-1zM57 53h1v1h-1zM63 53h1v1h-1zM20 68h1v1h-1zM93 71h1v1h-1zM51 72h1v1h-1zM42 75h1v1h-1zM10 78h1v1h-1zM73 79h1v1h-1z" fill="#c7080c"/><path d="M83 1h1v1h-1zM19 3h1v1h-1zM87 8h1v1h-1zM88 9h1v1h-1zM23 10h1v1h-1zM35 17h1v1h-1zM69 17h1v1h-1zM72 17h1v1h-1zM12 20h1v1h-1zM76 26h1v1h-1zM36 28h1v1h-1zM89 28h1v1h-1zM76 31h1v1h-1zM76 37h1v1h-1zM70 38h1v1h-1zM71 43h1v1h-1zM31 47h1v1h-1zM19 48h1v1h-1zM28 49h1v1h-1zM75 49h1v1h-1zM71 53h1v1h-1zM10 54h1v1h-1zM54 54h1v1h-1zM35 55h1v1h-1zM21 58h1v1h-1zM44 60h1v1h-1zM57 60h1v1h-1zM27 63h1v1h-1zM57 63h1v1h-1zM76 64h1v1h-1zM10 68h1v1h-1zM55 68h1v1h-1zM69 75h1v1h-1zM57 77h1v1h-1zM54 78h2v1h-2zM35 80h1v1h-1zM42 81h1v1h-1z" fill="#c4060a"/></g><path d="M5.73,487.8V702M10.26,487.8V702M14.79,487.8V702M19.31,487.8V702M23.84,487.8V702M28.37,487.8V702M32.90,487.8V702M37.43,487.8V702M41.96,487.8V702M46.49,487.8V702M51.02,487.8V702M55.54,487.8V702M60.07,487.8V702M64.60,487.8V702M69.13,487.8V702M73.66,487.8V702M78.19,487.8V702M82.72,487.8V702M87.25,487.8V702M91.77,487.8V702M96.30,487.8V702M100.83,487.8V702M105.36,487.8V702M109.89,487.8V702M114.42,487.8V702M118.95,487.8V702M123.48,487.8V702M128.00,487.8V702M132.53,487.8V702M137.06,487.8V702M141.59,487.8V702M146.12,487.8V702M150.65,487.8V702M155.18,487.8V702M159.70,487.8V702M164.23,487.8V702M168.76,487.8V702M173.29,487.8V702M177.82,487.8V702M182.35,487.8V702M186.88,487.8V702M191.41,487.8V702M195.93,487.8V702M200.46,487.8V702M204.99,487.8V702M209.52,487.8V702M214.05,487.8V702M218.58,487.8V702M223.11,487.8V702M227.64,487.8V702M232.16,487.8V702M236.69,487.8V702M241.22,487.8V702M245.75,487.8V702M250.28,487.8V702M254.81,487.8V702M259.34,487.8V702M263.87,487.8V702M268.39,487.8V702M272.92,487.8V702M277.45,487.8V702M281.98,487.8V702M286.51,487.8V702M291.04,487.8V702M295.57,487.8V702M300.10,487.8V702M304.62,487.8V702M309.15,487.8V702M313.68,487.8V702M318.21,487.8V702M322.74,487.8V702M327.27,487.8V702M331.80,487.8V702M336.32,487.8V702M340.85,487.8V702M345.38,487.8V702M349.91,487.8V702M354.44,487.8V702M358.97,487.8V702M363.50,487.8V702M368.03,487.8V702M372.55,487.8V702M377.08,487.8V702M381.61,487.8V702M386.14,487.8V702M390.67,487.8V702M395.20,487.8V702M399.73,487.8V702M404.26,487.8V702M408.78,487.8V702M413.31,487.8V702M417.84,487.8V702M422.37,487.8V702M426.90,487.8V702M431.43,487.8V702M435.96,487.8V702M440.49,487.8V702M445.01,487.8V702M449.54,487.8V702M454.07,487.8V702" stroke="#ffffff" stroke-opacity="0.35" stroke-width="0.5" fill="none"/><path d="M1.2,501.81H458.6M1.2,504.22H458.6M1.2,506.64H458.6M1.2,509.05H458.6M1.2,511.46H458.6M1.2,513.87H458.6M1.2,516.28H458.6M1.2,518.70H458.6M1.2,521.11H458.6M1.2,523.52H458.6M1.2,525.93H458.6M1.2,528.34H458.6M1.2,530.75H458.6M1.2,533.17H458.6M1.2,535.58H458.6M1.2,537.99H458.6M1.2,540.40H458.6M1.2,542.81H458.6M1.2,545.23H458.6M1.2,547.64H458.6M1.2,550.05H458.6M1.2,552.46H458.6M1.2,554.87H458.6M1.2,557.29H458.6M1.2,559.70H458.6M1.2,562.11H458.6M1.2,564.52H458.6M1.2,566.93H458.6M1.2,569.35H458.6M1.2,571.76H458.6M1.2,574.17H458.6M1.2,576.58H458.6M1.2,578.99H458.6M1.2,581.40H458.6M1.2,583.82H458.6M1.2,586.23H458.6M1.2,588.64H458.6M1.2,591.05H458.6M1.2,593.46H458.6M1.2,595.88H458.6M1.2,598.29H458.6M1.2,600.70H458.6M1.2,603.11H458.6M1.2,605.52H458.6M1.2,607.94H458.6M1.2,610.35H458.6M1.2,612.76H458.6M1.2,615.17H458.6M1.2,617.58H458.6M1.2,620.00H458.6M1.2,622.41H458.6M1.2,624.82H458.6M1.2,627.23H458.6M1.2,629.64H458.6M1.2,632.05H458.6M1.2,634.47H458.6M1.2,636.88H458.6M1.2,639.29H458.6M1.2,641.70H458.6M1.2,644.11H458.6M1.2,646.53H458.6M1.2,648.94H458.6M1.2,651.35H458.6M1.2,653.76H458.6M1.2,656.17H458.6M1.2,658.59H458.6M1.2,661.00H458.6M1.2,663.41H458.6M1.2,665.82H458.6M1.2,668.23H458.6M1.2,670.65H458.6M1.2,673.06H458.6M1.2,675.47H458.6M1.2,677.88H458.6M1.2,680.29H458.6M1.2,682.70H458.6M1.2,685.12H458.6M1.2,687.53H458.6M1.2,689.94H458.6M1.2,692.35H458.6M1.2,694.76H458.6M1.2,697.18H458.6M1.2,699.59H458.6" stroke="#ffffff" stroke-opacity="0.2" stroke-width="0.4" fill="none"/><path d="M1.2,491.5H458.6M1.2,495.6H458.6M1.2,499.4H458.6" stroke="#ffffff" stroke-opacity="0.4" stroke-width="0.4" fill="none"/><rect x="463.2" y="505.0" width="9.5" height="10.4" fill="#0a0a0a"/><text x="475.8" y="513.1" font-family="'Liberation Sans', sans-serif" font-weight="bold" font-size="5.6" fill="#111" stroke="#111" stroke-width="0.2">TET2 MUTATION</text><rect x="463.2" y="518.5" width="9.5" height="10.3" fill="#dedede"/><text x="475.8" y="525.8" font-family="'Liberation Sans', sans-serif" font-weight="bold" font-size="5.6" fill="#111" stroke="#111" stroke-width="0.2">TET2 WT</text><rect x="463.2" y="532.3" width="9.5" height="10.4" fill="#b8b8d6"/><text x="475.8" y="538.5" font-family="'Liberation Sans', sans-serif" font-weight="bold" font-size="5.6" fill="#111" stroke="#111" stroke-width="0.2">NORMAL</text><rect x="464.2" y="559.2" width="10.8" height="8.0" fill="#5cd4e4"/><text x="478.1" y="565.2" font-family="'Liberation Sans', sans-serif" font-weight="bold" font-size="5.6" fill="#111" stroke="#111" stroke-width="0.2">HOMO_V617F</text><rect x="464.2" y="570.3" width="10.8" height="9.2" fill="#eeaaaa"/><text x="478.1" y="577.6" font-family="'Liberation Sans', sans-serif" font-weight="bold" font-size="5.6" fill="#111" stroke="#111" stroke-width="0.2">HET_V617F</text><rect x="464.2" y="582.2" width="10.8" height="8.9" fill="#fdf6a6"/><text x="478.1" y="589.8" font-family="'Liberation Sans', sans-serif" font-weight="bold" font-size="5.6" fill="#111" stroke="#111" stroke-width="0.2">WT_V617F</text><rect x="464.2" y="594.3" width="10.8" height="8.8" fill="#b8b8d6"/><text x="478.1" y="603.1" font-family="'Liberation Sans', sans-serif" font-weight="bold" font-size="5.6" fill="#111" stroke="#111" stroke-width="0.2">NORMAL</text><rect x="464.7" y="616.2" width="9.9" height="10.0" fill="#1a4fd6"/><text x="476.8" y="621.7" font-family="'Liberation Sans', sans-serif" font-weight="bold" font-size="5.6" fill="#111" stroke="#111" stroke-width="0.2">PV</text><rect x="464.7" y="628.8" width="9.9" height="9.3" fill="#d41a26"/><text x="476.8" y="634.8" font-family="'Liberation Sans', sans-serif" font-weight="bold" font-size="5.6" fill="#111" stroke="#111" stroke-width="0.2">ET</text><rect x="464.7" y="641.9" width="9.9" height="9.3" fill="#f0901e"/><text x="476.8" y="647.3" font-family="'Liberation Sans', sans-serif" font-weight="bold" font-size="5.6" fill="#111" stroke="#111" stroke-width="0.2">MF</text><rect x="464.7" y="655.0" width="9.9" height="8.8" fill="#b8b8d6"/><text x="476.8" y="660.0" font-family="'Liberation Sans', sans-serif" font-weight="bold" font-size="5.6" fill="#111" stroke="#111" stroke-width="0.2">NORMAL</text></svg>
</body></html>
